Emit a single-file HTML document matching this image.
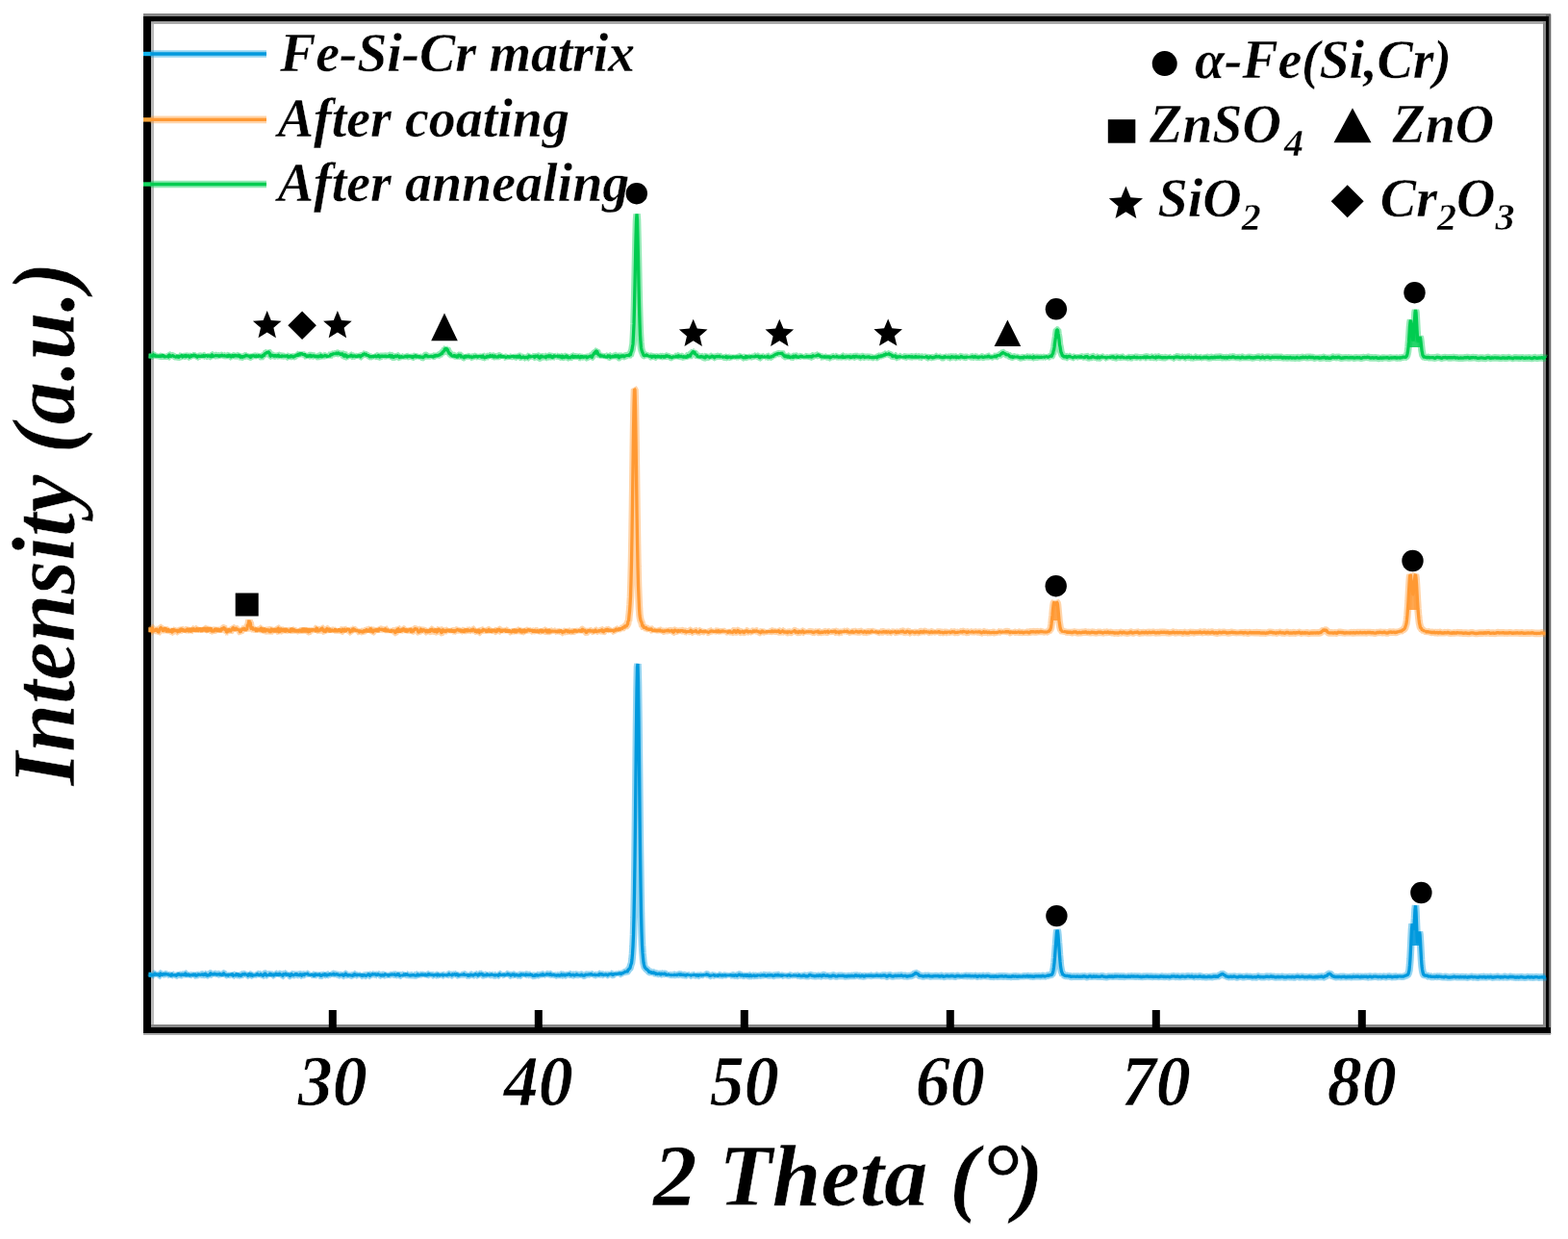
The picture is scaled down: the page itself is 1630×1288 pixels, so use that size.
<!DOCTYPE html>
<html lang="en"><head><meta charset="utf-8"><title>XRD patterns</title>
<style>html,body{margin:0;padding:0;background:#fff}body{width:1630px;height:1288px}svg{display:block}text{font-family:'Liberation Serif', 'DejaVu Serif', serif;font-weight:bold;font-style:italic;fill:#000}</style></head><body>
<svg width="1630" height="1288" viewBox="0 0 1630 1288">
<rect x="0" y="0" width="1630" height="1288" fill="#fff"/>
<g fill="#000">
<rect x="149" y="15" width="8" height="1060"/>
<rect x="157" y="15" width="3" height="1055" fill="#bbb"/>
<rect x="149" y="14" width="1463" height="3" fill="#888"/>
<rect x="149" y="17" width="1463" height="5.5"/>
<rect x="157" y="22.5" width="1450" height="2.5" fill="#aaa"/>
<rect x="1604" y="22" width="3" height="1046" fill="#888"/>
<rect x="1607" y="15" width="5.3" height="1060" fill="#666"/>
<rect x="1607" y="17" width="3" height="1056"/>
<rect x="157" y="1065" width="1450" height="3" fill="#888"/>
<rect x="149" y="1068" width="1463" height="6"/>
<rect x="149" y="1074" width="1463" height="2" fill="#aaa"/>
<rect x="341.8" y="1050" width="8" height="20"/>
<rect x="555.8" y="1050" width="8" height="20"/>
<rect x="769.8" y="1050" width="8" height="20"/>
<rect x="983.8" y="1050" width="8" height="20"/>
<rect x="1197.8" y="1050" width="8" height="20"/>
<rect x="1411.8" y="1050" width="8" height="20"/>
<rect x="149" y="53.8" width="8" height="4.4" fill="#12b4ee"/>
<rect x="149" y="122.2" width="8" height="4.4" fill="#f7a53a"/>
<rect x="149" y="189.3" width="8" height="4.4" fill="#16d862"/>
<rect x="154.5" y="1010.7" width="3" height="5" fill="#12c0f2"/>
<rect x="154.5" y="652.3" width="3" height="5" fill="#ffb84a"/>
<rect x="154.5" y="367.6" width="3" height="5" fill="#2ee070"/>
</g>
<path fill="#00cc50" fill-opacity="0.85" d="M1464.5,361.0 L1464.5,355.3 L1465.0,347.8 L1465.5,340.2 L1466.0,334.7 L1466.5,333.1 L1467.0,336.1 L1467.5,342.0 L1468.0,348.4 L1468.5,353.0 L1469.0,353.8 L1469.5,350.1 L1470.0,342.6 L1470.5,333.1 L1471.0,325.0 L1471.5,321.7 L1472.0,325.0 L1472.5,333.1 L1473.0,342.6 L1473.5,350.3 L1474.0,354.5 L1474.5,355.0 L1475.0,353.1 L1475.5,350.6 L1476.0,349.7 L1476.5,351.5 L1477.0,355.3 L1477.5,359.9 L1477.5,361.0 Z"/>
<path fill="#ff9933" fill-opacity="0.85" d="M1463.5,634.0 L1463.5,632.8 L1464.0,624.9 L1464.5,616.0 L1465.0,607.2 L1465.5,600.1 L1466.0,596.9 L1466.5,598.4 L1467.0,603.4 L1467.5,609.5 L1468.0,614.7 L1468.5,617.6 L1469.0,617.6 L1469.5,614.7 L1470.0,609.5 L1470.5,603.4 L1471.0,598.4 L1471.5,596.9 L1472.0,600.1 L1472.5,607.2 L1473.0,616.0 L1473.5,624.9 L1474.0,632.8 L1474.0,634.0 Z"/>
<path fill="#ff9933" fill-opacity="0.85" d="M1093.5,645.0 L1093.5,644.9 L1094.0,639.6 L1094.5,633.9 L1095.0,629.0 L1095.5,626.3 L1096.0,626.2 L1096.5,627.7 L1097.0,629.0 L1097.5,629.0 L1098.0,627.7 L1098.5,626.2 L1099.0,626.3 L1099.5,629.0 L1100.0,634.0 L1100.5,639.7 L1101.0,644.9 L1101.0,645.0 Z"/>
<path fill="#0099dd" fill-opacity="0.85" d="M1467.0,983.0 L1467.0,975.6 L1467.5,965.9 L1468.0,960.8 L1468.5,961.6 L1469.0,965.1 L1469.5,966.5 L1470.0,962.9 L1470.5,954.5 L1471.0,945.3 L1471.5,941.7 L1472.0,947.6 L1472.5,959.6 L1473.0,971.6 L1473.5,979.1 L1474.0,980.3 L1474.5,976.6 L1475.0,971.1 L1475.5,968.3 L1476.0,971.0 L1476.5,978.7 L1476.5,983.0 Z"/>
<g fill="none" stroke-linejoin="bevel" stroke-linecap="butt">
<g stroke="#0099dd">
<path stroke-width="7.6" stroke-opacity="0.42" d="M157.0,1012.2 L157.5,1014.2 L158.0,1013.9 L158.5,1012.5 L159.0,1013.2 L159.5,1013.1 L160.0,1013.6 L160.5,1014.0 L161.0,1012.1 L161.5,1011.9 L162.0,1014.1 L162.5,1013.0 L163.0,1013.9 L163.5,1011.8 L164.0,1013.0 L164.5,1013.8 L165.0,1012.4 L165.5,1014.4 L166.0,1014.3 L166.5,1011.9 L167.0,1011.9 L167.5,1013.3 L168.0,1014.4 L168.5,1012.9 L169.0,1012.4 L169.5,1013.0 L170.0,1011.9 L170.5,1012.4 L171.0,1013.0 L171.5,1013.2 L172.0,1012.5 L172.5,1012.5 L173.0,1012.4 L173.5,1013.1 L174.0,1012.6 L174.5,1011.9 L175.0,1014.1 L175.5,1013.4 L176.0,1013.6 L176.5,1012.3 L177.0,1014.6 L177.5,1014.2 L178.0,1012.2 L178.5,1012.7 L179.0,1013.8 L179.5,1013.8 L180.0,1014.4 L180.5,1013.0 L181.0,1014.1 L181.5,1013.7 L182.0,1012.7 L182.5,1013.5 L183.0,1014.3 L183.5,1014.2 L184.0,1013.2 L184.5,1013.5 L185.0,1011.9 L185.5,1012.5 L186.0,1014.0 L186.5,1013.0 L187.0,1012.3 L187.5,1013.4 L188.0,1013.8 L188.5,1013.7 L189.0,1012.9 L189.5,1013.0 L190.0,1013.2 L190.5,1014.0 L191.0,1013.3 L191.5,1012.9 L192.0,1013.2 L192.5,1011.9 L193.0,1012.0 L193.5,1013.8 L194.0,1014.6 L194.5,1013.5 L195.0,1012.9 L195.5,1012.3 L196.0,1013.2 L196.5,1014.5 L197.0,1014.0 L197.5,1013.3 L198.0,1014.2 L198.5,1012.5 L199.0,1013.3 L199.5,1014.5 L200.0,1013.4 L200.5,1013.1 L201.0,1012.6 L201.5,1013.4 L202.0,1014.5 L202.5,1011.9 L203.0,1014.0 L203.5,1014.1 L204.0,1014.3 L204.5,1013.9 L205.0,1014.1 L205.5,1013.3 L206.0,1013.4 L206.5,1013.0 L207.0,1012.0 L207.5,1014.2 L208.0,1013.4 L208.5,1012.4 L209.0,1013.2 L209.5,1013.2 L210.0,1012.8 L210.5,1012.8 L211.0,1013.3 L211.5,1013.6 L212.0,1013.5 L212.5,1013.1 L213.0,1011.9 L213.5,1012.5 L214.0,1012.4 L214.5,1013.5 L215.0,1014.2 L215.5,1014.0 L216.0,1014.0 L216.5,1014.1 L217.0,1012.6 L217.5,1014.2 L218.0,1013.7 L218.5,1012.1 L219.0,1011.9 L219.5,1011.9 L220.0,1013.9 L220.5,1012.6 L221.0,1012.2 L221.5,1013.6 L222.0,1012.8 L222.5,1012.1 L223.0,1012.3 L223.5,1013.3 L224.0,1012.3 L224.5,1012.6 L225.0,1013.8 L225.5,1013.1 L226.0,1012.8 L226.5,1013.2 L227.0,1011.9 L227.5,1012.9 L228.0,1013.0 L228.5,1012.4 L229.0,1012.2 L229.5,1014.3 L230.0,1013.3 L230.5,1012.5 L231.0,1013.5 L231.5,1014.1 L232.0,1011.9 L232.5,1011.9 L233.0,1012.3 L233.5,1013.8 L234.0,1012.3 L234.5,1013.8 L235.0,1013.7 L235.5,1013.4 L236.0,1012.5 L236.5,1014.5 L237.0,1014.0 L237.5,1013.3 L238.0,1012.5 L238.5,1013.6 L239.0,1013.0 L239.5,1013.5 L240.0,1012.8 L240.5,1013.6 L241.0,1012.1 L241.5,1012.7 L242.0,1014.5 L242.5,1014.3 L243.0,1012.7 L243.5,1014.2 L244.0,1012.7 L244.5,1014.4 L245.0,1013.9 L245.5,1013.0 L246.0,1012.6 L246.5,1011.9 L247.0,1014.3 L247.5,1012.0 L248.0,1014.1 L248.5,1014.5 L249.0,1013.4 L249.5,1012.4 L250.0,1014.2 L250.5,1014.5 L251.0,1013.8 L251.5,1013.3 L252.0,1012.9 L252.5,1012.8 L253.0,1012.5 L253.5,1013.7 L254.0,1013.1 L254.5,1012.4 L255.0,1012.2 L255.5,1013.7 L256.0,1012.7 L256.5,1013.3 L257.0,1012.8 L257.5,1014.3 L258.0,1014.3 L258.5,1012.0 L259.0,1012.5 L259.5,1012.8 L260.0,1014.6 L260.5,1014.0 L261.0,1012.8 L261.5,1012.5 L262.0,1013.7 L262.5,1014.2 L263.0,1014.4 L263.5,1012.8 L264.0,1014.3 L264.5,1013.8 L265.0,1013.2 L265.5,1014.6 L266.0,1012.6 L266.5,1013.9 L267.0,1012.2 L267.5,1012.4 L268.0,1014.4 L268.5,1012.5 L269.0,1014.0 L269.5,1013.5 L270.0,1014.2 L270.5,1012.9 L271.0,1012.8 L271.5,1012.7 L272.0,1014.2 L272.5,1013.5 L273.0,1014.5 L273.5,1014.3 L274.0,1012.3 L274.5,1013.4 L275.0,1012.2 L275.5,1012.0 L276.0,1012.1 L276.5,1014.2 L277.0,1014.0 L277.5,1014.1 L278.0,1012.8 L278.5,1013.6 L279.0,1014.0 L279.5,1012.9 L280.0,1013.5 L280.5,1012.5 L281.0,1012.2 L281.5,1012.7 L282.0,1014.3 L282.5,1013.4 L283.0,1014.4 L283.5,1013.2 L284.0,1012.7 L284.5,1014.0 L285.0,1014.1 L285.5,1012.0 L286.0,1013.7 L286.5,1012.2 L287.0,1012.3 L287.5,1014.3 L288.0,1012.1 L288.5,1012.6 L289.0,1014.6 L289.5,1013.1 L290.0,1012.3 L290.5,1012.4 L291.0,1012.6 L291.5,1013.9 L292.0,1012.2 L292.5,1014.4 L293.0,1013.0 L293.5,1014.5 L294.0,1014.4 L294.5,1012.7 L295.0,1012.6 L295.5,1013.2 L296.0,1012.2 L296.5,1013.7 L297.0,1012.1 L297.5,1012.0 L298.0,1014.5 L298.5,1012.7 L299.0,1013.5 L299.5,1013.1 L300.0,1012.8 L300.5,1012.1 L301.0,1014.4 L301.5,1014.5 L302.0,1014.5 L302.5,1012.3 L303.0,1012.5 L303.5,1013.6 L304.0,1014.5 L304.5,1013.4 L305.0,1013.8 L305.5,1013.7 L306.0,1012.7 L306.5,1013.4 L307.0,1012.8 L307.5,1012.6 L308.0,1012.2 L308.5,1012.7 L309.0,1014.5 L309.5,1013.2 L310.0,1013.7 L310.5,1013.7 L311.0,1014.4 L311.5,1013.0 L312.0,1012.8 L312.5,1012.8 L313.0,1012.8 L313.5,1014.2 L314.0,1014.3 L314.5,1012.8 L315.0,1012.9 L315.5,1013.4 L316.0,1013.5 L316.5,1013.5 L317.0,1012.6 L317.5,1012.0 L318.0,1012.6 L318.5,1012.2 L319.0,1013.4 L319.5,1012.2 L320.0,1012.2 L320.5,1013.6 L321.0,1012.7 L321.5,1014.1 L322.0,1013.3 L322.5,1014.2 L323.0,1012.4 L323.5,1013.3 L324.0,1014.1 L324.5,1012.2 L325.0,1014.5 L325.5,1012.4 L326.0,1014.0 L326.5,1014.6 L327.0,1014.1 L327.5,1012.8 L328.0,1012.3 L328.5,1013.3 L329.0,1014.4 L329.5,1012.8 L330.0,1014.3 L330.5,1012.4 L331.0,1014.4 L331.5,1012.1 L332.0,1012.8 L332.5,1014.3 L333.0,1014.1 L333.5,1014.4 L334.0,1014.2 L334.5,1013.9 L335.0,1013.8 L335.5,1012.5 L336.0,1013.1 L336.5,1012.4 L337.0,1013.9 L337.5,1013.7 L338.0,1012.7 L338.5,1012.2 L339.0,1014.5 L339.5,1014.1 L340.0,1013.4 L340.5,1013.4 L341.0,1014.2 L341.5,1013.2 L342.0,1013.0 L342.5,1012.9 L343.0,1012.7 L343.5,1012.1 L344.0,1013.7 L344.5,1013.1 L345.0,1013.5 L345.5,1012.2 L346.0,1012.9 L346.5,1012.4 L347.0,1012.3 L347.5,1012.7 L348.0,1014.2 L348.5,1013.0 L349.0,1013.1 L349.5,1013.6 L350.0,1012.6 L350.5,1012.0 L351.0,1013.4 L351.5,1013.3 L352.0,1013.7 L352.5,1013.2 L353.0,1013.8 L353.5,1013.9 L354.0,1012.6 L354.5,1013.3 L355.0,1013.3 L355.5,1012.6 L356.0,1013.1 L356.5,1013.5 L357.0,1014.4 L357.5,1014.4 L358.0,1012.7 L358.5,1013.7 L359.0,1012.2 L359.5,1012.2 L360.0,1013.3 L360.5,1014.3 L361.0,1012.4 L361.5,1014.0 L362.0,1014.3 L362.5,1012.8 L363.0,1013.8 L363.5,1014.2 L364.0,1013.0 L364.5,1013.8 L365.0,1013.9 L365.5,1013.6 L366.0,1014.2 L366.5,1014.3 L367.0,1014.5 L367.5,1013.5 L368.0,1012.5 L368.5,1012.7 L369.0,1012.6 L369.5,1013.5 L370.0,1014.0 L370.5,1012.2 L371.0,1013.8 L371.5,1013.9 L372.0,1012.9 L372.5,1013.4 L373.0,1012.5 L373.5,1013.9 L374.0,1012.2 L374.5,1014.5 L375.0,1014.1 L375.5,1013.6 L376.0,1012.7 L376.5,1014.4 L377.0,1014.5 L377.5,1012.4 L378.0,1014.0 L378.5,1014.2 L379.0,1013.7 L379.5,1013.8 L380.0,1013.2 L380.5,1014.4 L381.0,1014.5 L381.5,1013.0 L382.0,1014.1 L382.5,1013.2 L383.0,1012.5 L383.5,1012.9 L384.0,1012.4 L384.5,1014.4 L385.0,1014.5 L385.5,1012.4 L386.0,1013.6 L386.5,1013.1 L387.0,1012.4 L387.5,1012.8 L388.0,1012.7 L388.5,1014.0 L389.0,1012.1 L389.5,1012.6 L390.0,1013.2 L390.5,1012.1 L391.0,1013.7 L391.5,1013.6 L392.0,1014.2 L392.5,1012.6 L393.0,1012.8 L393.5,1013.4 L394.0,1012.8 L394.5,1013.5 L395.0,1012.7 L395.5,1013.8 L396.0,1014.1 L396.5,1014.1 L397.0,1014.5 L397.5,1013.4 L398.0,1013.3 L398.5,1014.2 L399.0,1014.0 L399.5,1013.5 L400.0,1013.0 L400.5,1012.8 L401.0,1012.4 L401.5,1014.1 L402.0,1012.4 L402.5,1014.0 L403.0,1013.5 L403.5,1014.5 L404.0,1014.0 L404.5,1014.5 L405.0,1012.4 L405.5,1013.3 L406.0,1013.5 L406.5,1012.9 L407.0,1013.3 L407.5,1013.0 L408.0,1013.4 L408.5,1012.1 L409.0,1013.2 L409.5,1013.2 L410.0,1012.9 L410.5,1013.1 L411.0,1014.0 L411.5,1013.8 L412.0,1013.3 L412.5,1013.7 L413.0,1013.0 L413.5,1012.6 L414.0,1012.1 L414.5,1012.8 L415.0,1013.6 L415.5,1014.3 L416.0,1014.2 L416.5,1013.4 L417.0,1014.5 L417.5,1013.3 L418.0,1014.2 L418.5,1013.1 L419.0,1013.9 L419.5,1014.5 L420.0,1012.9 L420.5,1012.5 L421.0,1013.6 L421.5,1013.4 L422.0,1013.0 L422.5,1012.1 L423.0,1013.1 L423.5,1013.2 L424.0,1013.1 L424.5,1014.2 L425.0,1013.6 L425.5,1013.9 L426.0,1014.3 L426.5,1014.0 L427.0,1013.3 L427.5,1013.9 L428.0,1013.7 L428.5,1013.7 L429.0,1013.7 L429.5,1013.1 L430.0,1013.7 L430.5,1013.7 L431.0,1014.4 L431.5,1014.0 L432.0,1014.2 L432.5,1014.0 L433.0,1014.1 L433.5,1013.6 L434.0,1013.0 L434.5,1012.8 L435.0,1013.9 L435.5,1014.3 L436.0,1013.5 L436.5,1012.5 L437.0,1014.2 L437.5,1013.3 L438.0,1013.3 L438.5,1012.3 L439.0,1013.4 L439.5,1013.9 L440.0,1013.2 L440.5,1013.0 L441.0,1013.7 L441.5,1012.2 L442.0,1013.4 L442.5,1014.4 L443.0,1013.8 L443.5,1013.1 L444.0,1013.8 L444.5,1013.6 L445.0,1012.7 L445.5,1012.7 L446.0,1014.3 L446.5,1012.8 L447.0,1012.4 L447.5,1014.1 L448.0,1013.4 L448.5,1013.0 L449.0,1013.4 L449.5,1013.9 L450.0,1012.6 L450.5,1013.7 L451.0,1013.9 L451.5,1014.1 L452.0,1012.8 L452.5,1013.6 L453.0,1012.7 L453.5,1013.5 L454.0,1012.6 L454.5,1014.0 L455.0,1014.2 L455.5,1013.0 L456.0,1012.7 L456.5,1014.5 L457.0,1013.9 L457.5,1014.2 L458.0,1012.3 L458.5,1014.3 L459.0,1013.7 L459.5,1012.9 L460.0,1013.2 L460.5,1014.0 L461.0,1014.0 L461.5,1012.6 L462.0,1013.7 L462.5,1012.6 L463.0,1014.5 L463.5,1013.2 L464.0,1014.3 L464.5,1013.9 L465.0,1013.6 L465.5,1012.8 L466.0,1013.4 L466.5,1012.5 L467.0,1012.5 L467.5,1013.9 L468.0,1013.0 L468.5,1014.0 L469.0,1012.8 L469.5,1013.9 L470.0,1013.9 L470.5,1012.9 L471.0,1012.5 L471.5,1013.1 L472.0,1013.4 L472.5,1012.5 L473.0,1012.7 L473.5,1012.3 L474.0,1013.6 L474.5,1014.3 L475.0,1012.7 L475.5,1012.3 L476.0,1013.8 L476.5,1014.1 L477.0,1014.4 L477.5,1013.6 L478.0,1013.0 L478.5,1014.2 L479.0,1012.5 L479.5,1013.8 L480.0,1012.5 L480.5,1013.1 L481.0,1013.4 L481.5,1013.1 L482.0,1012.6 L482.5,1012.8 L483.0,1014.1 L483.5,1013.3 L484.0,1013.6 L484.5,1012.7 L485.0,1013.9 L485.5,1013.0 L486.0,1013.6 L486.5,1014.3 L487.0,1014.5 L487.5,1012.4 L488.0,1014.1 L488.5,1014.2 L489.0,1013.0 L489.5,1013.1 L490.0,1013.6 L490.5,1014.3 L491.0,1013.2 L491.5,1014.2 L492.0,1014.0 L492.5,1012.6 L493.0,1014.3 L493.5,1012.3 L494.0,1012.6 L494.5,1013.8 L495.0,1012.4 L495.5,1013.1 L496.0,1012.6 L496.5,1013.3 L497.0,1014.1 L497.5,1014.3 L498.0,1012.3 L498.5,1012.4 L499.0,1014.1 L499.5,1012.4 L500.0,1012.9 L500.5,1012.5 L501.0,1012.5 L501.5,1012.3 L502.0,1013.7 L502.5,1013.9 L503.0,1013.8 L503.5,1014.2 L504.0,1013.7 L504.5,1013.1 L505.0,1013.7 L505.5,1014.4 L506.0,1013.7 L506.5,1012.8 L507.0,1012.4 L507.5,1014.4 L508.0,1013.6 L508.5,1013.1 L509.0,1013.6 L509.5,1013.5 L510.0,1013.4 L510.5,1012.4 L511.0,1013.1 L511.5,1013.2 L512.0,1012.7 L512.5,1014.2 L513.0,1013.2 L513.5,1013.7 L514.0,1013.9 L514.5,1013.9 L515.0,1013.9 L515.5,1013.9 L516.0,1012.8 L516.5,1014.4 L517.0,1012.6 L517.5,1014.3 L518.0,1014.2 L518.5,1014.2 L519.0,1012.4 L519.5,1012.5 L520.0,1014.1 L520.5,1013.3 L521.0,1013.1 L521.5,1014.4 L522.0,1012.4 L522.5,1013.5 L523.0,1013.3 L523.5,1012.6 L524.0,1013.2 L524.5,1013.8 L525.0,1014.2 L525.5,1012.4 L526.0,1013.4 L526.5,1012.5 L527.0,1014.0 L527.5,1012.5 L528.0,1012.4 L528.5,1013.1 L529.0,1013.9 L529.5,1013.0 L530.0,1012.6 L530.5,1014.0 L531.0,1014.1 L531.5,1014.2 L532.0,1013.0 L532.5,1013.2 L533.0,1012.8 L533.5,1013.5 L534.0,1013.0 L534.5,1013.0 L535.0,1014.0 L535.5,1014.4 L536.0,1013.6 L536.5,1012.5 L537.0,1013.7 L537.5,1013.3 L538.0,1014.4 L538.5,1013.9 L539.0,1014.1 L539.5,1013.8 L540.0,1013.5 L540.5,1014.2 L541.0,1014.1 L541.5,1013.0 L542.0,1012.7 L542.5,1013.1 L543.0,1013.4 L543.5,1012.5 L544.0,1013.1 L544.5,1013.6 L545.0,1012.4 L545.5,1014.1 L546.0,1013.7 L546.5,1013.0 L547.0,1013.0 L547.5,1013.1 L548.0,1013.0 L548.5,1013.9 L549.0,1013.4 L549.5,1013.4 L550.0,1012.7 L550.5,1014.3 L551.0,1013.0 L551.5,1013.0 L552.0,1012.5 L552.5,1014.4 L553.0,1013.4 L553.5,1014.3 L554.0,1014.3 L554.5,1014.4 L555.0,1014.1 L555.5,1014.3 L556.0,1014.3 L556.5,1014.0 L557.0,1012.6 L557.5,1013.4 L558.0,1013.5 L558.5,1014.4 L559.0,1014.0 L559.5,1013.8 L560.0,1013.9 L560.5,1013.1 L561.0,1014.3 L561.5,1013.7 L562.0,1013.2 L562.5,1013.3 L563.0,1014.4 L563.5,1013.5 L564.0,1012.7 L564.5,1012.7 L565.0,1013.8 L565.5,1013.5 L566.0,1014.2 L566.5,1012.7 L567.0,1013.2 L567.5,1013.9 L568.0,1012.5 L568.5,1012.6 L569.0,1013.5 L569.5,1012.9 L570.0,1012.6 L570.5,1012.9 L571.0,1013.7 L571.5,1013.4 L572.0,1012.5 L572.5,1012.5 L573.0,1014.1 L573.5,1013.7 L574.0,1012.7 L574.5,1014.1 L575.0,1012.4 L575.5,1013.1 L576.0,1014.1 L576.5,1013.8 L577.0,1012.9 L577.5,1014.2 L578.0,1013.6 L578.5,1014.1 L579.0,1014.2 L579.5,1013.2 L580.0,1013.7 L580.5,1013.5 L581.0,1014.3 L581.5,1014.0 L582.0,1013.8 L582.5,1014.0 L583.0,1014.4 L583.5,1012.9 L584.0,1012.8 L584.5,1013.9 L585.0,1013.9 L585.5,1013.4 L586.0,1013.3 L586.5,1013.2 L587.0,1014.1 L587.5,1014.0 L588.0,1013.5 L588.5,1012.4 L589.0,1014.1 L589.5,1013.3 L590.0,1012.7 L590.5,1013.0 L591.0,1013.7 L591.5,1012.4 L592.0,1012.6 L592.5,1013.0 L593.0,1014.1 L593.5,1013.8 L594.0,1014.3 L594.5,1013.4 L595.0,1013.5 L595.5,1013.4 L596.0,1013.4 L596.5,1013.4 L597.0,1014.0 L597.5,1014.2 L598.0,1013.2 L598.5,1013.6 L599.0,1013.0 L599.5,1012.9 L600.0,1013.3 L600.5,1013.5 L601.0,1013.4 L601.5,1014.3 L602.0,1012.7 L602.5,1013.6 L603.0,1014.3 L603.5,1013.8 L604.0,1013.4 L604.5,1013.1 L605.0,1013.1 L605.5,1014.2 L606.0,1014.1 L606.5,1013.6 L607.0,1014.1 L607.5,1014.1 L608.0,1014.0 L608.5,1013.1 L609.0,1013.2 L609.5,1013.9 L610.0,1013.0 L610.5,1013.8 L611.0,1013.2 L611.5,1013.0 L612.0,1013.2 L612.5,1012.5 L613.0,1013.0 L613.5,1013.1 L614.0,1012.3 L614.5,1012.6 L615.0,1012.8 L615.5,1013.9 L616.0,1013.4 L616.5,1012.8 L617.0,1014.2 L617.5,1012.8 L618.0,1013.2 L618.5,1013.7 L619.0,1013.6 L619.5,1013.1 L620.0,1013.7 L620.5,1013.2 L621.0,1013.6 L621.5,1013.2 L622.0,1014.1 L622.5,1013.6 L623.0,1012.4 L623.5,1012.4 L624.0,1014.0 L624.5,1012.6 L625.0,1012.2 L625.5,1012.6 L626.0,1013.1 L626.5,1013.9 L627.0,1012.9 L627.5,1013.5 L628.0,1013.7 L628.5,1012.3 L629.0,1013.2 L629.5,1014.0 L630.0,1013.1 L630.5,1013.1 L631.0,1012.7 L631.5,1013.8 L632.0,1013.8 L632.5,1012.2 L633.0,1013.0 L633.5,1012.7 L634.0,1013.2 L634.5,1012.1 L635.0,1012.4 L635.5,1012.4 L636.0,1012.7 L636.5,1013.3 L637.0,1013.4 L637.5,1013.2 L638.0,1013.0 L638.5,1011.9 L639.0,1012.4 L639.5,1012.9 L640.0,1012.1 L640.5,1012.5 L641.0,1013.2 L641.5,1011.7 L642.0,1013.0 L642.5,1011.5 L643.0,1012.0 L643.5,1012.9 L644.0,1011.5 L644.5,1012.0 L645.0,1011.7 L645.5,1012.5 L646.0,1012.6 L646.5,1011.2 L647.0,1011.5 L647.5,1012.1 L648.0,1011.3 L648.5,1010.5 L649.0,1011.3 L649.5,1010.4 L650.0,1010.4 L650.5,1009.3 L651.0,1010.8 L651.5,1009.9 L652.0,1010.0 L652.5,1009.7 L653.0,1008.0 L653.5,1007.9 L654.0,1007.1 L654.5,1007.0 L655.0,1006.2 L655.5,1004.0 L656.0,1002.5 L656.5,1001.2 L657.0,997.3 L657.5,991.6 L658.0,983.6 L658.5,971.7 L659.0,953.2 L659.5,927.8 L660.0,892.8 L660.5,851.2 L661.0,803.6 L661.5,757.1 L662.0,716.9 L662.5,693.2 L663.0,690.0 L663.5,710.4 L664.0,748.3 L664.5,794.6 L665.0,841.7 L665.5,885.2 L666.0,920.3 L666.5,949.2 L667.0,968.8 L667.5,982.2 L668.0,990.2 L668.5,996.3 L669.0,1000.6 L669.5,1002.9 L670.0,1004.8 L670.5,1006.2 L671.0,1006.1 L671.5,1007.2 L672.0,1007.5 L672.5,1007.7 L673.0,1008.2 L673.5,1008.8 L674.0,1008.9 L674.5,1010.0 L675.0,1010.6 L675.5,1010.6 L676.0,1011.0 L676.5,1010.4 L677.0,1010.5 L677.5,1011.4 L678.0,1012.1 L678.5,1011.4 L679.0,1010.8 L679.5,1010.9 L680.0,1011.5 L680.5,1012.2 L681.0,1011.3 L681.5,1011.6 L682.0,1012.5 L682.5,1013.1 L683.0,1012.1 L683.5,1012.6 L684.0,1012.5 L684.5,1011.7 L685.0,1012.3 L685.5,1012.0 L686.0,1012.2 L686.5,1013.2 L687.0,1013.0 L687.5,1012.0 L688.0,1012.1 L688.5,1013.2 L689.0,1012.2 L689.5,1012.6 L690.0,1012.5 L690.5,1012.2 L691.0,1012.2 L691.5,1012.4 L692.0,1012.8 L692.5,1013.8 L693.0,1013.3 L693.5,1012.6 L694.0,1013.4 L694.5,1012.7 L695.0,1013.2 L695.5,1012.9 L696.0,1013.9 L696.5,1012.9 L697.0,1013.7 L697.5,1013.5 L698.0,1013.8 L698.5,1013.4 L699.0,1013.9 L699.5,1013.1 L700.0,1013.6 L700.5,1013.5 L701.0,1013.4 L701.5,1013.4 L702.0,1013.4 L702.5,1013.2 L703.0,1014.0 L703.5,1013.6 L704.0,1013.4 L704.5,1012.6 L705.0,1013.4 L705.5,1012.8 L706.0,1012.9 L706.5,1013.3 L707.0,1013.5 L707.5,1013.0 L708.0,1013.0 L708.5,1013.5 L709.0,1013.4 L709.5,1013.3 L710.0,1012.8 L710.5,1013.3 L711.0,1013.7 L711.5,1013.6 L712.0,1013.6 L712.5,1014.1 L713.0,1013.9 L713.5,1013.8 L714.0,1012.7 L714.5,1013.2 L715.0,1013.8 L715.5,1013.0 L716.0,1014.2 L716.5,1012.9 L717.0,1014.2 L717.5,1013.1 L718.0,1014.1 L718.5,1014.1 L719.0,1013.3 L719.5,1014.2 L720.0,1013.0 L720.5,1014.2 L721.0,1013.4 L721.5,1013.5 L722.0,1013.0 L722.5,1013.8 L723.0,1013.2 L723.5,1013.9 L724.0,1014.1 L724.5,1013.8 L725.0,1012.8 L725.5,1014.4 L726.0,1014.3 L726.5,1013.9 L727.0,1013.4 L727.5,1013.7 L728.0,1014.3 L728.5,1013.6 L729.0,1014.1 L729.5,1013.8 L730.0,1013.5 L730.5,1014.4 L731.0,1013.5 L731.5,1013.8 L732.0,1012.9 L732.5,1013.6 L733.0,1012.9 L733.5,1014.0 L734.0,1012.9 L734.5,1012.9 L735.0,1013.0 L735.5,1013.1 L736.0,1013.7 L736.5,1013.5 L737.0,1013.3 L737.5,1014.5 L738.0,1014.4 L738.5,1014.0 L739.0,1014.2 L739.5,1014.2 L740.0,1013.3 L740.5,1014.2 L741.0,1013.3 L741.5,1013.8 L742.0,1013.5 L742.5,1013.2 L743.0,1014.2 L743.5,1014.4 L744.0,1013.4 L744.5,1014.4 L745.0,1013.5 L745.5,1014.0 L746.0,1014.6 L746.5,1014.2 L747.0,1013.0 L747.5,1013.7 L748.0,1013.6 L748.5,1013.4 L749.0,1014.3 L749.5,1013.7 L750.0,1014.1 L750.5,1014.0 L751.0,1013.8 L751.5,1013.1 L752.0,1014.1 L752.5,1014.4 L753.0,1013.3 L753.5,1014.0 L754.0,1013.8 L754.5,1013.5 L755.0,1014.1 L755.5,1014.6 L756.0,1013.0 L756.5,1014.5 L757.0,1013.6 L757.5,1014.4 L758.0,1013.3 L758.5,1014.2 L759.0,1013.2 L759.5,1013.6 L760.0,1014.6 L760.5,1014.1 L761.0,1014.3 L761.5,1013.8 L762.0,1013.8 L762.5,1013.8 L763.0,1014.3 L763.5,1014.2 L764.0,1013.4 L764.5,1013.8 L765.0,1013.9 L765.5,1014.0 L766.0,1014.5 L766.5,1014.4 L767.0,1013.3 L767.5,1013.7 L768.0,1013.2 L768.5,1013.1 L769.0,1013.2 L769.5,1013.4 L770.0,1014.3 L770.5,1014.1 L771.0,1014.4 L771.5,1013.5 L772.0,1013.3 L772.5,1014.6 L773.0,1014.4 L773.5,1014.6 L774.0,1013.1 L774.5,1013.7 L775.0,1014.1 L775.5,1014.3 L776.0,1014.6 L776.5,1014.0 L777.0,1013.7 L777.5,1013.1 L778.0,1014.4 L778.5,1014.7 L779.0,1014.6 L779.5,1014.2 L780.0,1013.7 L780.5,1013.5 L781.0,1014.4 L781.5,1014.6 L782.0,1014.7 L782.5,1013.4 L783.0,1014.1 L783.5,1014.0 L784.0,1013.8 L784.5,1014.4 L785.0,1014.6 L785.5,1014.3 L786.0,1014.3 L786.5,1014.3 L787.0,1014.2 L787.5,1014.0 L788.0,1013.6 L788.5,1014.4 L789.0,1013.4 L789.5,1014.2 L790.0,1013.8 L790.5,1014.1 L791.0,1014.2 L791.5,1013.9 L792.0,1014.7 L792.5,1013.6 L793.0,1013.2 L793.5,1014.7 L794.0,1013.7 L794.5,1013.6 L795.0,1013.9 L795.5,1014.1 L796.0,1014.8 L796.5,1014.3 L797.0,1013.7 L797.5,1014.1 L798.0,1013.9 L798.5,1014.0 L799.0,1013.9 L799.5,1013.5 L800.0,1013.9 L800.5,1013.8 L801.0,1013.6 L801.5,1014.5 L802.0,1013.8 L802.5,1013.5 L803.0,1014.1 L803.5,1014.6 L804.0,1014.5 L804.5,1014.2 L805.0,1014.4 L805.5,1013.8 L806.0,1013.5 L806.5,1013.7 L807.0,1013.8 L807.5,1013.7 L808.0,1014.0 L808.5,1013.5 L809.0,1013.5 L809.5,1013.7 L810.0,1013.6 L810.5,1014.5 L811.0,1014.1 L811.5,1013.6 L812.0,1014.0 L812.5,1014.6 L813.0,1014.2 L813.5,1014.2 L814.0,1013.9 L814.5,1013.6 L815.0,1014.3 L815.5,1013.4 L816.0,1014.5 L816.5,1013.4 L817.0,1014.5 L817.5,1013.9 L818.0,1014.4 L818.5,1014.2 L819.0,1013.5 L819.5,1014.2 L820.0,1013.4 L820.5,1013.7 L821.0,1013.9 L821.5,1013.8 L822.0,1014.3 L822.5,1014.8 L823.0,1013.9 L823.5,1014.6 L824.0,1013.7 L824.5,1014.4 L825.0,1013.9 L825.5,1014.2 L826.0,1013.5 L826.5,1014.6 L827.0,1013.7 L827.5,1014.1 L828.0,1013.8 L828.5,1014.6 L829.0,1014.3 L829.5,1014.3 L830.0,1014.5 L830.5,1013.8 L831.0,1013.5 L831.5,1014.6 L832.0,1013.9 L832.5,1014.6 L833.0,1014.8 L833.5,1014.3 L834.5,1014.7 L835.5,1013.8 L836.5,1014.2 L837.5,1014.8 L838.5,1014.6 L839.5,1014.8 L840.5,1014.5 L841.5,1013.4 L842.5,1013.7 L843.5,1014.0 L844.5,1014.4 L845.5,1014.4 L846.5,1014.8 L847.5,1014.7 L848.5,1014.6 L849.5,1013.9 L850.5,1014.7 L851.5,1014.3 L852.5,1013.6 L853.5,1014.7 L854.5,1014.9 L855.5,1013.6 L856.5,1013.6 L857.5,1014.2 L858.5,1014.4 L859.5,1014.3 L860.5,1013.8 L861.5,1014.8 L862.5,1014.7 L863.5,1014.9 L864.5,1014.8 L865.5,1013.8 L866.5,1014.0 L867.5,1014.3 L868.5,1014.8 L869.5,1015.0 L870.5,1014.8 L871.5,1014.2 L872.5,1014.3 L873.5,1014.4 L874.5,1014.3 L875.5,1014.4 L876.5,1013.8 L877.5,1014.8 L878.5,1014.9 L879.5,1014.7 L880.5,1015.1 L881.5,1014.5 L882.5,1014.5 L883.5,1014.9 L884.5,1014.2 L885.5,1014.6 L886.5,1014.3 L887.5,1014.9 L888.5,1014.4 L889.5,1013.7 L890.5,1014.1 L891.5,1014.9 L892.5,1013.8 L893.5,1014.4 L894.5,1015.1 L895.5,1014.6 L896.5,1013.8 L897.5,1014.9 L898.5,1015.1 L899.5,1014.5 L900.5,1013.8 L901.5,1015.0 L902.5,1013.8 L903.5,1014.7 L904.5,1014.0 L905.5,1014.4 L906.5,1014.2 L907.5,1015.1 L908.5,1013.9 L909.5,1015.0 L910.5,1013.9 L911.5,1014.3 L912.5,1013.8 L913.5,1014.8 L914.5,1013.8 L915.5,1014.7 L916.5,1014.4 L917.5,1014.1 L918.5,1014.0 L919.5,1014.0 L920.5,1014.1 L921.5,1015.1 L922.5,1015.1 L923.5,1014.1 L924.5,1013.8 L925.5,1013.9 L926.5,1014.6 L927.5,1014.9 L928.5,1015.0 L929.5,1014.6 L930.5,1014.2 L931.5,1014.4 L932.5,1014.7 L933.5,1014.1 L934.5,1014.3 L935.5,1014.4 L936.5,1013.9 L937.5,1014.0 L938.5,1014.8 L939.5,1014.5 L940.5,1014.3 L941.5,1014.4 L942.5,1015.0 L943.5,1015.0 L944.5,1014.6 L945.5,1014.5 L946.5,1014.5 L947.5,1014.2 L948.5,1014.2 L949.5,1013.1 L950.5,1012.7 L951.5,1011.4 L952.5,1011.8 L953.5,1012.3 L954.5,1012.8 L955.5,1014.1 L956.5,1014.5 L957.5,1014.3 L958.5,1014.7 L959.5,1015.0 L960.5,1014.9 L961.5,1014.4 L962.5,1014.4 L963.5,1015.0 L964.5,1014.3 L965.5,1014.2 L966.5,1014.9 L967.5,1014.9 L968.5,1014.8 L969.5,1015.3 L970.5,1014.3 L971.5,1014.7 L972.5,1014.5 L973.5,1014.6 L974.5,1014.6 L975.5,1014.2 L976.5,1015.3 L977.5,1014.9 L978.5,1014.4 L979.5,1014.3 L980.5,1015.4 L981.5,1015.2 L982.5,1015.0 L983.5,1014.7 L984.5,1014.1 L985.5,1014.8 L986.5,1014.8 L987.5,1014.9 L988.5,1014.5 L989.5,1014.5 L990.5,1014.5 L991.5,1014.8 L992.5,1015.2 L993.5,1015.1 L994.5,1014.5 L995.5,1014.4 L996.5,1014.8 L997.5,1014.3 L998.5,1015.4 L999.5,1014.2 L1000.5,1015.1 L1001.5,1014.3 L1002.5,1014.9 L1003.5,1014.2 L1004.5,1014.5 L1005.5,1014.6 L1006.5,1014.5 L1007.5,1014.5 L1008.5,1014.5 L1009.5,1014.8 L1010.5,1014.7 L1011.5,1014.5 L1012.5,1015.2 L1013.5,1014.5 L1014.5,1014.4 L1015.5,1015.3 L1016.5,1015.3 L1017.5,1014.3 L1018.5,1014.7 L1019.5,1014.8 L1020.5,1015.1 L1021.5,1014.5 L1022.5,1014.4 L1023.5,1015.3 L1024.5,1014.6 L1025.5,1014.8 L1026.5,1014.3 L1027.5,1014.5 L1028.5,1014.8 L1029.5,1015.1 L1030.5,1015.4 L1031.5,1014.8 L1032.5,1015.3 L1033.5,1015.4 L1034.5,1014.5 L1035.5,1015.3 L1036.5,1015.0 L1037.5,1015.4 L1038.5,1014.8 L1039.5,1014.8 L1040.5,1014.9 L1041.5,1014.5 L1042.5,1015.0 L1043.5,1015.2 L1044.5,1014.9 L1045.5,1014.5 L1046.5,1015.1 L1047.5,1015.1 L1048.5,1015.4 L1049.5,1014.9 L1050.5,1015.4 L1051.5,1015.4 L1052.5,1014.5 L1053.5,1015.0 L1054.5,1015.2 L1055.5,1014.8 L1056.5,1015.0 L1057.5,1015.4 L1058.5,1015.1 L1059.5,1014.8 L1060.5,1015.5 L1061.5,1014.7 L1062.5,1015.5 L1063.5,1014.7 L1064.5,1014.8 L1065.5,1014.8 L1066.5,1015.5 L1067.5,1014.4 L1068.5,1014.6 L1069.5,1015.4 L1070.5,1014.7 L1071.5,1015.0 L1072.5,1015.0 L1073.5,1015.0 L1074.5,1015.4 L1075.5,1014.9 L1076.5,1014.8 L1077.5,1014.5 L1078.5,1015.2 L1079.5,1014.6 L1080.5,1014.8 L1081.5,1014.7 L1082.5,1015.1 L1083.5,1014.4 L1084.5,1014.5 L1085.5,1014.8 L1086.0,1015.1 L1086.5,1014.9 L1087.0,1015.2 L1087.5,1014.1 L1088.0,1014.4 L1088.5,1014.5 L1089.0,1014.0 L1089.5,1013.9 L1090.0,1014.2 L1090.5,1014.3 L1091.0,1013.7 L1091.5,1013.5 L1092.0,1013.6 L1092.5,1013.8 L1093.0,1013.3 L1093.5,1013.3 L1094.0,1012.0 L1094.5,1011.0 L1095.0,1008.6 L1095.5,1005.4 L1096.0,1001.1 L1096.5,995.2 L1097.0,988.6 L1097.5,982.1 L1098.0,975.5 L1098.5,969.2 L1099.0,966.9 L1099.5,968.2 L1100.0,972.5 L1100.5,979.5 L1101.0,986.0 L1101.5,993.0 L1102.0,999.2 L1102.5,1004.4 L1103.0,1007.2 L1103.5,1010.0 L1104.0,1010.9 L1104.5,1012.4 L1105.0,1013.6 L1105.5,1013.2 L1106.0,1013.6 L1106.5,1014.1 L1107.0,1014.2 L1107.5,1014.3 L1108.0,1014.5 L1108.5,1014.6 L1109.0,1014.3 L1109.5,1014.4 L1110.0,1014.5 L1110.5,1014.7 L1111.0,1014.8 L1111.5,1015.2 L1112.0,1014.7 L1112.5,1014.8 L1113.0,1015.2 L1113.5,1015.4 L1114.5,1015.2 L1115.5,1015.2 L1116.5,1015.0 L1117.5,1015.2 L1118.5,1015.3 L1119.5,1015.0 L1120.5,1015.1 L1121.5,1015.3 L1122.5,1015.2 L1123.5,1015.3 L1124.5,1015.0 L1125.5,1015.3 L1126.5,1014.7 L1127.5,1015.0 L1128.5,1015.1 L1129.5,1015.6 L1130.5,1015.7 L1131.5,1015.2 L1132.5,1014.9 L1133.5,1014.7 L1134.5,1015.2 L1135.5,1015.7 L1136.5,1014.9 L1137.5,1015.0 L1138.5,1015.6 L1139.5,1015.0 L1140.5,1015.1 L1141.5,1015.3 L1142.5,1015.3 L1143.5,1015.3 L1144.5,1015.0 L1145.5,1014.7 L1146.5,1014.8 L1147.5,1015.4 L1148.5,1015.4 L1149.5,1015.6 L1150.5,1015.6 L1151.5,1015.5 L1152.5,1015.1 L1153.5,1014.9 L1154.5,1015.6 L1155.5,1014.9 L1156.5,1015.2 L1157.5,1015.7 L1158.5,1014.9 L1159.5,1014.9 L1160.5,1015.3 L1161.5,1014.8 L1162.5,1015.0 L1163.5,1015.2 L1164.5,1014.8 L1165.5,1015.2 L1166.5,1015.2 L1167.5,1014.9 L1168.5,1015.2 L1169.5,1015.5 L1170.5,1014.9 L1171.5,1015.8 L1172.5,1015.0 L1173.5,1015.0 L1174.5,1015.7 L1175.5,1014.8 L1176.5,1014.9 L1177.5,1015.1 L1178.5,1014.8 L1179.5,1015.2 L1180.5,1015.1 L1181.5,1015.1 L1182.5,1014.9 L1183.5,1015.2 L1184.5,1015.3 L1185.5,1015.1 L1186.5,1015.8 L1187.5,1015.4 L1188.5,1015.1 L1189.5,1015.3 L1190.5,1015.2 L1191.5,1015.0 L1192.5,1015.0 L1193.5,1015.0 L1194.5,1015.7 L1195.5,1015.1 L1196.5,1015.1 L1197.5,1015.4 L1198.5,1015.2 L1199.5,1015.7 L1200.5,1015.0 L1201.5,1015.5 L1202.5,1015.0 L1203.5,1015.7 L1204.5,1015.4 L1205.5,1015.7 L1206.5,1014.9 L1207.5,1015.2 L1208.5,1015.1 L1209.5,1015.6 L1210.5,1015.2 L1211.5,1015.4 L1212.5,1015.8 L1213.5,1014.9 L1214.5,1015.4 L1215.5,1015.5 L1216.5,1015.8 L1217.5,1015.0 L1218.5,1015.0 L1219.5,1014.9 L1220.5,1014.9 L1221.5,1015.2 L1222.5,1015.5 L1223.5,1015.0 L1224.5,1015.0 L1225.5,1015.3 L1226.5,1015.8 L1227.5,1015.4 L1228.5,1015.0 L1229.5,1015.0 L1230.5,1015.2 L1231.5,1015.3 L1232.5,1015.8 L1233.5,1015.0 L1234.5,1014.8 L1235.5,1014.9 L1236.5,1015.0 L1237.5,1015.7 L1238.5,1014.9 L1239.5,1014.9 L1240.5,1015.9 L1241.5,1015.5 L1242.5,1015.0 L1243.5,1015.2 L1244.5,1015.3 L1245.5,1015.4 L1246.5,1014.9 L1247.5,1014.9 L1248.5,1015.3 L1249.5,1015.4 L1250.5,1015.7 L1251.5,1014.9 L1252.5,1015.7 L1253.5,1015.7 L1254.5,1015.5 L1255.5,1015.7 L1256.5,1014.9 L1257.5,1015.6 L1258.5,1015.4 L1259.5,1015.7 L1260.5,1015.5 L1261.5,1015.0 L1262.5,1015.0 L1263.5,1015.3 L1264.5,1014.8 L1265.5,1015.6 L1266.5,1014.8 L1267.5,1013.9 L1268.5,1013.7 L1269.5,1012.9 L1270.5,1012.3 L1271.5,1012.7 L1272.5,1013.7 L1273.5,1013.8 L1274.5,1015.2 L1275.5,1014.7 L1276.5,1015.7 L1277.5,1015.5 L1278.5,1015.4 L1279.5,1015.1 L1280.5,1015.5 L1281.5,1015.4 L1282.5,1014.9 L1283.5,1015.2 L1284.5,1015.3 L1285.5,1015.9 L1286.5,1015.9 L1287.5,1015.4 L1288.5,1015.1 L1289.5,1015.4 L1290.5,1015.1 L1291.5,1015.6 L1292.5,1015.6 L1293.5,1015.6 L1294.5,1015.4 L1295.5,1015.2 L1296.5,1015.1 L1297.5,1015.8 L1298.5,1015.2 L1299.5,1015.7 L1300.5,1015.2 L1301.5,1015.9 L1302.5,1015.8 L1303.5,1015.7 L1304.5,1015.5 L1305.5,1015.9 L1306.5,1015.7 L1307.5,1015.0 L1308.5,1014.9 L1309.5,1015.9 L1310.5,1015.5 L1311.5,1015.6 L1312.5,1015.6 L1313.5,1015.9 L1314.5,1015.6 L1315.5,1015.5 L1316.5,1015.1 L1317.5,1015.1 L1318.5,1015.5 L1319.5,1015.7 L1320.5,1015.1 L1321.5,1015.0 L1322.5,1015.6 L1323.5,1015.2 L1324.5,1015.5 L1325.5,1015.8 L1326.5,1015.9 L1327.5,1015.6 L1328.5,1015.4 L1329.5,1015.8 L1330.5,1015.7 L1331.5,1015.6 L1332.5,1015.4 L1333.5,1015.3 L1334.5,1015.9 L1335.5,1015.8 L1336.5,1015.9 L1337.5,1015.8 L1338.5,1015.2 L1339.5,1015.7 L1340.5,1015.5 L1341.5,1015.7 L1342.5,1015.8 L1343.5,1015.3 L1344.5,1015.7 L1345.5,1015.9 L1346.5,1015.7 L1347.5,1015.0 L1348.5,1015.4 L1349.5,1015.1 L1350.5,1015.6 L1351.5,1015.7 L1352.5,1015.5 L1353.5,1015.2 L1354.5,1015.2 L1355.5,1015.6 L1356.5,1015.9 L1357.5,1015.5 L1358.5,1015.7 L1359.5,1015.9 L1360.5,1015.1 L1361.5,1015.6 L1362.5,1015.2 L1363.5,1015.6 L1364.5,1015.8 L1365.5,1015.8 L1366.5,1015.7 L1367.5,1015.9 L1368.5,1015.0 L1369.5,1015.9 L1370.5,1015.4 L1371.5,1015.3 L1372.5,1015.4 L1373.5,1015.0 L1374.5,1015.1 L1375.5,1015.9 L1376.5,1015.7 L1377.5,1014.7 L1378.5,1014.6 L1379.5,1014.2 L1380.5,1012.8 L1381.5,1012.5 L1382.5,1012.2 L1383.5,1013.0 L1384.5,1014.1 L1385.5,1015.1 L1386.5,1014.8 L1387.5,1015.7 L1388.5,1015.5 L1389.5,1015.6 L1390.5,1015.3 L1391.5,1015.8 L1392.5,1015.3 L1393.5,1015.5 L1394.5,1015.8 L1395.5,1015.3 L1396.5,1015.3 L1397.5,1015.2 L1398.5,1015.9 L1399.5,1015.6 L1400.5,1015.9 L1401.5,1015.1 L1402.5,1015.8 L1403.5,1015.3 L1404.5,1015.7 L1405.5,1015.8 L1406.5,1015.1 L1407.5,1015.3 L1408.5,1015.7 L1409.5,1015.1 L1410.5,1015.5 L1411.5,1015.2 L1412.5,1015.3 L1413.5,1015.9 L1414.5,1015.4 L1415.5,1015.1 L1416.5,1015.8 L1417.5,1015.1 L1418.5,1015.5 L1419.5,1015.3 L1420.5,1015.2 L1421.5,1015.9 L1422.5,1015.7 L1423.5,1015.1 L1424.5,1015.1 L1425.5,1015.5 L1426.5,1016.0 L1427.5,1015.2 L1428.5,1015.2 L1429.5,1015.1 L1430.5,1015.2 L1431.5,1015.3 L1432.5,1015.6 L1433.5,1015.5 L1434.5,1015.3 L1435.5,1015.5 L1436.5,1015.9 L1437.5,1015.0 L1438.5,1015.3 L1439.5,1015.4 L1440.5,1015.7 L1441.5,1015.8 L1442.5,1015.0 L1443.5,1015.1 L1444.5,1015.3 L1445.5,1015.0 L1446.5,1015.6 L1447.5,1015.8 L1448.5,1015.4 L1449.5,1015.4 L1450.5,1015.0 L1451.5,1015.3 L1452.5,1015.6 L1453.5,1014.8 L1454.5,1015.5 L1455.0,1014.7 L1455.5,1015.2 L1456.0,1015.1 L1456.5,1014.7 L1457.0,1015.3 L1457.5,1015.0 L1458.0,1015.2 L1458.5,1015.2 L1459.0,1015.2 L1459.5,1014.8 L1460.0,1014.9 L1460.5,1014.0 L1461.0,1014.2 L1461.5,1014.1 L1462.0,1014.0 L1462.5,1013.6 L1463.0,1013.7 L1463.5,1013.0 L1464.0,1012.4 L1464.5,1010.5 L1465.0,1008.3 L1465.5,1003.2 L1466.0,996.6 L1466.5,986.6 L1467.0,975.5 L1467.5,966.0 L1468.0,960.4 L1468.5,961.7 L1469.0,965.2 L1469.5,966.8 L1470.0,962.5 L1470.5,954.4 L1471.0,945.4 L1471.5,941.3 L1472.0,947.8 L1472.5,960.0 L1473.0,971.8 L1473.5,979.3 L1474.0,980.7 L1474.5,976.5 L1475.0,971.1 L1475.5,968.6 L1476.0,971.2 L1476.5,978.5 L1477.0,988.3 L1477.5,997.2 L1478.0,1004.0 L1478.5,1007.8 L1479.0,1010.5 L1479.5,1012.4 L1480.0,1013.3 L1480.5,1013.8 L1481.0,1013.8 L1481.5,1014.0 L1482.0,1014.7 L1482.5,1014.2 L1483.0,1014.3 L1483.5,1014.2 L1484.0,1014.4 L1484.5,1015.0 L1485.0,1015.1 L1485.5,1014.7 L1486.0,1015.2 L1486.5,1014.8 L1487.0,1015.0 L1487.5,1015.3 L1488.0,1015.4 L1488.5,1015.2 L1489.0,1015.5 L1489.5,1015.2 L1490.0,1015.4 L1491.0,1015.4 L1492.0,1015.8 L1493.0,1014.9 L1494.0,1015.2 L1495.0,1015.6 L1496.0,1015.0 L1497.0,1015.2 L1498.0,1015.3 L1499.0,1015.7 L1500.0,1015.5 L1501.0,1016.0 L1502.0,1015.4 L1503.0,1015.1 L1504.0,1015.7 L1505.0,1015.9 L1506.0,1016.0 L1507.0,1016.0 L1508.0,1015.9 L1509.0,1015.8 L1510.0,1015.6 L1511.0,1015.5 L1512.0,1015.2 L1513.0,1015.9 L1514.0,1015.6 L1515.0,1015.6 L1516.0,1015.6 L1517.0,1016.1 L1518.0,1015.4 L1519.0,1015.8 L1520.0,1015.7 L1521.0,1015.5 L1522.0,1016.0 L1523.0,1015.4 L1524.0,1015.8 L1525.0,1016.0 L1526.0,1016.1 L1527.0,1015.4 L1528.0,1016.0 L1529.0,1015.3 L1530.0,1015.4 L1531.0,1015.7 L1532.0,1015.9 L1533.0,1015.3 L1534.0,1015.9 L1535.0,1015.8 L1536.0,1016.1 L1537.0,1016.1 L1538.0,1015.3 L1539.0,1015.6 L1540.0,1015.6 L1541.0,1015.9 L1542.0,1015.5 L1543.0,1015.3 L1544.0,1016.1 L1545.0,1015.8 L1546.0,1015.8 L1547.0,1015.4 L1548.0,1016.0 L1549.0,1015.4 L1550.0,1015.5 L1551.0,1016.1 L1552.0,1016.0 L1553.0,1016.0 L1554.0,1015.6 L1555.0,1015.9 L1556.0,1015.3 L1557.0,1015.4 L1558.0,1015.7 L1559.0,1015.7 L1560.0,1016.1 L1561.0,1015.3 L1562.0,1016.0 L1563.0,1015.8 L1564.0,1015.4 L1565.0,1015.3 L1566.0,1015.9 L1567.0,1015.8 L1568.0,1016.2 L1569.0,1015.5 L1570.0,1015.4 L1571.0,1015.5 L1572.0,1015.6 L1573.0,1015.3 L1574.0,1015.9 L1575.0,1016.0 L1576.0,1016.1 L1577.0,1015.7 L1578.0,1016.0 L1579.0,1016.1 L1580.0,1015.9 L1581.0,1015.3 L1582.0,1015.7 L1583.0,1015.9 L1584.0,1016.0 L1585.0,1016.2 L1586.0,1016.1 L1587.0,1015.9 L1588.0,1015.6 L1589.0,1015.4 L1590.0,1016.0 L1591.0,1015.9 L1592.0,1015.5 L1593.0,1016.0 L1594.0,1016.2 L1595.0,1015.9 L1596.0,1015.7 L1597.0,1015.7 L1598.0,1015.5 L1599.0,1016.2 L1600.0,1016.1 L1601.0,1015.8 L1602.0,1015.9 L1603.0,1015.7 L1604.0,1016.0 L1605.0,1016.0 L1606.0,1015.9 L1607.0,1015.6"/>
<path stroke-width="3.3" d="M157.0,1012.2 L157.5,1014.2 L158.0,1013.9 L158.5,1012.5 L159.0,1013.2 L159.5,1013.1 L160.0,1013.6 L160.5,1014.0 L161.0,1012.1 L161.5,1011.9 L162.0,1014.1 L162.5,1013.0 L163.0,1013.9 L163.5,1011.8 L164.0,1013.0 L164.5,1013.8 L165.0,1012.4 L165.5,1014.4 L166.0,1014.3 L166.5,1011.9 L167.0,1011.9 L167.5,1013.3 L168.0,1014.4 L168.5,1012.9 L169.0,1012.4 L169.5,1013.0 L170.0,1011.9 L170.5,1012.4 L171.0,1013.0 L171.5,1013.2 L172.0,1012.5 L172.5,1012.5 L173.0,1012.4 L173.5,1013.1 L174.0,1012.6 L174.5,1011.9 L175.0,1014.1 L175.5,1013.4 L176.0,1013.6 L176.5,1012.3 L177.0,1014.6 L177.5,1014.2 L178.0,1012.2 L178.5,1012.7 L179.0,1013.8 L179.5,1013.8 L180.0,1014.4 L180.5,1013.0 L181.0,1014.1 L181.5,1013.7 L182.0,1012.7 L182.5,1013.5 L183.0,1014.3 L183.5,1014.2 L184.0,1013.2 L184.5,1013.5 L185.0,1011.9 L185.5,1012.5 L186.0,1014.0 L186.5,1013.0 L187.0,1012.3 L187.5,1013.4 L188.0,1013.8 L188.5,1013.7 L189.0,1012.9 L189.5,1013.0 L190.0,1013.2 L190.5,1014.0 L191.0,1013.3 L191.5,1012.9 L192.0,1013.2 L192.5,1011.9 L193.0,1012.0 L193.5,1013.8 L194.0,1014.6 L194.5,1013.5 L195.0,1012.9 L195.5,1012.3 L196.0,1013.2 L196.5,1014.5 L197.0,1014.0 L197.5,1013.3 L198.0,1014.2 L198.5,1012.5 L199.0,1013.3 L199.5,1014.5 L200.0,1013.4 L200.5,1013.1 L201.0,1012.6 L201.5,1013.4 L202.0,1014.5 L202.5,1011.9 L203.0,1014.0 L203.5,1014.1 L204.0,1014.3 L204.5,1013.9 L205.0,1014.1 L205.5,1013.3 L206.0,1013.4 L206.5,1013.0 L207.0,1012.0 L207.5,1014.2 L208.0,1013.4 L208.5,1012.4 L209.0,1013.2 L209.5,1013.2 L210.0,1012.8 L210.5,1012.8 L211.0,1013.3 L211.5,1013.6 L212.0,1013.5 L212.5,1013.1 L213.0,1011.9 L213.5,1012.5 L214.0,1012.4 L214.5,1013.5 L215.0,1014.2 L215.5,1014.0 L216.0,1014.0 L216.5,1014.1 L217.0,1012.6 L217.5,1014.2 L218.0,1013.7 L218.5,1012.1 L219.0,1011.9 L219.5,1011.9 L220.0,1013.9 L220.5,1012.6 L221.0,1012.2 L221.5,1013.6 L222.0,1012.8 L222.5,1012.1 L223.0,1012.3 L223.5,1013.3 L224.0,1012.3 L224.5,1012.6 L225.0,1013.8 L225.5,1013.1 L226.0,1012.8 L226.5,1013.2 L227.0,1011.9 L227.5,1012.9 L228.0,1013.0 L228.5,1012.4 L229.0,1012.2 L229.5,1014.3 L230.0,1013.3 L230.5,1012.5 L231.0,1013.5 L231.5,1014.1 L232.0,1011.9 L232.5,1011.9 L233.0,1012.3 L233.5,1013.8 L234.0,1012.3 L234.5,1013.8 L235.0,1013.7 L235.5,1013.4 L236.0,1012.5 L236.5,1014.5 L237.0,1014.0 L237.5,1013.3 L238.0,1012.5 L238.5,1013.6 L239.0,1013.0 L239.5,1013.5 L240.0,1012.8 L240.5,1013.6 L241.0,1012.1 L241.5,1012.7 L242.0,1014.5 L242.5,1014.3 L243.0,1012.7 L243.5,1014.2 L244.0,1012.7 L244.5,1014.4 L245.0,1013.9 L245.5,1013.0 L246.0,1012.6 L246.5,1011.9 L247.0,1014.3 L247.5,1012.0 L248.0,1014.1 L248.5,1014.5 L249.0,1013.4 L249.5,1012.4 L250.0,1014.2 L250.5,1014.5 L251.0,1013.8 L251.5,1013.3 L252.0,1012.9 L252.5,1012.8 L253.0,1012.5 L253.5,1013.7 L254.0,1013.1 L254.5,1012.4 L255.0,1012.2 L255.5,1013.7 L256.0,1012.7 L256.5,1013.3 L257.0,1012.8 L257.5,1014.3 L258.0,1014.3 L258.5,1012.0 L259.0,1012.5 L259.5,1012.8 L260.0,1014.6 L260.5,1014.0 L261.0,1012.8 L261.5,1012.5 L262.0,1013.7 L262.5,1014.2 L263.0,1014.4 L263.5,1012.8 L264.0,1014.3 L264.5,1013.8 L265.0,1013.2 L265.5,1014.6 L266.0,1012.6 L266.5,1013.9 L267.0,1012.2 L267.5,1012.4 L268.0,1014.4 L268.5,1012.5 L269.0,1014.0 L269.5,1013.5 L270.0,1014.2 L270.5,1012.9 L271.0,1012.8 L271.5,1012.7 L272.0,1014.2 L272.5,1013.5 L273.0,1014.5 L273.5,1014.3 L274.0,1012.3 L274.5,1013.4 L275.0,1012.2 L275.5,1012.0 L276.0,1012.1 L276.5,1014.2 L277.0,1014.0 L277.5,1014.1 L278.0,1012.8 L278.5,1013.6 L279.0,1014.0 L279.5,1012.9 L280.0,1013.5 L280.5,1012.5 L281.0,1012.2 L281.5,1012.7 L282.0,1014.3 L282.5,1013.4 L283.0,1014.4 L283.5,1013.2 L284.0,1012.7 L284.5,1014.0 L285.0,1014.1 L285.5,1012.0 L286.0,1013.7 L286.5,1012.2 L287.0,1012.3 L287.5,1014.3 L288.0,1012.1 L288.5,1012.6 L289.0,1014.6 L289.5,1013.1 L290.0,1012.3 L290.5,1012.4 L291.0,1012.6 L291.5,1013.9 L292.0,1012.2 L292.5,1014.4 L293.0,1013.0 L293.5,1014.5 L294.0,1014.4 L294.5,1012.7 L295.0,1012.6 L295.5,1013.2 L296.0,1012.2 L296.5,1013.7 L297.0,1012.1 L297.5,1012.0 L298.0,1014.5 L298.5,1012.7 L299.0,1013.5 L299.5,1013.1 L300.0,1012.8 L300.5,1012.1 L301.0,1014.4 L301.5,1014.5 L302.0,1014.5 L302.5,1012.3 L303.0,1012.5 L303.5,1013.6 L304.0,1014.5 L304.5,1013.4 L305.0,1013.8 L305.5,1013.7 L306.0,1012.7 L306.5,1013.4 L307.0,1012.8 L307.5,1012.6 L308.0,1012.2 L308.5,1012.7 L309.0,1014.5 L309.5,1013.2 L310.0,1013.7 L310.5,1013.7 L311.0,1014.4 L311.5,1013.0 L312.0,1012.8 L312.5,1012.8 L313.0,1012.8 L313.5,1014.2 L314.0,1014.3 L314.5,1012.8 L315.0,1012.9 L315.5,1013.4 L316.0,1013.5 L316.5,1013.5 L317.0,1012.6 L317.5,1012.0 L318.0,1012.6 L318.5,1012.2 L319.0,1013.4 L319.5,1012.2 L320.0,1012.2 L320.5,1013.6 L321.0,1012.7 L321.5,1014.1 L322.0,1013.3 L322.5,1014.2 L323.0,1012.4 L323.5,1013.3 L324.0,1014.1 L324.5,1012.2 L325.0,1014.5 L325.5,1012.4 L326.0,1014.0 L326.5,1014.6 L327.0,1014.1 L327.5,1012.8 L328.0,1012.3 L328.5,1013.3 L329.0,1014.4 L329.5,1012.8 L330.0,1014.3 L330.5,1012.4 L331.0,1014.4 L331.5,1012.1 L332.0,1012.8 L332.5,1014.3 L333.0,1014.1 L333.5,1014.4 L334.0,1014.2 L334.5,1013.9 L335.0,1013.8 L335.5,1012.5 L336.0,1013.1 L336.5,1012.4 L337.0,1013.9 L337.5,1013.7 L338.0,1012.7 L338.5,1012.2 L339.0,1014.5 L339.5,1014.1 L340.0,1013.4 L340.5,1013.4 L341.0,1014.2 L341.5,1013.2 L342.0,1013.0 L342.5,1012.9 L343.0,1012.7 L343.5,1012.1 L344.0,1013.7 L344.5,1013.1 L345.0,1013.5 L345.5,1012.2 L346.0,1012.9 L346.5,1012.4 L347.0,1012.3 L347.5,1012.7 L348.0,1014.2 L348.5,1013.0 L349.0,1013.1 L349.5,1013.6 L350.0,1012.6 L350.5,1012.0 L351.0,1013.4 L351.5,1013.3 L352.0,1013.7 L352.5,1013.2 L353.0,1013.8 L353.5,1013.9 L354.0,1012.6 L354.5,1013.3 L355.0,1013.3 L355.5,1012.6 L356.0,1013.1 L356.5,1013.5 L357.0,1014.4 L357.5,1014.4 L358.0,1012.7 L358.5,1013.7 L359.0,1012.2 L359.5,1012.2 L360.0,1013.3 L360.5,1014.3 L361.0,1012.4 L361.5,1014.0 L362.0,1014.3 L362.5,1012.8 L363.0,1013.8 L363.5,1014.2 L364.0,1013.0 L364.5,1013.8 L365.0,1013.9 L365.5,1013.6 L366.0,1014.2 L366.5,1014.3 L367.0,1014.5 L367.5,1013.5 L368.0,1012.5 L368.5,1012.7 L369.0,1012.6 L369.5,1013.5 L370.0,1014.0 L370.5,1012.2 L371.0,1013.8 L371.5,1013.9 L372.0,1012.9 L372.5,1013.4 L373.0,1012.5 L373.5,1013.9 L374.0,1012.2 L374.5,1014.5 L375.0,1014.1 L375.5,1013.6 L376.0,1012.7 L376.5,1014.4 L377.0,1014.5 L377.5,1012.4 L378.0,1014.0 L378.5,1014.2 L379.0,1013.7 L379.5,1013.8 L380.0,1013.2 L380.5,1014.4 L381.0,1014.5 L381.5,1013.0 L382.0,1014.1 L382.5,1013.2 L383.0,1012.5 L383.5,1012.9 L384.0,1012.4 L384.5,1014.4 L385.0,1014.5 L385.5,1012.4 L386.0,1013.6 L386.5,1013.1 L387.0,1012.4 L387.5,1012.8 L388.0,1012.7 L388.5,1014.0 L389.0,1012.1 L389.5,1012.6 L390.0,1013.2 L390.5,1012.1 L391.0,1013.7 L391.5,1013.6 L392.0,1014.2 L392.5,1012.6 L393.0,1012.8 L393.5,1013.4 L394.0,1012.8 L394.5,1013.5 L395.0,1012.7 L395.5,1013.8 L396.0,1014.1 L396.5,1014.1 L397.0,1014.5 L397.5,1013.4 L398.0,1013.3 L398.5,1014.2 L399.0,1014.0 L399.5,1013.5 L400.0,1013.0 L400.5,1012.8 L401.0,1012.4 L401.5,1014.1 L402.0,1012.4 L402.5,1014.0 L403.0,1013.5 L403.5,1014.5 L404.0,1014.0 L404.5,1014.5 L405.0,1012.4 L405.5,1013.3 L406.0,1013.5 L406.5,1012.9 L407.0,1013.3 L407.5,1013.0 L408.0,1013.4 L408.5,1012.1 L409.0,1013.2 L409.5,1013.2 L410.0,1012.9 L410.5,1013.1 L411.0,1014.0 L411.5,1013.8 L412.0,1013.3 L412.5,1013.7 L413.0,1013.0 L413.5,1012.6 L414.0,1012.1 L414.5,1012.8 L415.0,1013.6 L415.5,1014.3 L416.0,1014.2 L416.5,1013.4 L417.0,1014.5 L417.5,1013.3 L418.0,1014.2 L418.5,1013.1 L419.0,1013.9 L419.5,1014.5 L420.0,1012.9 L420.5,1012.5 L421.0,1013.6 L421.5,1013.4 L422.0,1013.0 L422.5,1012.1 L423.0,1013.1 L423.5,1013.2 L424.0,1013.1 L424.5,1014.2 L425.0,1013.6 L425.5,1013.9 L426.0,1014.3 L426.5,1014.0 L427.0,1013.3 L427.5,1013.9 L428.0,1013.7 L428.5,1013.7 L429.0,1013.7 L429.5,1013.1 L430.0,1013.7 L430.5,1013.7 L431.0,1014.4 L431.5,1014.0 L432.0,1014.2 L432.5,1014.0 L433.0,1014.1 L433.5,1013.6 L434.0,1013.0 L434.5,1012.8 L435.0,1013.9 L435.5,1014.3 L436.0,1013.5 L436.5,1012.5 L437.0,1014.2 L437.5,1013.3 L438.0,1013.3 L438.5,1012.3 L439.0,1013.4 L439.5,1013.9 L440.0,1013.2 L440.5,1013.0 L441.0,1013.7 L441.5,1012.2 L442.0,1013.4 L442.5,1014.4 L443.0,1013.8 L443.5,1013.1 L444.0,1013.8 L444.5,1013.6 L445.0,1012.7 L445.5,1012.7 L446.0,1014.3 L446.5,1012.8 L447.0,1012.4 L447.5,1014.1 L448.0,1013.4 L448.5,1013.0 L449.0,1013.4 L449.5,1013.9 L450.0,1012.6 L450.5,1013.7 L451.0,1013.9 L451.5,1014.1 L452.0,1012.8 L452.5,1013.6 L453.0,1012.7 L453.5,1013.5 L454.0,1012.6 L454.5,1014.0 L455.0,1014.2 L455.5,1013.0 L456.0,1012.7 L456.5,1014.5 L457.0,1013.9 L457.5,1014.2 L458.0,1012.3 L458.5,1014.3 L459.0,1013.7 L459.5,1012.9 L460.0,1013.2 L460.5,1014.0 L461.0,1014.0 L461.5,1012.6 L462.0,1013.7 L462.5,1012.6 L463.0,1014.5 L463.5,1013.2 L464.0,1014.3 L464.5,1013.9 L465.0,1013.6 L465.5,1012.8 L466.0,1013.4 L466.5,1012.5 L467.0,1012.5 L467.5,1013.9 L468.0,1013.0 L468.5,1014.0 L469.0,1012.8 L469.5,1013.9 L470.0,1013.9 L470.5,1012.9 L471.0,1012.5 L471.5,1013.1 L472.0,1013.4 L472.5,1012.5 L473.0,1012.7 L473.5,1012.3 L474.0,1013.6 L474.5,1014.3 L475.0,1012.7 L475.5,1012.3 L476.0,1013.8 L476.5,1014.1 L477.0,1014.4 L477.5,1013.6 L478.0,1013.0 L478.5,1014.2 L479.0,1012.5 L479.5,1013.8 L480.0,1012.5 L480.5,1013.1 L481.0,1013.4 L481.5,1013.1 L482.0,1012.6 L482.5,1012.8 L483.0,1014.1 L483.5,1013.3 L484.0,1013.6 L484.5,1012.7 L485.0,1013.9 L485.5,1013.0 L486.0,1013.6 L486.5,1014.3 L487.0,1014.5 L487.5,1012.4 L488.0,1014.1 L488.5,1014.2 L489.0,1013.0 L489.5,1013.1 L490.0,1013.6 L490.5,1014.3 L491.0,1013.2 L491.5,1014.2 L492.0,1014.0 L492.5,1012.6 L493.0,1014.3 L493.5,1012.3 L494.0,1012.6 L494.5,1013.8 L495.0,1012.4 L495.5,1013.1 L496.0,1012.6 L496.5,1013.3 L497.0,1014.1 L497.5,1014.3 L498.0,1012.3 L498.5,1012.4 L499.0,1014.1 L499.5,1012.4 L500.0,1012.9 L500.5,1012.5 L501.0,1012.5 L501.5,1012.3 L502.0,1013.7 L502.5,1013.9 L503.0,1013.8 L503.5,1014.2 L504.0,1013.7 L504.5,1013.1 L505.0,1013.7 L505.5,1014.4 L506.0,1013.7 L506.5,1012.8 L507.0,1012.4 L507.5,1014.4 L508.0,1013.6 L508.5,1013.1 L509.0,1013.6 L509.5,1013.5 L510.0,1013.4 L510.5,1012.4 L511.0,1013.1 L511.5,1013.2 L512.0,1012.7 L512.5,1014.2 L513.0,1013.2 L513.5,1013.7 L514.0,1013.9 L514.5,1013.9 L515.0,1013.9 L515.5,1013.9 L516.0,1012.8 L516.5,1014.4 L517.0,1012.6 L517.5,1014.3 L518.0,1014.2 L518.5,1014.2 L519.0,1012.4 L519.5,1012.5 L520.0,1014.1 L520.5,1013.3 L521.0,1013.1 L521.5,1014.4 L522.0,1012.4 L522.5,1013.5 L523.0,1013.3 L523.5,1012.6 L524.0,1013.2 L524.5,1013.8 L525.0,1014.2 L525.5,1012.4 L526.0,1013.4 L526.5,1012.5 L527.0,1014.0 L527.5,1012.5 L528.0,1012.4 L528.5,1013.1 L529.0,1013.9 L529.5,1013.0 L530.0,1012.6 L530.5,1014.0 L531.0,1014.1 L531.5,1014.2 L532.0,1013.0 L532.5,1013.2 L533.0,1012.8 L533.5,1013.5 L534.0,1013.0 L534.5,1013.0 L535.0,1014.0 L535.5,1014.4 L536.0,1013.6 L536.5,1012.5 L537.0,1013.7 L537.5,1013.3 L538.0,1014.4 L538.5,1013.9 L539.0,1014.1 L539.5,1013.8 L540.0,1013.5 L540.5,1014.2 L541.0,1014.1 L541.5,1013.0 L542.0,1012.7 L542.5,1013.1 L543.0,1013.4 L543.5,1012.5 L544.0,1013.1 L544.5,1013.6 L545.0,1012.4 L545.5,1014.1 L546.0,1013.7 L546.5,1013.0 L547.0,1013.0 L547.5,1013.1 L548.0,1013.0 L548.5,1013.9 L549.0,1013.4 L549.5,1013.4 L550.0,1012.7 L550.5,1014.3 L551.0,1013.0 L551.5,1013.0 L552.0,1012.5 L552.5,1014.4 L553.0,1013.4 L553.5,1014.3 L554.0,1014.3 L554.5,1014.4 L555.0,1014.1 L555.5,1014.3 L556.0,1014.3 L556.5,1014.0 L557.0,1012.6 L557.5,1013.4 L558.0,1013.5 L558.5,1014.4 L559.0,1014.0 L559.5,1013.8 L560.0,1013.9 L560.5,1013.1 L561.0,1014.3 L561.5,1013.7 L562.0,1013.2 L562.5,1013.3 L563.0,1014.4 L563.5,1013.5 L564.0,1012.7 L564.5,1012.7 L565.0,1013.8 L565.5,1013.5 L566.0,1014.2 L566.5,1012.7 L567.0,1013.2 L567.5,1013.9 L568.0,1012.5 L568.5,1012.6 L569.0,1013.5 L569.5,1012.9 L570.0,1012.6 L570.5,1012.9 L571.0,1013.7 L571.5,1013.4 L572.0,1012.5 L572.5,1012.5 L573.0,1014.1 L573.5,1013.7 L574.0,1012.7 L574.5,1014.1 L575.0,1012.4 L575.5,1013.1 L576.0,1014.1 L576.5,1013.8 L577.0,1012.9 L577.5,1014.2 L578.0,1013.6 L578.5,1014.1 L579.0,1014.2 L579.5,1013.2 L580.0,1013.7 L580.5,1013.5 L581.0,1014.3 L581.5,1014.0 L582.0,1013.8 L582.5,1014.0 L583.0,1014.4 L583.5,1012.9 L584.0,1012.8 L584.5,1013.9 L585.0,1013.9 L585.5,1013.4 L586.0,1013.3 L586.5,1013.2 L587.0,1014.1 L587.5,1014.0 L588.0,1013.5 L588.5,1012.4 L589.0,1014.1 L589.5,1013.3 L590.0,1012.7 L590.5,1013.0 L591.0,1013.7 L591.5,1012.4 L592.0,1012.6 L592.5,1013.0 L593.0,1014.1 L593.5,1013.8 L594.0,1014.3 L594.5,1013.4 L595.0,1013.5 L595.5,1013.4 L596.0,1013.4 L596.5,1013.4 L597.0,1014.0 L597.5,1014.2 L598.0,1013.2 L598.5,1013.6 L599.0,1013.0 L599.5,1012.9 L600.0,1013.3 L600.5,1013.5 L601.0,1013.4 L601.5,1014.3 L602.0,1012.7 L602.5,1013.6 L603.0,1014.3 L603.5,1013.8 L604.0,1013.4 L604.5,1013.1 L605.0,1013.1 L605.5,1014.2 L606.0,1014.1 L606.5,1013.6 L607.0,1014.1 L607.5,1014.1 L608.0,1014.0 L608.5,1013.1 L609.0,1013.2 L609.5,1013.9 L610.0,1013.0 L610.5,1013.8 L611.0,1013.2 L611.5,1013.0 L612.0,1013.2 L612.5,1012.5 L613.0,1013.0 L613.5,1013.1 L614.0,1012.3 L614.5,1012.6 L615.0,1012.8 L615.5,1013.9 L616.0,1013.4 L616.5,1012.8 L617.0,1014.2 L617.5,1012.8 L618.0,1013.2 L618.5,1013.7 L619.0,1013.6 L619.5,1013.1 L620.0,1013.7 L620.5,1013.2 L621.0,1013.6 L621.5,1013.2 L622.0,1014.1 L622.5,1013.6 L623.0,1012.4 L623.5,1012.4 L624.0,1014.0 L624.5,1012.6 L625.0,1012.2 L625.5,1012.6 L626.0,1013.1 L626.5,1013.9 L627.0,1012.9 L627.5,1013.5 L628.0,1013.7 L628.5,1012.3 L629.0,1013.2 L629.5,1014.0 L630.0,1013.1 L630.5,1013.1 L631.0,1012.7 L631.5,1013.8 L632.0,1013.8 L632.5,1012.2 L633.0,1013.0 L633.5,1012.7 L634.0,1013.2 L634.5,1012.1 L635.0,1012.4 L635.5,1012.4 L636.0,1012.7 L636.5,1013.3 L637.0,1013.4 L637.5,1013.2 L638.0,1013.0 L638.5,1011.9 L639.0,1012.4 L639.5,1012.9 L640.0,1012.1 L640.5,1012.5 L641.0,1013.2 L641.5,1011.7 L642.0,1013.0 L642.5,1011.5 L643.0,1012.0 L643.5,1012.9 L644.0,1011.5 L644.5,1012.0 L645.0,1011.7 L645.5,1012.5 L646.0,1012.6 L646.5,1011.2 L647.0,1011.5 L647.5,1012.1 L648.0,1011.3 L648.5,1010.5 L649.0,1011.3 L649.5,1010.4 L650.0,1010.4 L650.5,1009.3 L651.0,1010.8 L651.5,1009.9 L652.0,1010.0 L652.5,1009.7 L653.0,1008.0 L653.5,1007.9 L654.0,1007.1 L654.5,1007.0 L655.0,1006.2 L655.5,1004.0 L656.0,1002.5 L656.5,1001.2 L657.0,997.3 L657.5,991.6 L658.0,983.6 L658.5,971.7 L659.0,953.2 L659.5,927.8 L660.0,892.8 L660.5,851.2 L661.0,803.6 L661.5,757.1 L662.0,716.9 L662.5,693.2 L663.0,690.0 L663.5,710.4 L664.0,748.3 L664.5,794.6 L665.0,841.7 L665.5,885.2 L666.0,920.3 L666.5,949.2 L667.0,968.8 L667.5,982.2 L668.0,990.2 L668.5,996.3 L669.0,1000.6 L669.5,1002.9 L670.0,1004.8 L670.5,1006.2 L671.0,1006.1 L671.5,1007.2 L672.0,1007.5 L672.5,1007.7 L673.0,1008.2 L673.5,1008.8 L674.0,1008.9 L674.5,1010.0 L675.0,1010.6 L675.5,1010.6 L676.0,1011.0 L676.5,1010.4 L677.0,1010.5 L677.5,1011.4 L678.0,1012.1 L678.5,1011.4 L679.0,1010.8 L679.5,1010.9 L680.0,1011.5 L680.5,1012.2 L681.0,1011.3 L681.5,1011.6 L682.0,1012.5 L682.5,1013.1 L683.0,1012.1 L683.5,1012.6 L684.0,1012.5 L684.5,1011.7 L685.0,1012.3 L685.5,1012.0 L686.0,1012.2 L686.5,1013.2 L687.0,1013.0 L687.5,1012.0 L688.0,1012.1 L688.5,1013.2 L689.0,1012.2 L689.5,1012.6 L690.0,1012.5 L690.5,1012.2 L691.0,1012.2 L691.5,1012.4 L692.0,1012.8 L692.5,1013.8 L693.0,1013.3 L693.5,1012.6 L694.0,1013.4 L694.5,1012.7 L695.0,1013.2 L695.5,1012.9 L696.0,1013.9 L696.5,1012.9 L697.0,1013.7 L697.5,1013.5 L698.0,1013.8 L698.5,1013.4 L699.0,1013.9 L699.5,1013.1 L700.0,1013.6 L700.5,1013.5 L701.0,1013.4 L701.5,1013.4 L702.0,1013.4 L702.5,1013.2 L703.0,1014.0 L703.5,1013.6 L704.0,1013.4 L704.5,1012.6 L705.0,1013.4 L705.5,1012.8 L706.0,1012.9 L706.5,1013.3 L707.0,1013.5 L707.5,1013.0 L708.0,1013.0 L708.5,1013.5 L709.0,1013.4 L709.5,1013.3 L710.0,1012.8 L710.5,1013.3 L711.0,1013.7 L711.5,1013.6 L712.0,1013.6 L712.5,1014.1 L713.0,1013.9 L713.5,1013.8 L714.0,1012.7 L714.5,1013.2 L715.0,1013.8 L715.5,1013.0 L716.0,1014.2 L716.5,1012.9 L717.0,1014.2 L717.5,1013.1 L718.0,1014.1 L718.5,1014.1 L719.0,1013.3 L719.5,1014.2 L720.0,1013.0 L720.5,1014.2 L721.0,1013.4 L721.5,1013.5 L722.0,1013.0 L722.5,1013.8 L723.0,1013.2 L723.5,1013.9 L724.0,1014.1 L724.5,1013.8 L725.0,1012.8 L725.5,1014.4 L726.0,1014.3 L726.5,1013.9 L727.0,1013.4 L727.5,1013.7 L728.0,1014.3 L728.5,1013.6 L729.0,1014.1 L729.5,1013.8 L730.0,1013.5 L730.5,1014.4 L731.0,1013.5 L731.5,1013.8 L732.0,1012.9 L732.5,1013.6 L733.0,1012.9 L733.5,1014.0 L734.0,1012.9 L734.5,1012.9 L735.0,1013.0 L735.5,1013.1 L736.0,1013.7 L736.5,1013.5 L737.0,1013.3 L737.5,1014.5 L738.0,1014.4 L738.5,1014.0 L739.0,1014.2 L739.5,1014.2 L740.0,1013.3 L740.5,1014.2 L741.0,1013.3 L741.5,1013.8 L742.0,1013.5 L742.5,1013.2 L743.0,1014.2 L743.5,1014.4 L744.0,1013.4 L744.5,1014.4 L745.0,1013.5 L745.5,1014.0 L746.0,1014.6 L746.5,1014.2 L747.0,1013.0 L747.5,1013.7 L748.0,1013.6 L748.5,1013.4 L749.0,1014.3 L749.5,1013.7 L750.0,1014.1 L750.5,1014.0 L751.0,1013.8 L751.5,1013.1 L752.0,1014.1 L752.5,1014.4 L753.0,1013.3 L753.5,1014.0 L754.0,1013.8 L754.5,1013.5 L755.0,1014.1 L755.5,1014.6 L756.0,1013.0 L756.5,1014.5 L757.0,1013.6 L757.5,1014.4 L758.0,1013.3 L758.5,1014.2 L759.0,1013.2 L759.5,1013.6 L760.0,1014.6 L760.5,1014.1 L761.0,1014.3 L761.5,1013.8 L762.0,1013.8 L762.5,1013.8 L763.0,1014.3 L763.5,1014.2 L764.0,1013.4 L764.5,1013.8 L765.0,1013.9 L765.5,1014.0 L766.0,1014.5 L766.5,1014.4 L767.0,1013.3 L767.5,1013.7 L768.0,1013.2 L768.5,1013.1 L769.0,1013.2 L769.5,1013.4 L770.0,1014.3 L770.5,1014.1 L771.0,1014.4 L771.5,1013.5 L772.0,1013.3 L772.5,1014.6 L773.0,1014.4 L773.5,1014.6 L774.0,1013.1 L774.5,1013.7 L775.0,1014.1 L775.5,1014.3 L776.0,1014.6 L776.5,1014.0 L777.0,1013.7 L777.5,1013.1 L778.0,1014.4 L778.5,1014.7 L779.0,1014.6 L779.5,1014.2 L780.0,1013.7 L780.5,1013.5 L781.0,1014.4 L781.5,1014.6 L782.0,1014.7 L782.5,1013.4 L783.0,1014.1 L783.5,1014.0 L784.0,1013.8 L784.5,1014.4 L785.0,1014.6 L785.5,1014.3 L786.0,1014.3 L786.5,1014.3 L787.0,1014.2 L787.5,1014.0 L788.0,1013.6 L788.5,1014.4 L789.0,1013.4 L789.5,1014.2 L790.0,1013.8 L790.5,1014.1 L791.0,1014.2 L791.5,1013.9 L792.0,1014.7 L792.5,1013.6 L793.0,1013.2 L793.5,1014.7 L794.0,1013.7 L794.5,1013.6 L795.0,1013.9 L795.5,1014.1 L796.0,1014.8 L796.5,1014.3 L797.0,1013.7 L797.5,1014.1 L798.0,1013.9 L798.5,1014.0 L799.0,1013.9 L799.5,1013.5 L800.0,1013.9 L800.5,1013.8 L801.0,1013.6 L801.5,1014.5 L802.0,1013.8 L802.5,1013.5 L803.0,1014.1 L803.5,1014.6 L804.0,1014.5 L804.5,1014.2 L805.0,1014.4 L805.5,1013.8 L806.0,1013.5 L806.5,1013.7 L807.0,1013.8 L807.5,1013.7 L808.0,1014.0 L808.5,1013.5 L809.0,1013.5 L809.5,1013.7 L810.0,1013.6 L810.5,1014.5 L811.0,1014.1 L811.5,1013.6 L812.0,1014.0 L812.5,1014.6 L813.0,1014.2 L813.5,1014.2 L814.0,1013.9 L814.5,1013.6 L815.0,1014.3 L815.5,1013.4 L816.0,1014.5 L816.5,1013.4 L817.0,1014.5 L817.5,1013.9 L818.0,1014.4 L818.5,1014.2 L819.0,1013.5 L819.5,1014.2 L820.0,1013.4 L820.5,1013.7 L821.0,1013.9 L821.5,1013.8 L822.0,1014.3 L822.5,1014.8 L823.0,1013.9 L823.5,1014.6 L824.0,1013.7 L824.5,1014.4 L825.0,1013.9 L825.5,1014.2 L826.0,1013.5 L826.5,1014.6 L827.0,1013.7 L827.5,1014.1 L828.0,1013.8 L828.5,1014.6 L829.0,1014.3 L829.5,1014.3 L830.0,1014.5 L830.5,1013.8 L831.0,1013.5 L831.5,1014.6 L832.0,1013.9 L832.5,1014.6 L833.0,1014.8 L833.5,1014.3 L834.5,1014.7 L835.5,1013.8 L836.5,1014.2 L837.5,1014.8 L838.5,1014.6 L839.5,1014.8 L840.5,1014.5 L841.5,1013.4 L842.5,1013.7 L843.5,1014.0 L844.5,1014.4 L845.5,1014.4 L846.5,1014.8 L847.5,1014.7 L848.5,1014.6 L849.5,1013.9 L850.5,1014.7 L851.5,1014.3 L852.5,1013.6 L853.5,1014.7 L854.5,1014.9 L855.5,1013.6 L856.5,1013.6 L857.5,1014.2 L858.5,1014.4 L859.5,1014.3 L860.5,1013.8 L861.5,1014.8 L862.5,1014.7 L863.5,1014.9 L864.5,1014.8 L865.5,1013.8 L866.5,1014.0 L867.5,1014.3 L868.5,1014.8 L869.5,1015.0 L870.5,1014.8 L871.5,1014.2 L872.5,1014.3 L873.5,1014.4 L874.5,1014.3 L875.5,1014.4 L876.5,1013.8 L877.5,1014.8 L878.5,1014.9 L879.5,1014.7 L880.5,1015.1 L881.5,1014.5 L882.5,1014.5 L883.5,1014.9 L884.5,1014.2 L885.5,1014.6 L886.5,1014.3 L887.5,1014.9 L888.5,1014.4 L889.5,1013.7 L890.5,1014.1 L891.5,1014.9 L892.5,1013.8 L893.5,1014.4 L894.5,1015.1 L895.5,1014.6 L896.5,1013.8 L897.5,1014.9 L898.5,1015.1 L899.5,1014.5 L900.5,1013.8 L901.5,1015.0 L902.5,1013.8 L903.5,1014.7 L904.5,1014.0 L905.5,1014.4 L906.5,1014.2 L907.5,1015.1 L908.5,1013.9 L909.5,1015.0 L910.5,1013.9 L911.5,1014.3 L912.5,1013.8 L913.5,1014.8 L914.5,1013.8 L915.5,1014.7 L916.5,1014.4 L917.5,1014.1 L918.5,1014.0 L919.5,1014.0 L920.5,1014.1 L921.5,1015.1 L922.5,1015.1 L923.5,1014.1 L924.5,1013.8 L925.5,1013.9 L926.5,1014.6 L927.5,1014.9 L928.5,1015.0 L929.5,1014.6 L930.5,1014.2 L931.5,1014.4 L932.5,1014.7 L933.5,1014.1 L934.5,1014.3 L935.5,1014.4 L936.5,1013.9 L937.5,1014.0 L938.5,1014.8 L939.5,1014.5 L940.5,1014.3 L941.5,1014.4 L942.5,1015.0 L943.5,1015.0 L944.5,1014.6 L945.5,1014.5 L946.5,1014.5 L947.5,1014.2 L948.5,1014.2 L949.5,1013.1 L950.5,1012.7 L951.5,1011.4 L952.5,1011.8 L953.5,1012.3 L954.5,1012.8 L955.5,1014.1 L956.5,1014.5 L957.5,1014.3 L958.5,1014.7 L959.5,1015.0 L960.5,1014.9 L961.5,1014.4 L962.5,1014.4 L963.5,1015.0 L964.5,1014.3 L965.5,1014.2 L966.5,1014.9 L967.5,1014.9 L968.5,1014.8 L969.5,1015.3 L970.5,1014.3 L971.5,1014.7 L972.5,1014.5 L973.5,1014.6 L974.5,1014.6 L975.5,1014.2 L976.5,1015.3 L977.5,1014.9 L978.5,1014.4 L979.5,1014.3 L980.5,1015.4 L981.5,1015.2 L982.5,1015.0 L983.5,1014.7 L984.5,1014.1 L985.5,1014.8 L986.5,1014.8 L987.5,1014.9 L988.5,1014.5 L989.5,1014.5 L990.5,1014.5 L991.5,1014.8 L992.5,1015.2 L993.5,1015.1 L994.5,1014.5 L995.5,1014.4 L996.5,1014.8 L997.5,1014.3 L998.5,1015.4 L999.5,1014.2 L1000.5,1015.1 L1001.5,1014.3 L1002.5,1014.9 L1003.5,1014.2 L1004.5,1014.5 L1005.5,1014.6 L1006.5,1014.5 L1007.5,1014.5 L1008.5,1014.5 L1009.5,1014.8 L1010.5,1014.7 L1011.5,1014.5 L1012.5,1015.2 L1013.5,1014.5 L1014.5,1014.4 L1015.5,1015.3 L1016.5,1015.3 L1017.5,1014.3 L1018.5,1014.7 L1019.5,1014.8 L1020.5,1015.1 L1021.5,1014.5 L1022.5,1014.4 L1023.5,1015.3 L1024.5,1014.6 L1025.5,1014.8 L1026.5,1014.3 L1027.5,1014.5 L1028.5,1014.8 L1029.5,1015.1 L1030.5,1015.4 L1031.5,1014.8 L1032.5,1015.3 L1033.5,1015.4 L1034.5,1014.5 L1035.5,1015.3 L1036.5,1015.0 L1037.5,1015.4 L1038.5,1014.8 L1039.5,1014.8 L1040.5,1014.9 L1041.5,1014.5 L1042.5,1015.0 L1043.5,1015.2 L1044.5,1014.9 L1045.5,1014.5 L1046.5,1015.1 L1047.5,1015.1 L1048.5,1015.4 L1049.5,1014.9 L1050.5,1015.4 L1051.5,1015.4 L1052.5,1014.5 L1053.5,1015.0 L1054.5,1015.2 L1055.5,1014.8 L1056.5,1015.0 L1057.5,1015.4 L1058.5,1015.1 L1059.5,1014.8 L1060.5,1015.5 L1061.5,1014.7 L1062.5,1015.5 L1063.5,1014.7 L1064.5,1014.8 L1065.5,1014.8 L1066.5,1015.5 L1067.5,1014.4 L1068.5,1014.6 L1069.5,1015.4 L1070.5,1014.7 L1071.5,1015.0 L1072.5,1015.0 L1073.5,1015.0 L1074.5,1015.4 L1075.5,1014.9 L1076.5,1014.8 L1077.5,1014.5 L1078.5,1015.2 L1079.5,1014.6 L1080.5,1014.8 L1081.5,1014.7 L1082.5,1015.1 L1083.5,1014.4 L1084.5,1014.5 L1085.5,1014.8 L1086.0,1015.1 L1086.5,1014.9 L1087.0,1015.2 L1087.5,1014.1 L1088.0,1014.4 L1088.5,1014.5 L1089.0,1014.0 L1089.5,1013.9 L1090.0,1014.2 L1090.5,1014.3 L1091.0,1013.7 L1091.5,1013.5 L1092.0,1013.6 L1092.5,1013.8 L1093.0,1013.3 L1093.5,1013.3 L1094.0,1012.0 L1094.5,1011.0 L1095.0,1008.6 L1095.5,1005.4 L1096.0,1001.1 L1096.5,995.2 L1097.0,988.6 L1097.5,982.1 L1098.0,975.5 L1098.5,969.2 L1099.0,966.9 L1099.5,968.2 L1100.0,972.5 L1100.5,979.5 L1101.0,986.0 L1101.5,993.0 L1102.0,999.2 L1102.5,1004.4 L1103.0,1007.2 L1103.5,1010.0 L1104.0,1010.9 L1104.5,1012.4 L1105.0,1013.6 L1105.5,1013.2 L1106.0,1013.6 L1106.5,1014.1 L1107.0,1014.2 L1107.5,1014.3 L1108.0,1014.5 L1108.5,1014.6 L1109.0,1014.3 L1109.5,1014.4 L1110.0,1014.5 L1110.5,1014.7 L1111.0,1014.8 L1111.5,1015.2 L1112.0,1014.7 L1112.5,1014.8 L1113.0,1015.2 L1113.5,1015.4 L1114.5,1015.2 L1115.5,1015.2 L1116.5,1015.0 L1117.5,1015.2 L1118.5,1015.3 L1119.5,1015.0 L1120.5,1015.1 L1121.5,1015.3 L1122.5,1015.2 L1123.5,1015.3 L1124.5,1015.0 L1125.5,1015.3 L1126.5,1014.7 L1127.5,1015.0 L1128.5,1015.1 L1129.5,1015.6 L1130.5,1015.7 L1131.5,1015.2 L1132.5,1014.9 L1133.5,1014.7 L1134.5,1015.2 L1135.5,1015.7 L1136.5,1014.9 L1137.5,1015.0 L1138.5,1015.6 L1139.5,1015.0 L1140.5,1015.1 L1141.5,1015.3 L1142.5,1015.3 L1143.5,1015.3 L1144.5,1015.0 L1145.5,1014.7 L1146.5,1014.8 L1147.5,1015.4 L1148.5,1015.4 L1149.5,1015.6 L1150.5,1015.6 L1151.5,1015.5 L1152.5,1015.1 L1153.5,1014.9 L1154.5,1015.6 L1155.5,1014.9 L1156.5,1015.2 L1157.5,1015.7 L1158.5,1014.9 L1159.5,1014.9 L1160.5,1015.3 L1161.5,1014.8 L1162.5,1015.0 L1163.5,1015.2 L1164.5,1014.8 L1165.5,1015.2 L1166.5,1015.2 L1167.5,1014.9 L1168.5,1015.2 L1169.5,1015.5 L1170.5,1014.9 L1171.5,1015.8 L1172.5,1015.0 L1173.5,1015.0 L1174.5,1015.7 L1175.5,1014.8 L1176.5,1014.9 L1177.5,1015.1 L1178.5,1014.8 L1179.5,1015.2 L1180.5,1015.1 L1181.5,1015.1 L1182.5,1014.9 L1183.5,1015.2 L1184.5,1015.3 L1185.5,1015.1 L1186.5,1015.8 L1187.5,1015.4 L1188.5,1015.1 L1189.5,1015.3 L1190.5,1015.2 L1191.5,1015.0 L1192.5,1015.0 L1193.5,1015.0 L1194.5,1015.7 L1195.5,1015.1 L1196.5,1015.1 L1197.5,1015.4 L1198.5,1015.2 L1199.5,1015.7 L1200.5,1015.0 L1201.5,1015.5 L1202.5,1015.0 L1203.5,1015.7 L1204.5,1015.4 L1205.5,1015.7 L1206.5,1014.9 L1207.5,1015.2 L1208.5,1015.1 L1209.5,1015.6 L1210.5,1015.2 L1211.5,1015.4 L1212.5,1015.8 L1213.5,1014.9 L1214.5,1015.4 L1215.5,1015.5 L1216.5,1015.8 L1217.5,1015.0 L1218.5,1015.0 L1219.5,1014.9 L1220.5,1014.9 L1221.5,1015.2 L1222.5,1015.5 L1223.5,1015.0 L1224.5,1015.0 L1225.5,1015.3 L1226.5,1015.8 L1227.5,1015.4 L1228.5,1015.0 L1229.5,1015.0 L1230.5,1015.2 L1231.5,1015.3 L1232.5,1015.8 L1233.5,1015.0 L1234.5,1014.8 L1235.5,1014.9 L1236.5,1015.0 L1237.5,1015.7 L1238.5,1014.9 L1239.5,1014.9 L1240.5,1015.9 L1241.5,1015.5 L1242.5,1015.0 L1243.5,1015.2 L1244.5,1015.3 L1245.5,1015.4 L1246.5,1014.9 L1247.5,1014.9 L1248.5,1015.3 L1249.5,1015.4 L1250.5,1015.7 L1251.5,1014.9 L1252.5,1015.7 L1253.5,1015.7 L1254.5,1015.5 L1255.5,1015.7 L1256.5,1014.9 L1257.5,1015.6 L1258.5,1015.4 L1259.5,1015.7 L1260.5,1015.5 L1261.5,1015.0 L1262.5,1015.0 L1263.5,1015.3 L1264.5,1014.8 L1265.5,1015.6 L1266.5,1014.8 L1267.5,1013.9 L1268.5,1013.7 L1269.5,1012.9 L1270.5,1012.3 L1271.5,1012.7 L1272.5,1013.7 L1273.5,1013.8 L1274.5,1015.2 L1275.5,1014.7 L1276.5,1015.7 L1277.5,1015.5 L1278.5,1015.4 L1279.5,1015.1 L1280.5,1015.5 L1281.5,1015.4 L1282.5,1014.9 L1283.5,1015.2 L1284.5,1015.3 L1285.5,1015.9 L1286.5,1015.9 L1287.5,1015.4 L1288.5,1015.1 L1289.5,1015.4 L1290.5,1015.1 L1291.5,1015.6 L1292.5,1015.6 L1293.5,1015.6 L1294.5,1015.4 L1295.5,1015.2 L1296.5,1015.1 L1297.5,1015.8 L1298.5,1015.2 L1299.5,1015.7 L1300.5,1015.2 L1301.5,1015.9 L1302.5,1015.8 L1303.5,1015.7 L1304.5,1015.5 L1305.5,1015.9 L1306.5,1015.7 L1307.5,1015.0 L1308.5,1014.9 L1309.5,1015.9 L1310.5,1015.5 L1311.5,1015.6 L1312.5,1015.6 L1313.5,1015.9 L1314.5,1015.6 L1315.5,1015.5 L1316.5,1015.1 L1317.5,1015.1 L1318.5,1015.5 L1319.5,1015.7 L1320.5,1015.1 L1321.5,1015.0 L1322.5,1015.6 L1323.5,1015.2 L1324.5,1015.5 L1325.5,1015.8 L1326.5,1015.9 L1327.5,1015.6 L1328.5,1015.4 L1329.5,1015.8 L1330.5,1015.7 L1331.5,1015.6 L1332.5,1015.4 L1333.5,1015.3 L1334.5,1015.9 L1335.5,1015.8 L1336.5,1015.9 L1337.5,1015.8 L1338.5,1015.2 L1339.5,1015.7 L1340.5,1015.5 L1341.5,1015.7 L1342.5,1015.8 L1343.5,1015.3 L1344.5,1015.7 L1345.5,1015.9 L1346.5,1015.7 L1347.5,1015.0 L1348.5,1015.4 L1349.5,1015.1 L1350.5,1015.6 L1351.5,1015.7 L1352.5,1015.5 L1353.5,1015.2 L1354.5,1015.2 L1355.5,1015.6 L1356.5,1015.9 L1357.5,1015.5 L1358.5,1015.7 L1359.5,1015.9 L1360.5,1015.1 L1361.5,1015.6 L1362.5,1015.2 L1363.5,1015.6 L1364.5,1015.8 L1365.5,1015.8 L1366.5,1015.7 L1367.5,1015.9 L1368.5,1015.0 L1369.5,1015.9 L1370.5,1015.4 L1371.5,1015.3 L1372.5,1015.4 L1373.5,1015.0 L1374.5,1015.1 L1375.5,1015.9 L1376.5,1015.7 L1377.5,1014.7 L1378.5,1014.6 L1379.5,1014.2 L1380.5,1012.8 L1381.5,1012.5 L1382.5,1012.2 L1383.5,1013.0 L1384.5,1014.1 L1385.5,1015.1 L1386.5,1014.8 L1387.5,1015.7 L1388.5,1015.5 L1389.5,1015.6 L1390.5,1015.3 L1391.5,1015.8 L1392.5,1015.3 L1393.5,1015.5 L1394.5,1015.8 L1395.5,1015.3 L1396.5,1015.3 L1397.5,1015.2 L1398.5,1015.9 L1399.5,1015.6 L1400.5,1015.9 L1401.5,1015.1 L1402.5,1015.8 L1403.5,1015.3 L1404.5,1015.7 L1405.5,1015.8 L1406.5,1015.1 L1407.5,1015.3 L1408.5,1015.7 L1409.5,1015.1 L1410.5,1015.5 L1411.5,1015.2 L1412.5,1015.3 L1413.5,1015.9 L1414.5,1015.4 L1415.5,1015.1 L1416.5,1015.8 L1417.5,1015.1 L1418.5,1015.5 L1419.5,1015.3 L1420.5,1015.2 L1421.5,1015.9 L1422.5,1015.7 L1423.5,1015.1 L1424.5,1015.1 L1425.5,1015.5 L1426.5,1016.0 L1427.5,1015.2 L1428.5,1015.2 L1429.5,1015.1 L1430.5,1015.2 L1431.5,1015.3 L1432.5,1015.6 L1433.5,1015.5 L1434.5,1015.3 L1435.5,1015.5 L1436.5,1015.9 L1437.5,1015.0 L1438.5,1015.3 L1439.5,1015.4 L1440.5,1015.7 L1441.5,1015.8 L1442.5,1015.0 L1443.5,1015.1 L1444.5,1015.3 L1445.5,1015.0 L1446.5,1015.6 L1447.5,1015.8 L1448.5,1015.4 L1449.5,1015.4 L1450.5,1015.0 L1451.5,1015.3 L1452.5,1015.6 L1453.5,1014.8 L1454.5,1015.5 L1455.0,1014.7 L1455.5,1015.2 L1456.0,1015.1 L1456.5,1014.7 L1457.0,1015.3 L1457.5,1015.0 L1458.0,1015.2 L1458.5,1015.2 L1459.0,1015.2 L1459.5,1014.8 L1460.0,1014.9 L1460.5,1014.0 L1461.0,1014.2 L1461.5,1014.1 L1462.0,1014.0 L1462.5,1013.6 L1463.0,1013.7 L1463.5,1013.0 L1464.0,1012.4 L1464.5,1010.5 L1465.0,1008.3 L1465.5,1003.2 L1466.0,996.6 L1466.5,986.6 L1467.0,975.5 L1467.5,966.0 L1468.0,960.4 L1468.5,961.7 L1469.0,965.2 L1469.5,966.8 L1470.0,962.5 L1470.5,954.4 L1471.0,945.4 L1471.5,941.3 L1472.0,947.8 L1472.5,960.0 L1473.0,971.8 L1473.5,979.3 L1474.0,980.7 L1474.5,976.5 L1475.0,971.1 L1475.5,968.6 L1476.0,971.2 L1476.5,978.5 L1477.0,988.3 L1477.5,997.2 L1478.0,1004.0 L1478.5,1007.8 L1479.0,1010.5 L1479.5,1012.4 L1480.0,1013.3 L1480.5,1013.8 L1481.0,1013.8 L1481.5,1014.0 L1482.0,1014.7 L1482.5,1014.2 L1483.0,1014.3 L1483.5,1014.2 L1484.0,1014.4 L1484.5,1015.0 L1485.0,1015.1 L1485.5,1014.7 L1486.0,1015.2 L1486.5,1014.8 L1487.0,1015.0 L1487.5,1015.3 L1488.0,1015.4 L1488.5,1015.2 L1489.0,1015.5 L1489.5,1015.2 L1490.0,1015.4 L1491.0,1015.4 L1492.0,1015.8 L1493.0,1014.9 L1494.0,1015.2 L1495.0,1015.6 L1496.0,1015.0 L1497.0,1015.2 L1498.0,1015.3 L1499.0,1015.7 L1500.0,1015.5 L1501.0,1016.0 L1502.0,1015.4 L1503.0,1015.1 L1504.0,1015.7 L1505.0,1015.9 L1506.0,1016.0 L1507.0,1016.0 L1508.0,1015.9 L1509.0,1015.8 L1510.0,1015.6 L1511.0,1015.5 L1512.0,1015.2 L1513.0,1015.9 L1514.0,1015.6 L1515.0,1015.6 L1516.0,1015.6 L1517.0,1016.1 L1518.0,1015.4 L1519.0,1015.8 L1520.0,1015.7 L1521.0,1015.5 L1522.0,1016.0 L1523.0,1015.4 L1524.0,1015.8 L1525.0,1016.0 L1526.0,1016.1 L1527.0,1015.4 L1528.0,1016.0 L1529.0,1015.3 L1530.0,1015.4 L1531.0,1015.7 L1532.0,1015.9 L1533.0,1015.3 L1534.0,1015.9 L1535.0,1015.8 L1536.0,1016.1 L1537.0,1016.1 L1538.0,1015.3 L1539.0,1015.6 L1540.0,1015.6 L1541.0,1015.9 L1542.0,1015.5 L1543.0,1015.3 L1544.0,1016.1 L1545.0,1015.8 L1546.0,1015.8 L1547.0,1015.4 L1548.0,1016.0 L1549.0,1015.4 L1550.0,1015.5 L1551.0,1016.1 L1552.0,1016.0 L1553.0,1016.0 L1554.0,1015.6 L1555.0,1015.9 L1556.0,1015.3 L1557.0,1015.4 L1558.0,1015.7 L1559.0,1015.7 L1560.0,1016.1 L1561.0,1015.3 L1562.0,1016.0 L1563.0,1015.8 L1564.0,1015.4 L1565.0,1015.3 L1566.0,1015.9 L1567.0,1015.8 L1568.0,1016.2 L1569.0,1015.5 L1570.0,1015.4 L1571.0,1015.5 L1572.0,1015.6 L1573.0,1015.3 L1574.0,1015.9 L1575.0,1016.0 L1576.0,1016.1 L1577.0,1015.7 L1578.0,1016.0 L1579.0,1016.1 L1580.0,1015.9 L1581.0,1015.3 L1582.0,1015.7 L1583.0,1015.9 L1584.0,1016.0 L1585.0,1016.2 L1586.0,1016.1 L1587.0,1015.9 L1588.0,1015.6 L1589.0,1015.4 L1590.0,1016.0 L1591.0,1015.9 L1592.0,1015.5 L1593.0,1016.0 L1594.0,1016.2 L1595.0,1015.9 L1596.0,1015.7 L1597.0,1015.7 L1598.0,1015.5 L1599.0,1016.2 L1600.0,1016.1 L1601.0,1015.8 L1602.0,1015.9 L1603.0,1015.7 L1604.0,1016.0 L1605.0,1016.0 L1606.0,1015.9 L1607.0,1015.6"/>
<path stroke-width="7.6" stroke-opacity="0.42" d="M156.5,56 H277"/>
<path stroke-width="3.3" d="M156.5,56 H277"/>
</g>
<g stroke="#ff9933">
<path stroke-width="7.6" stroke-opacity="0.42" d="M157.0,657.2 L157.5,657.1 L158.0,652.5 L158.5,652.6 L159.0,656.5 L159.5,656.0 L160.0,655.7 L160.5,653.8 L161.0,655.4 L161.5,655.4 L162.0,655.2 L162.5,653.0 L163.0,654.4 L163.5,654.3 L164.0,656.0 L164.5,657.4 L165.0,657.1 L165.5,655.0 L166.0,654.5 L166.5,653.6 L167.0,652.4 L167.5,652.4 L168.0,654.6 L168.5,653.9 L169.0,654.2 L169.5,656.8 L170.0,654.9 L170.5,655.1 L171.0,653.5 L171.5,652.4 L172.0,653.9 L172.5,652.9 L173.0,654.9 L173.5,657.4 L174.0,655.7 L174.5,653.2 L175.0,656.9 L175.5,656.4 L176.0,656.0 L176.5,656.9 L177.0,656.2 L177.5,656.3 L178.0,654.1 L178.5,657.3 L179.0,657.2 L179.5,653.1 L180.0,656.1 L180.5,655.9 L181.0,654.6 L181.5,655.0 L182.0,654.8 L182.5,657.0 L183.0,654.8 L183.5,656.5 L184.0,654.1 L184.5,656.8 L185.0,656.9 L185.5,654.6 L186.0,655.2 L186.5,657.0 L187.0,656.0 L187.5,654.8 L188.0,653.4 L188.5,653.9 L189.0,655.9 L189.5,653.1 L190.0,656.9 L190.5,653.7 L191.0,657.0 L191.5,653.9 L192.0,657.2 L192.5,655.9 L193.0,654.9 L193.5,654.9 L194.0,655.6 L194.5,655.3 L195.0,653.9 L195.5,653.4 L196.0,654.9 L196.5,657.1 L197.0,655.5 L197.5,652.7 L198.0,656.5 L198.5,656.0 L199.0,656.9 L199.5,653.3 L200.0,656.1 L200.5,652.6 L201.0,655.6 L201.5,653.7 L202.0,653.5 L202.5,656.8 L203.0,652.9 L203.5,655.0 L204.0,656.7 L204.5,653.6 L205.0,653.4 L205.5,656.8 L206.0,654.5 L206.5,656.0 L207.0,652.5 L207.5,654.2 L208.0,653.2 L208.5,655.7 L209.0,652.8 L209.5,657.2 L210.0,652.5 L210.5,656.0 L211.0,652.4 L211.5,653.6 L212.0,656.5 L212.5,653.1 L213.0,653.3 L213.5,655.8 L214.0,654.3 L214.5,652.6 L215.0,657.4 L215.5,653.1 L216.0,652.5 L216.5,654.1 L217.0,655.5 L217.5,656.1 L218.0,652.9 L218.5,654.1 L219.0,652.5 L219.5,654.6 L220.0,656.2 L220.5,656.1 L221.0,656.9 L221.5,656.2 L222.0,656.7 L222.5,655.9 L223.0,654.7 L223.5,653.5 L224.0,655.7 L224.5,654.0 L225.0,652.9 L225.5,654.6 L226.0,656.8 L226.5,653.0 L227.0,655.3 L227.5,654.4 L228.0,655.0 L228.5,653.1 L229.0,657.2 L229.5,653.7 L230.0,655.4 L230.5,654.5 L231.0,652.5 L231.5,655.2 L232.0,653.1 L232.5,652.7 L233.0,652.6 L233.5,653.2 L234.0,652.9 L234.5,655.6 L235.0,654.9 L235.5,657.3 L236.0,657.1 L236.5,657.4 L237.0,653.6 L237.5,654.6 L238.0,653.7 L238.5,655.4 L239.0,655.5 L239.5,656.4 L240.0,656.0 L240.5,653.7 L241.0,654.5 L241.5,655.0 L242.0,652.4 L242.5,652.6 L243.0,654.4 L243.5,653.0 L244.0,656.0 L244.5,653.6 L245.0,652.9 L245.5,653.3 L246.0,653.6 L246.5,653.5 L247.0,655.0 L247.5,654.7 L248.0,653.9 L248.5,655.6 L249.0,653.5 L249.5,656.9 L250.0,657.2 L250.5,656.0 L251.0,654.5 L251.5,654.9 L252.0,655.3 L252.5,652.6 L253.0,654.4 L253.5,654.9 L254.0,653.2 L254.5,652.7 L255.0,656.1 L255.5,653.6 L256.0,653.8 L256.5,655.0 L257.0,652.2 L257.5,649.1 L258.0,651.0 L258.5,646.8 L259.0,644.6 L259.5,648.3 L260.0,646.6 L260.5,649.2 L261.0,653.4 L261.5,653.8 L262.0,651.4 L262.5,654.0 L263.0,654.1 L263.5,654.6 L264.0,653.3 L264.5,655.3 L265.0,652.7 L265.5,653.8 L266.0,654.2 L266.5,657.0 L267.0,652.8 L267.5,656.2 L268.0,653.4 L268.5,655.3 L269.0,654.4 L269.5,654.7 L270.0,656.2 L270.5,654.4 L271.0,653.1 L271.5,653.1 L272.0,652.9 L272.5,656.7 L273.0,655.6 L273.5,657.2 L274.0,655.9 L274.5,652.6 L275.0,655.7 L275.5,656.3 L276.0,656.1 L276.5,654.9 L277.0,654.3 L277.5,654.7 L278.0,656.4 L278.5,653.8 L279.0,655.1 L279.5,654.8 L280.0,657.2 L280.5,656.5 L281.0,657.1 L281.5,656.6 L282.0,654.0 L282.5,653.6 L283.0,654.9 L283.5,653.8 L284.0,654.6 L284.5,655.8 L285.0,657.0 L285.5,655.4 L286.0,656.5 L286.5,653.0 L287.0,654.3 L287.5,657.4 L288.0,653.2 L288.5,654.6 L289.0,652.9 L289.5,653.0 L290.0,656.9 L290.5,657.4 L291.0,655.7 L291.5,653.2 L292.0,654.0 L292.5,653.7 L293.0,655.8 L293.5,655.9 L294.0,654.7 L294.5,655.1 L295.0,653.1 L295.5,655.2 L296.0,657.2 L296.5,656.2 L297.0,653.0 L297.5,655.1 L298.0,656.0 L298.5,653.8 L299.0,656.9 L299.5,654.8 L300.0,656.0 L300.5,654.5 L301.0,657.4 L301.5,656.4 L302.0,655.4 L302.5,653.3 L303.0,654.7 L303.5,652.7 L304.0,655.5 L304.5,656.9 L305.0,653.5 L305.5,655.1 L306.0,654.9 L306.5,654.6 L307.0,656.0 L307.5,657.1 L308.0,656.0 L308.5,654.9 L309.0,657.3 L309.5,654.2 L310.0,656.2 L310.5,655.8 L311.0,656.3 L311.5,656.7 L312.0,653.7 L312.5,655.6 L313.0,654.6 L313.5,655.9 L314.0,657.4 L314.5,655.7 L315.0,652.7 L315.5,654.9 L316.0,656.1 L316.5,656.9 L317.0,655.8 L317.5,656.6 L318.0,652.7 L318.5,657.2 L319.0,656.2 L319.5,655.6 L320.0,657.0 L320.5,656.9 L321.0,653.1 L321.5,656.6 L322.0,656.4 L322.5,653.6 L323.0,656.3 L323.5,655.5 L324.0,653.6 L324.5,656.5 L325.0,653.3 L325.5,655.6 L326.0,654.8 L326.5,653.9 L327.0,655.4 L327.5,654.9 L328.0,653.7 L328.5,657.3 L329.0,653.0 L329.5,652.7 L330.0,655.0 L330.5,656.7 L331.0,655.9 L331.5,656.3 L332.0,655.0 L332.5,655.9 L333.0,654.3 L333.5,654.0 L334.0,655.1 L334.5,652.9 L335.0,653.1 L335.5,656.3 L336.0,653.6 L336.5,656.3 L337.0,656.5 L337.5,654.7 L338.0,656.0 L338.5,656.5 L339.0,656.9 L339.5,653.4 L340.0,653.5 L340.5,654.6 L341.0,655.0 L341.5,654.2 L342.0,652.8 L342.5,655.4 L343.0,657.4 L343.5,654.5 L344.0,655.3 L344.5,654.6 L345.0,654.9 L345.5,656.9 L346.0,654.2 L346.5,655.9 L347.0,655.1 L347.5,655.3 L348.0,657.1 L348.5,653.2 L349.0,656.7 L349.5,654.2 L350.0,655.9 L350.5,656.6 L351.0,655.9 L351.5,654.7 L352.0,656.8 L352.5,653.3 L353.0,655.8 L353.5,654.7 L354.0,655.3 L354.5,656.9 L355.0,656.6 L355.5,655.8 L356.0,654.3 L356.5,653.9 L357.0,655.0 L357.5,653.9 L358.0,654.2 L358.5,657.4 L359.0,653.4 L359.5,656.7 L360.0,654.6 L360.5,654.6 L361.0,654.4 L361.5,653.2 L362.0,655.0 L362.5,653.6 L363.0,654.9 L363.5,654.2 L364.0,657.1 L364.5,657.2 L365.0,655.0 L365.5,655.9 L366.0,657.3 L366.5,654.4 L367.0,653.3 L367.5,654.0 L368.0,653.8 L368.5,656.1 L369.0,654.6 L369.5,654.6 L370.0,656.6 L370.5,654.0 L371.0,656.7 L371.5,655.9 L372.0,654.8 L372.5,656.8 L373.0,654.5 L373.5,657.0 L374.0,657.3 L374.5,655.3 L375.0,656.2 L375.5,657.4 L376.0,656.4 L376.5,656.4 L377.0,657.0 L377.5,657.3 L378.0,656.5 L378.5,657.5 L379.0,654.3 L379.5,655.9 L380.0,656.1 L380.5,654.7 L381.0,654.8 L381.5,653.8 L382.0,657.4 L382.5,654.6 L383.0,655.2 L383.5,657.1 L384.0,653.8 L384.5,657.4 L385.0,653.6 L385.5,653.1 L386.0,654.6 L386.5,654.6 L387.0,657.3 L387.5,657.1 L388.0,656.5 L388.5,655.0 L389.0,655.5 L389.5,654.1 L390.0,656.9 L390.5,654.8 L391.0,654.3 L391.5,656.0 L392.0,653.7 L392.5,654.5 L393.0,657.3 L393.5,653.4 L394.0,653.7 L394.5,654.0 L395.0,654.2 L395.5,655.0 L396.0,654.2 L396.5,654.6 L397.0,654.2 L397.5,654.1 L398.0,655.9 L398.5,654.6 L399.0,654.8 L399.5,656.6 L400.0,653.3 L400.5,653.7 L401.0,657.0 L401.5,655.0 L402.0,656.7 L402.5,653.7 L403.0,655.5 L403.5,657.0 L404.0,654.6 L404.5,656.6 L405.0,655.9 L405.5,654.9 L406.0,657.7 L406.5,654.9 L407.0,655.3 L407.5,655.9 L408.0,654.5 L408.5,656.9 L409.0,655.8 L409.5,655.8 L410.0,655.6 L410.5,657.6 L411.0,657.6 L411.5,657.0 L412.0,655.2 L412.5,655.0 L413.0,655.5 L413.5,653.3 L414.0,653.6 L414.5,657.7 L415.0,653.7 L415.5,657.4 L416.0,656.2 L416.5,657.3 L417.0,653.5 L417.5,654.5 L418.0,656.8 L418.5,653.2 L419.0,653.6 L419.5,654.7 L420.0,653.9 L420.5,653.8 L421.0,656.2 L421.5,653.6 L422.0,657.6 L422.5,656.1 L423.0,653.4 L423.5,657.3 L424.0,654.3 L424.5,655.4 L425.0,655.7 L425.5,653.8 L426.0,655.5 L426.5,653.4 L427.0,654.1 L427.5,657.4 L428.0,656.9 L428.5,655.6 L429.0,656.3 L429.5,657.2 L430.0,653.8 L430.5,655.4 L431.0,653.8 L431.5,653.7 L432.0,653.7 L432.5,654.2 L433.0,653.4 L433.5,654.2 L434.0,654.9 L434.5,656.0 L435.0,657.1 L435.5,657.3 L436.0,656.5 L436.5,655.5 L437.0,657.4 L437.5,654.0 L438.0,653.7 L438.5,656.9 L439.0,656.1 L439.5,654.2 L440.0,654.9 L440.5,654.6 L441.0,655.2 L441.5,655.2 L442.0,655.0 L442.5,656.9 L443.0,656.9 L443.5,655.8 L444.0,655.4 L444.5,654.5 L445.0,656.7 L445.5,657.7 L446.0,654.3 L446.5,656.4 L447.0,656.4 L447.5,656.2 L448.0,653.4 L448.5,655.8 L449.0,654.2 L449.5,654.1 L450.0,655.9 L450.5,656.2 L451.0,656.1 L451.5,656.6 L452.0,656.5 L452.5,655.4 L453.0,653.5 L453.5,656.8 L454.0,657.0 L454.5,657.1 L455.0,656.0 L455.5,653.5 L456.0,654.2 L456.5,653.8 L457.0,656.2 L457.5,655.8 L458.0,654.1 L458.5,657.6 L459.0,657.7 L459.5,657.4 L460.0,655.4 L460.5,654.6 L461.0,654.3 L461.5,657.0 L462.0,656.5 L462.5,654.6 L463.0,657.4 L463.5,655.9 L464.0,655.2 L464.5,655.2 L465.0,656.6 L465.5,655.4 L466.0,656.3 L466.5,653.9 L467.0,656.5 L467.5,654.6 L468.0,657.4 L468.5,654.3 L469.0,654.9 L469.5,655.8 L470.0,655.1 L470.5,655.7 L471.0,657.5 L471.5,654.3 L472.0,656.8 L472.5,656.5 L473.0,656.9 L473.5,655.4 L474.0,655.4 L474.5,654.9 L475.0,655.5 L475.5,654.5 L476.0,654.2 L476.5,655.5 L477.0,654.3 L477.5,655.5 L478.0,656.0 L478.5,654.8 L479.0,654.2 L479.5,656.1 L480.0,657.2 L480.5,654.4 L481.0,656.2 L481.5,656.3 L482.0,657.4 L482.5,656.5 L483.0,654.8 L483.5,654.3 L484.0,657.1 L484.5,654.8 L485.0,653.5 L485.5,657.3 L486.0,654.3 L486.5,654.8 L487.0,654.9 L487.5,654.6 L488.0,656.7 L488.5,655.0 L489.0,655.4 L489.5,655.3 L490.0,657.1 L490.5,653.5 L491.0,656.0 L491.5,654.0 L492.0,654.1 L492.5,656.1 L493.0,655.1 L493.5,653.8 L494.0,656.1 L494.5,657.5 L495.0,656.3 L495.5,655.7 L496.0,657.0 L496.5,657.5 L497.0,654.2 L497.5,654.8 L498.0,657.7 L498.5,657.6 L499.0,654.4 L499.5,656.6 L500.0,657.4 L500.5,656.1 L501.0,656.6 L501.5,655.8 L502.0,654.5 L502.5,654.5 L503.0,653.8 L503.5,656.4 L504.0,654.1 L504.5,656.2 L505.0,655.2 L505.5,655.4 L506.0,657.8 L506.5,655.3 L507.0,655.6 L507.5,655.2 L508.0,654.5 L508.5,654.5 L509.0,655.9 L509.5,657.1 L510.0,654.0 L510.5,657.7 L511.0,656.5 L511.5,653.8 L512.0,656.6 L512.5,655.3 L513.0,655.8 L513.5,654.0 L514.0,655.8 L514.5,655.8 L515.0,657.0 L515.5,656.1 L516.0,656.6 L516.5,656.8 L517.0,654.6 L517.5,653.7 L518.0,655.7 L518.5,654.2 L519.0,654.3 L519.5,655.0 L520.0,655.9 L520.5,656.3 L521.0,656.4 L521.5,657.6 L522.0,654.1 L522.5,656.0 L523.0,654.0 L523.5,656.5 L524.0,655.5 L524.5,654.3 L525.0,655.0 L525.5,656.5 L526.0,655.7 L526.5,657.6 L527.0,655.2 L527.5,655.1 L528.0,657.5 L528.5,656.2 L529.0,654.2 L529.5,657.0 L530.0,655.2 L530.5,657.6 L531.0,656.4 L531.5,657.1 L532.0,657.4 L532.5,655.8 L533.0,657.7 L533.5,653.9 L534.0,655.2 L534.5,657.2 L535.0,653.8 L535.5,656.5 L536.0,657.9 L536.5,656.7 L537.0,657.3 L537.5,654.1 L538.0,656.0 L538.5,656.3 L539.0,655.6 L539.5,655.5 L540.0,657.0 L540.5,654.5 L541.0,654.0 L541.5,656.2 L542.0,657.7 L542.5,657.2 L543.0,656.5 L543.5,655.0 L544.0,657.5 L544.5,654.0 L545.0,654.8 L545.5,657.0 L546.0,657.4 L546.5,655.5 L547.0,657.5 L547.5,654.3 L548.0,656.2 L548.5,654.1 L549.0,654.8 L549.5,654.6 L550.0,653.9 L550.5,655.5 L551.0,655.9 L551.5,655.0 L552.0,656.5 L552.5,654.1 L553.0,655.9 L553.5,656.0 L554.0,655.5 L554.5,657.5 L555.0,654.4 L555.5,655.6 L556.0,655.7 L556.5,655.4 L557.0,657.7 L557.5,656.2 L558.0,655.9 L558.5,655.7 L559.0,655.6 L559.5,657.6 L560.0,657.0 L560.5,656.5 L561.0,654.6 L561.5,656.3 L562.0,654.5 L562.5,655.3 L563.0,654.1 L563.5,656.7 L564.0,657.7 L564.5,656.4 L565.0,656.2 L565.5,655.0 L566.0,655.7 L566.5,655.8 L567.0,655.6 L567.5,655.0 L568.0,654.8 L568.5,656.9 L569.0,657.6 L569.5,657.1 L570.0,656.4 L570.5,654.1 L571.0,655.2 L571.5,657.2 L572.0,657.7 L572.5,656.1 L573.0,656.2 L573.5,656.6 L574.0,655.0 L574.5,656.7 L575.0,655.4 L575.5,657.2 L576.0,655.8 L576.5,656.5 L577.0,656.1 L577.5,656.1 L578.0,655.8 L578.5,657.6 L579.0,656.9 L579.5,655.6 L580.0,656.0 L580.5,657.4 L581.0,656.8 L581.5,656.5 L582.0,657.6 L582.5,654.5 L583.0,656.3 L583.5,656.4 L584.0,655.8 L584.5,657.6 L585.0,657.6 L585.5,655.5 L586.0,656.4 L586.5,656.9 L587.0,656.7 L587.5,655.5 L588.0,657.0 L588.5,655.4 L589.0,654.7 L589.5,656.5 L590.0,656.5 L590.5,655.6 L591.0,655.9 L591.5,657.7 L592.0,657.1 L592.5,655.6 L593.0,657.4 L593.5,656.2 L594.0,655.6 L594.5,656.5 L595.0,657.0 L595.5,657.4 L596.0,656.6 L596.5,656.5 L597.0,655.6 L597.5,654.3 L598.0,655.8 L598.5,654.6 L599.0,657.5 L599.5,655.5 L600.0,656.3 L600.5,656.8 L601.0,654.8 L601.5,657.1 L602.0,655.3 L602.5,654.5 L603.0,656.3 L603.5,655.6 L604.0,657.4 L604.5,655.8 L605.0,654.5 L605.5,654.3 L606.0,654.3 L606.5,655.9 L607.0,656.7 L607.5,654.4 L608.0,655.4 L608.5,655.9 L609.0,657.3 L609.5,657.5 L610.0,657.2 L610.5,656.4 L611.0,656.2 L611.5,655.0 L612.0,656.3 L612.5,654.8 L613.0,655.2 L613.5,657.0 L614.0,656.1 L614.5,656.7 L615.0,655.8 L615.5,655.2 L616.0,655.9 L616.5,656.1 L617.0,655.0 L617.5,657.0 L618.0,657.5 L618.5,654.8 L619.0,655.0 L619.5,656.9 L620.0,656.6 L620.5,654.9 L621.0,656.1 L621.5,655.0 L622.0,657.0 L622.5,656.1 L623.0,655.9 L623.5,654.7 L624.0,655.5 L624.5,655.7 L625.0,655.3 L625.5,654.7 L626.0,654.8 L626.5,656.4 L627.0,657.1 L627.5,656.8 L628.0,656.1 L628.5,656.6 L629.0,654.5 L629.5,654.7 L630.0,656.3 L630.5,654.0 L631.0,654.3 L631.5,656.5 L632.0,654.6 L632.5,654.6 L633.0,655.2 L633.5,656.6 L634.0,653.9 L634.5,656.7 L635.0,654.8 L635.5,655.6 L636.0,655.3 L636.5,654.1 L637.0,656.8 L637.5,654.2 L638.0,656.2 L638.5,656.4 L639.0,655.0 L639.5,656.5 L640.0,653.7 L640.5,653.9 L641.0,654.9 L641.5,653.5 L642.0,655.7 L642.5,654.8 L643.0,655.5 L643.5,653.8 L644.0,652.9 L644.5,655.5 L645.0,653.2 L645.5,653.7 L646.0,652.7 L646.5,653.9 L647.0,653.3 L647.5,652.3 L648.0,651.5 L648.5,652.2 L649.0,653.2 L649.5,650.9 L650.0,650.7 L650.5,651.4 L651.0,650.9 L651.5,650.7 L652.0,649.4 L652.5,648.9 L653.0,645.4 L653.5,645.7 L654.0,640.1 L654.5,635.8 L655.0,628.8 L655.5,620.2 L656.0,604.1 L656.5,584.1 L657.0,556.8 L657.5,523.7 L658.0,486.1 L658.5,449.3 L659.0,421.5 L659.5,404.5 L660.0,404.8 L660.5,425.3 L661.0,455.2 L661.5,491.8 L662.0,529.7 L662.5,562.0 L663.0,588.7 L663.5,608.3 L664.0,620.8 L664.5,632.3 L665.0,639.5 L665.5,642.7 L666.0,644.9 L666.5,646.2 L667.0,646.9 L667.5,649.5 L668.0,651.3 L668.5,649.5 L669.0,652.1 L669.5,652.8 L670.0,651.7 L670.5,653.5 L671.0,651.8 L671.5,652.5 L672.0,653.5 L672.5,654.6 L673.0,653.9 L673.5,652.8 L674.0,655.3 L674.5,654.4 L675.0,655.2 L675.5,653.7 L676.0,654.1 L676.5,653.6 L677.0,653.9 L677.5,654.7 L678.0,654.7 L678.5,655.5 L679.0,656.0 L679.5,654.7 L680.0,656.4 L680.5,655.7 L681.0,654.9 L681.5,654.5 L682.0,656.7 L682.5,655.9 L683.0,654.2 L683.5,656.0 L684.0,655.2 L684.5,655.4 L685.0,656.4 L685.5,654.9 L686.0,655.1 L686.5,655.8 L687.0,656.8 L687.5,654.6 L688.0,656.7 L688.5,656.4 L689.0,655.0 L689.5,656.3 L690.0,656.2 L690.5,656.4 L691.0,656.0 L691.5,655.4 L692.0,655.9 L692.5,655.2 L693.0,655.8 L693.5,655.7 L694.0,654.9 L694.5,655.3 L695.0,655.6 L695.5,655.7 L696.0,656.2 L696.5,656.7 L697.0,655.4 L697.5,656.2 L698.0,655.7 L698.5,655.4 L699.0,655.2 L699.5,657.3 L700.0,657.2 L700.5,657.0 L701.0,655.3 L701.5,655.2 L702.0,655.1 L702.5,655.6 L703.0,656.0 L703.5,654.9 L704.0,656.0 L704.5,656.7 L705.0,657.0 L705.5,655.4 L706.0,654.9 L706.5,657.0 L707.0,655.9 L707.5,655.7 L708.0,655.3 L708.5,655.6 L709.0,655.6 L709.5,655.6 L710.0,655.6 L710.5,656.3 L711.0,657.1 L711.5,655.8 L712.0,656.0 L712.5,656.2 L713.0,657.1 L713.5,657.0 L714.0,657.5 L714.5,655.4 L715.0,657.1 L715.5,655.8 L716.0,656.5 L716.5,656.4 L717.0,656.5 L717.5,655.8 L718.0,655.2 L718.5,655.1 L719.0,657.4 L719.5,657.3 L720.0,656.2 L720.5,655.3 L721.0,657.2 L721.5,656.3 L722.0,656.3 L722.5,656.7 L723.0,655.5 L723.5,655.6 L724.0,657.1 L724.5,656.9 L725.0,657.6 L725.5,656.2 L726.0,657.5 L726.5,657.3 L727.0,656.4 L727.5,657.4 L728.0,655.5 L728.5,655.3 L729.0,657.2 L729.5,655.5 L730.0,656.4 L730.5,657.0 L731.0,656.8 L731.5,655.7 L732.0,657.1 L732.5,655.2 L733.0,656.5 L733.5,657.4 L734.0,656.5 L734.5,655.9 L735.0,657.6 L735.5,657.0 L736.0,657.1 L736.5,657.4 L737.0,657.5 L737.5,656.6 L738.0,657.2 L738.5,656.4 L739.0,655.8 L739.5,655.9 L740.0,655.8 L740.5,655.3 L741.0,656.7 L741.5,656.2 L742.0,657.4 L742.5,655.3 L743.0,657.1 L743.5,655.7 L744.0,656.0 L744.5,655.9 L745.0,657.6 L745.5,656.8 L746.0,656.4 L746.5,655.7 L747.0,655.3 L747.5,656.1 L748.0,657.6 L748.5,656.3 L749.0,656.9 L749.5,657.4 L750.0,655.4 L750.5,656.0 L751.0,656.3 L751.5,655.8 L752.0,656.2 L752.5,656.9 L753.0,655.6 L753.5,657.0 L754.0,656.0 L754.5,656.9 L755.0,655.7 L755.5,657.2 L756.0,656.3 L756.5,657.3 L757.0,657.6 L757.5,656.7 L758.0,655.3 L758.5,656.2 L759.0,657.7 L759.5,656.9 L760.0,657.1 L760.5,656.4 L761.0,657.6 L761.5,657.5 L762.0,656.8 L762.5,656.7 L763.0,655.6 L763.5,655.3 L764.0,655.8 L764.5,657.0 L765.0,657.4 L765.5,657.2 L766.0,657.5 L766.5,655.4 L767.0,655.4 L767.5,655.9 L768.0,655.4 L768.5,656.7 L769.0,657.6 L769.5,657.5 L770.0,655.6 L770.5,656.9 L771.0,656.9 L771.5,656.9 L772.0,656.3 L772.5,655.9 L773.0,657.5 L773.5,657.5 L774.0,657.1 L774.5,656.7 L775.0,655.4 L775.5,656.0 L776.0,655.9 L776.5,655.9 L777.0,655.9 L777.5,657.0 L778.0,657.0 L778.5,655.8 L779.0,657.5 L779.5,655.4 L780.0,657.6 L780.5,656.8 L781.0,656.9 L781.5,656.1 L782.0,657.0 L782.5,657.5 L783.0,655.9 L783.5,655.7 L784.0,657.3 L784.5,656.0 L785.0,655.7 L785.5,656.6 L786.0,655.9 L786.5,655.9 L787.0,656.1 L787.5,655.6 L788.0,657.3 L788.5,656.7 L789.0,657.0 L789.5,656.1 L790.0,657.2 L790.5,657.7 L791.0,657.8 L791.5,655.5 L792.0,656.2 L792.5,655.7 L793.0,656.5 L793.5,657.0 L794.0,656.9 L794.5,656.3 L795.0,657.7 L795.5,656.9 L796.0,657.8 L796.5,656.4 L797.0,657.0 L797.5,655.7 L798.0,656.7 L798.5,657.0 L799.0,656.0 L799.5,656.9 L800.0,655.8 L800.5,656.5 L801.0,656.9 L801.5,656.6 L802.0,655.8 L802.5,655.9 L803.0,656.3 L803.5,657.0 L804.0,656.5 L804.5,656.0 L805.0,656.3 L805.5,656.2 L806.0,655.8 L806.5,656.8 L807.0,656.6 L807.5,656.2 L808.0,655.5 L808.5,657.6 L809.0,655.6 L809.5,655.8 L810.0,656.2 L810.5,657.3 L811.0,657.6 L811.5,657.2 L812.0,656.0 L812.5,657.4 L813.0,655.6 L813.5,655.8 L814.0,655.8 L814.5,656.8 L815.0,656.9 L815.5,657.0 L816.0,657.7 L816.5,657.2 L817.0,657.2 L817.5,655.9 L818.0,657.6 L818.5,657.6 L819.0,657.4 L819.5,655.7 L820.0,657.2 L820.5,656.7 L821.0,656.8 L821.5,656.2 L822.0,657.3 L822.5,657.4 L823.0,657.3 L823.5,656.2 L824.0,657.2 L824.5,655.8 L825.0,657.1 L825.5,655.7 L826.0,655.6 L826.5,655.8 L827.0,657.0 L827.5,657.8 L828.0,656.6 L828.5,657.0 L829.0,656.9 L829.5,657.5 L830.0,657.7 L830.5,657.4 L831.0,656.3 L831.5,655.8 L832.0,657.6 L832.5,656.2 L833.0,657.3 L833.5,657.5 L834.0,656.0 L834.5,656.0 L835.0,656.6 L835.5,657.5 L836.0,657.5 L836.5,657.8 L837.0,656.2 L837.5,657.0 L838.0,657.5 L838.5,656.5 L839.0,656.9 L839.5,656.1 L840.0,657.5 L840.5,656.6 L841.0,656.7 L841.5,657.1 L842.0,656.3 L842.5,657.4 L843.0,656.7 L843.5,656.6 L844.0,657.2 L844.5,657.1 L845.0,657.2 L845.5,657.6 L846.0,657.4 L846.5,656.6 L847.0,657.1 L847.5,657.5 L848.0,655.8 L848.5,657.1 L849.0,656.8 L849.5,656.6 L850.0,655.9 L850.5,656.3 L851.0,657.3 L851.5,657.6 L852.0,657.8 L852.5,657.3 L853.0,657.6 L853.5,657.5 L854.0,656.1 L854.5,657.2 L855.0,657.6 L855.5,657.3 L856.0,656.3 L856.5,657.2 L857.0,656.5 L857.5,656.6 L858.0,657.3 L858.5,657.2 L859.0,656.0 L859.5,657.1 L860.0,655.9 L860.5,656.2 L861.0,657.5 L861.5,657.7 L862.0,656.3 L862.5,657.4 L863.0,656.1 L863.5,656.8 L864.0,656.5 L864.5,655.9 L865.0,656.7 L865.5,656.9 L866.0,657.5 L866.5,656.0 L867.0,656.4 L867.5,655.8 L868.0,656.2 L868.5,656.3 L869.0,657.5 L869.5,657.7 L870.0,656.2 L870.5,656.8 L871.0,656.9 L871.5,656.8 L872.0,657.8 L872.5,657.8 L873.0,655.9 L873.5,656.6 L874.0,656.9 L874.5,657.1 L875.0,656.9 L875.5,657.5 L876.0,656.0 L876.5,656.7 L877.0,657.5 L877.5,656.2 L878.0,656.2 L878.5,657.1 L879.0,656.1 L879.5,656.9 L880.0,656.1 L880.5,656.2 L881.0,656.5 L881.5,657.4 L882.0,657.1 L882.5,657.1 L883.0,657.1 L883.5,656.6 L884.0,657.8 L884.5,657.0 L885.0,657.1 L885.5,656.0 L886.0,656.3 L886.5,657.0 L887.0,657.8 L887.5,657.3 L888.0,656.0 L888.5,657.5 L889.0,656.3 L889.5,657.1 L890.0,656.2 L890.5,656.0 L891.0,657.4 L891.5,656.8 L892.0,657.1 L892.5,657.3 L893.0,657.1 L893.5,656.7 L894.0,656.5 L894.5,656.9 L895.0,656.4 L895.5,656.4 L896.0,657.5 L896.5,656.6 L897.0,657.3 L897.5,657.2 L898.0,656.8 L898.5,657.5 L899.0,656.5 L899.5,655.9 L900.0,657.6 L900.5,657.4 L901.0,657.4 L901.5,657.7 L902.0,656.7 L902.5,656.7 L903.0,657.1 L903.5,657.6 L904.0,656.5 L904.5,657.4 L905.0,657.8 L905.5,656.4 L906.0,655.9 L906.5,656.2 L907.0,657.2 L907.5,656.3 L908.0,657.8 L908.5,656.1 L909.0,657.7 L909.5,656.6 L910.0,657.7 L910.5,656.6 L911.0,656.2 L911.5,657.3 L912.0,656.5 L912.5,657.8 L913.0,657.6 L913.5,656.4 L914.0,656.9 L914.5,657.0 L915.0,657.5 L915.5,656.5 L916.0,657.1 L916.5,657.0 L917.0,657.1 L917.5,657.0 L918.0,656.8 L918.5,656.7 L919.0,656.7 L919.5,657.9 L920.0,657.0 L920.5,656.2 L921.0,656.7 L921.5,657.5 L922.0,657.3 L922.5,656.1 L923.0,656.8 L923.5,656.9 L924.0,657.6 L924.5,656.5 L925.0,657.8 L925.5,657.6 L926.0,656.0 L926.5,657.0 L927.0,657.0 L927.5,657.2 L928.0,657.7 L928.5,656.4 L929.0,657.6 L929.5,656.0 L930.0,657.6 L930.5,656.5 L931.0,656.1 L931.5,657.6 L932.0,657.9 L932.5,657.3 L933.0,657.5 L933.5,656.8 L934.0,656.5 L934.5,657.3 L935.0,657.6 L935.5,656.5 L936.0,656.7 L936.5,656.5 L937.0,656.5 L937.5,657.7 L938.0,656.1 L938.5,656.1 L939.0,656.4 L939.5,657.5 L940.0,657.1 L940.5,657.5 L941.0,657.4 L941.5,657.7 L942.0,657.2 L942.5,656.1 L943.0,656.3 L943.5,656.8 L944.0,656.3 L944.5,656.6 L945.0,656.6 L945.5,657.9 L946.0,657.9 L946.5,657.3 L947.0,656.9 L947.5,656.8 L948.0,656.2 L948.5,656.9 L949.0,656.4 L949.5,657.1 L950.0,657.6 L950.5,656.8 L951.0,657.4 L951.5,657.6 L952.0,657.8 L952.5,656.9 L953.0,656.5 L953.5,657.7 L954.0,657.0 L954.5,656.6 L955.0,657.4 L955.5,657.7 L956.0,657.9 L956.5,656.8 L957.0,656.6 L957.5,656.6 L958.0,656.7 L958.5,656.5 L959.0,657.8 L959.5,657.3 L960.0,656.2 L960.5,656.3 L961.0,656.5 L961.5,657.9 L962.0,656.8 L962.5,657.6 L963.0,656.6 L963.5,656.5 L964.0,657.9 L964.5,656.3 L965.0,657.1 L965.5,657.1 L966.0,656.8 L966.5,657.5 L967.0,657.7 L967.5,656.6 L968.0,656.7 L968.5,657.0 L969.0,657.0 L969.5,657.3 L970.0,657.6 L970.5,656.8 L971.0,657.9 L971.5,657.0 L972.0,656.2 L972.5,656.9 L973.0,657.1 L973.5,656.5 L974.0,657.8 L974.5,657.2 L975.0,657.1 L975.5,656.7 L976.0,656.4 L976.5,656.7 L977.0,657.3 L977.5,657.4 L978.0,657.4 L978.5,656.3 L979.0,657.6 L979.5,657.4 L980.0,657.4 L980.5,657.1 L981.0,657.7 L981.5,657.9 L982.0,657.2 L982.5,657.0 L983.0,657.2 L983.5,657.6 L984.0,657.4 L984.5,657.6 L985.0,656.8 L985.5,657.3 L986.0,656.6 L986.5,657.2 L987.0,656.3 L987.5,657.2 L988.0,657.5 L988.5,657.8 L989.0,657.1 L989.5,657.8 L990.0,656.6 L990.5,656.3 L991.0,657.2 L991.5,656.8 L992.0,656.9 L992.5,657.3 L993.0,657.6 L993.5,657.7 L994.0,656.8 L994.5,657.3 L995.0,657.3 L995.5,657.4 L996.0,657.3 L996.5,657.1 L997.0,657.7 L997.5,656.3 L998.0,657.6 L998.5,656.6 L999.0,656.6 L999.5,657.4 L1000.0,657.1 L1000.5,656.9 L1001.0,656.4 L1001.5,656.4 L1002.0,656.8 L1002.5,656.5 L1003.0,657.5 L1003.5,656.6 L1004.0,656.9 L1004.5,657.0 L1005.0,657.5 L1005.5,657.7 L1006.0,657.4 L1006.5,656.7 L1007.0,656.5 L1007.5,657.3 L1008.0,656.9 L1008.5,657.5 L1009.0,656.7 L1009.5,657.5 L1010.0,656.9 L1010.5,656.8 L1011.0,656.6 L1011.5,657.6 L1012.0,657.2 L1012.5,657.2 L1013.0,657.7 L1013.5,656.4 L1014.0,657.2 L1014.5,656.9 L1015.0,656.8 L1015.5,657.7 L1016.0,656.8 L1016.5,657.0 L1017.0,657.1 L1017.5,656.6 L1018.0,656.9 L1018.5,656.4 L1019.0,657.2 L1019.5,657.4 L1020.0,658.0 L1020.5,657.9 L1021.0,656.9 L1021.5,657.9 L1022.0,656.5 L1022.5,656.6 L1023.0,657.2 L1023.5,657.5 L1024.0,657.3 L1024.5,656.4 L1025.0,657.0 L1025.5,657.2 L1026.0,657.0 L1026.5,657.6 L1027.0,657.6 L1027.5,656.5 L1028.0,657.1 L1028.5,657.5 L1029.0,657.7 L1029.5,657.5 L1030.0,658.0 L1030.5,657.6 L1031.0,657.0 L1031.5,657.7 L1032.0,657.4 L1032.5,657.4 L1033.0,657.4 L1033.5,657.6 L1034.0,657.6 L1034.5,657.2 L1035.0,657.7 L1035.5,657.1 L1036.0,657.6 L1036.5,657.9 L1037.0,657.3 L1037.5,656.7 L1038.0,657.9 L1038.5,656.8 L1039.0,656.8 L1039.5,656.5 L1040.0,657.1 L1040.5,657.1 L1041.0,657.7 L1041.5,656.7 L1042.0,657.0 L1042.5,657.7 L1043.0,656.5 L1043.5,657.1 L1044.0,656.7 L1044.5,657.7 L1045.0,656.9 L1045.5,656.7 L1046.0,656.6 L1046.5,656.8 L1047.0,657.6 L1047.5,656.6 L1048.0,656.5 L1048.5,656.8 L1049.0,656.5 L1049.5,657.6 L1050.0,657.6 L1050.5,657.3 L1051.0,657.0 L1051.5,656.5 L1052.0,657.6 L1052.5,656.9 L1053.0,657.3 L1053.5,658.0 L1054.0,656.9 L1054.5,657.5 L1055.0,657.2 L1055.5,657.3 L1056.0,657.1 L1056.5,657.6 L1057.0,657.3 L1057.5,656.5 L1058.0,657.7 L1058.5,656.9 L1059.0,657.0 L1059.5,657.2 L1060.0,657.4 L1060.5,657.6 L1061.0,656.7 L1061.5,657.1 L1062.0,657.4 L1062.5,657.2 L1063.0,656.9 L1063.5,657.7 L1064.0,658.0 L1064.5,657.5 L1065.0,657.3 L1065.5,656.7 L1066.0,657.2 L1066.5,657.7 L1067.0,657.0 L1068.0,657.2 L1069.0,657.4 L1070.0,657.9 L1071.0,657.0 L1072.0,656.5 L1073.0,657.1 L1074.0,656.6 L1075.0,656.8 L1076.0,657.0 L1077.0,657.0 L1078.0,656.7 L1079.0,656.6 L1080.0,657.3 L1081.0,656.4 L1082.0,656.8 L1082.5,656.6 L1083.0,656.4 L1083.5,656.9 L1084.0,656.5 L1084.5,657.0 L1085.0,656.9 L1085.5,656.5 L1086.0,657.5 L1086.5,657.0 L1087.0,657.2 L1087.5,656.4 L1088.0,657.0 L1088.5,656.9 L1089.0,656.9 L1089.5,656.0 L1090.0,656.9 L1090.5,656.0 L1091.0,655.1 L1091.5,655.7 L1092.0,653.7 L1092.5,652.6 L1093.0,648.7 L1093.5,644.3 L1094.0,639.7 L1094.5,634.0 L1095.0,629.3 L1095.5,626.5 L1096.0,626.0 L1096.5,628.1 L1097.0,629.0 L1097.5,628.5 L1098.0,627.8 L1098.5,626.0 L1099.0,626.3 L1099.5,628.6 L1100.0,633.6 L1100.5,639.3 L1101.0,645.2 L1101.5,648.5 L1102.0,652.0 L1102.5,653.8 L1103.0,655.6 L1103.5,655.2 L1104.0,656.1 L1104.5,656.7 L1105.0,656.3 L1105.5,657.2 L1106.0,656.3 L1106.5,656.8 L1107.0,656.6 L1107.5,656.6 L1108.0,656.3 L1108.5,657.4 L1109.0,657.2 L1109.5,657.5 L1110.0,657.0 L1110.5,656.7 L1111.0,657.4 L1111.5,657.8 L1112.0,657.2 L1112.5,656.9 L1113.0,657.2 L1114.0,657.7 L1115.0,657.6 L1116.0,656.8 L1117.0,657.2 L1118.0,656.6 L1119.0,657.4 L1120.0,658.0 L1121.0,657.7 L1122.0,657.4 L1123.0,657.7 L1124.0,657.8 L1125.0,657.4 L1126.0,657.0 L1127.0,657.4 L1128.0,656.9 L1129.0,657.0 L1130.0,657.9 L1131.0,657.4 L1132.0,657.4 L1133.0,657.9 L1134.0,657.6 L1135.0,657.1 L1136.0,657.3 L1137.0,657.4 L1138.0,657.8 L1139.0,657.7 L1140.0,658.0 L1141.0,657.4 L1142.0,657.2 L1143.0,657.2 L1144.0,657.5 L1145.0,657.2 L1146.0,658.1 L1147.0,657.7 L1148.0,657.5 L1149.0,657.0 L1150.0,657.7 L1151.0,657.3 L1152.0,656.9 L1153.0,658.1 L1154.0,657.4 L1155.0,657.5 L1156.0,657.7 L1157.0,657.2 L1158.0,658.1 L1159.0,658.0 L1160.0,658.0 L1161.0,657.8 L1162.0,658.1 L1163.0,658.1 L1164.0,657.1 L1165.0,657.4 L1166.0,657.7 L1167.0,658.1 L1168.0,656.8 L1169.0,657.7 L1170.0,657.8 L1171.0,658.0 L1172.0,658.1 L1173.0,657.8 L1174.0,658.0 L1175.0,657.0 L1176.0,657.1 L1177.0,658.0 L1178.0,657.9 L1179.0,657.7 L1180.0,657.0 L1181.0,657.8 L1182.0,656.9 L1183.0,657.3 L1184.0,658.1 L1185.0,658.0 L1186.0,657.8 L1187.0,657.2 L1188.0,657.6 L1189.0,657.5 L1190.0,658.0 L1191.0,657.1 L1192.0,657.6 L1193.0,657.9 L1194.0,657.5 L1195.0,657.2 L1196.0,657.6 L1197.0,657.7 L1198.0,657.1 L1199.0,657.5 L1200.0,657.1 L1201.0,657.8 L1202.0,658.0 L1203.0,657.6 L1204.0,657.4 L1205.0,657.9 L1206.0,657.5 L1207.0,657.0 L1208.0,657.4 L1209.0,657.4 L1210.0,657.2 L1211.0,657.4 L1212.0,657.5 L1213.0,657.6 L1214.0,657.1 L1215.0,657.9 L1216.0,658.2 L1217.0,657.4 L1218.0,658.2 L1219.0,657.1 L1220.0,657.1 L1221.0,657.9 L1222.0,657.7 L1223.0,657.6 L1224.0,657.3 L1225.0,658.2 L1226.0,657.2 L1227.0,657.9 L1228.0,657.3 L1229.0,658.0 L1230.0,658.2 L1231.0,657.4 L1232.0,657.5 L1233.0,658.2 L1234.0,657.8 L1235.0,658.1 L1236.0,657.8 L1237.0,657.2 L1238.0,657.4 L1239.0,657.6 L1240.0,657.4 L1241.0,657.7 L1242.0,658.0 L1243.0,657.0 L1244.0,657.8 L1245.0,657.1 L1246.0,657.9 L1247.0,657.0 L1248.0,657.1 L1249.0,657.9 L1250.0,657.5 L1251.0,657.3 L1252.0,657.1 L1253.0,657.3 L1254.0,658.3 L1255.0,657.2 L1256.0,657.5 L1257.0,657.4 L1258.0,658.3 L1259.0,657.3 L1260.0,657.1 L1261.0,657.2 L1262.0,658.3 L1263.0,657.8 L1264.0,657.5 L1265.0,658.1 L1266.0,658.2 L1267.0,657.3 L1268.0,657.2 L1269.0,657.6 L1270.0,658.1 L1271.0,657.2 L1272.0,657.2 L1273.0,657.5 L1274.0,657.1 L1275.0,658.1 L1276.0,657.8 L1277.0,658.0 L1278.0,657.7 L1279.0,657.7 L1280.0,657.3 L1281.0,657.2 L1282.0,657.8 L1283.0,657.2 L1284.0,658.0 L1285.0,657.5 L1286.0,658.3 L1287.0,657.5 L1288.0,658.2 L1289.0,657.2 L1290.0,657.9 L1291.0,657.1 L1292.0,658.2 L1293.0,657.9 L1294.0,657.4 L1295.0,657.7 L1296.0,657.8 L1297.0,658.2 L1298.0,658.0 L1299.0,657.6 L1300.0,657.4 L1301.0,658.2 L1302.0,657.4 L1303.0,658.0 L1304.0,657.6 L1305.0,658.0 L1306.0,657.6 L1307.0,657.6 L1308.0,657.9 L1309.0,657.5 L1310.0,657.9 L1311.0,658.1 L1312.0,657.8 L1313.0,658.1 L1314.0,657.8 L1315.0,658.1 L1316.0,658.3 L1317.0,657.7 L1318.0,658.3 L1319.0,657.5 L1320.0,657.2 L1321.0,657.5 L1322.0,657.2 L1323.0,657.6 L1324.0,658.1 L1325.0,657.3 L1326.0,658.3 L1327.0,658.0 L1328.0,657.5 L1329.0,658.2 L1330.0,657.4 L1331.0,657.2 L1332.0,657.8 L1333.0,657.9 L1334.0,657.7 L1335.0,658.1 L1336.0,658.3 L1337.0,657.4 L1338.0,657.5 L1339.0,657.4 L1340.0,658.2 L1341.0,658.0 L1342.0,657.9 L1343.0,658.1 L1344.0,657.8 L1345.0,657.6 L1346.0,658.0 L1347.0,658.1 L1348.0,657.4 L1349.0,658.2 L1350.0,657.2 L1351.0,657.4 L1352.0,658.3 L1353.0,658.1 L1354.0,657.5 L1355.0,658.4 L1356.0,657.4 L1357.0,658.1 L1358.0,657.8 L1359.0,657.9 L1360.0,658.2 L1361.0,658.4 L1362.0,657.9 L1363.0,658.2 L1364.0,657.9 L1365.0,658.0 L1366.0,657.9 L1367.0,657.9 L1368.0,658.2 L1369.0,657.6 L1370.0,658.0 L1371.0,658.0 L1372.0,657.7 L1373.0,657.6 L1374.0,656.4 L1375.0,655.8 L1376.0,654.6 L1377.0,655.3 L1378.0,655.0 L1379.0,655.3 L1380.0,657.1 L1381.0,657.7 L1382.0,657.9 L1383.0,657.9 L1384.0,657.8 L1385.0,657.8 L1386.0,658.3 L1387.0,657.9 L1388.0,657.7 L1389.0,658.2 L1390.0,658.3 L1391.0,657.2 L1392.0,657.3 L1393.0,657.4 L1394.0,657.4 L1395.0,657.6 L1396.0,657.5 L1397.0,658.1 L1398.0,657.9 L1399.0,658.1 L1400.0,657.5 L1401.0,658.2 L1402.0,657.5 L1403.0,658.3 L1404.0,657.6 L1405.0,657.8 L1406.0,657.9 L1407.0,657.6 L1408.0,657.8 L1409.0,658.3 L1410.0,657.5 L1411.0,657.6 L1412.0,657.8 L1413.0,657.8 L1414.0,657.4 L1415.0,657.7 L1416.0,657.8 L1417.0,657.6 L1418.0,657.6 L1419.0,657.5 L1420.0,658.0 L1421.0,657.7 L1422.0,657.3 L1423.0,657.6 L1424.0,657.3 L1425.0,657.6 L1426.0,658.0 L1427.0,657.5 L1428.0,657.9 L1429.0,658.1 L1430.0,658.2 L1431.0,657.7 L1432.0,657.3 L1433.0,657.8 L1434.0,657.2 L1435.0,657.3 L1436.0,657.5 L1437.0,657.6 L1438.0,657.6 L1439.0,657.1 L1440.0,657.6 L1441.0,657.9 L1442.0,658.0 L1443.0,657.9 L1444.0,657.1 L1445.0,657.1 L1446.0,656.9 L1447.0,657.7 L1448.0,657.1 L1449.0,657.1 L1450.0,657.6 L1451.0,657.4 L1452.0,657.4 L1453.0,656.3 L1453.5,656.9 L1454.0,656.5 L1454.5,656.7 L1455.0,656.0 L1455.5,656.1 L1456.0,656.7 L1456.5,656.1 L1457.0,655.8 L1457.5,655.8 L1458.0,654.9 L1458.5,654.6 L1459.0,654.6 L1459.5,654.1 L1460.0,653.6 L1460.5,652.9 L1461.0,651.2 L1461.5,649.8 L1462.0,648.0 L1462.5,644.4 L1463.0,639.3 L1463.5,632.3 L1464.0,625.1 L1464.5,615.5 L1465.0,606.8 L1465.5,599.8 L1466.0,597.4 L1466.5,598.2 L1467.0,603.1 L1467.5,609.0 L1468.0,614.6 L1468.5,618.0 L1469.0,617.5 L1469.5,614.6 L1470.0,609.1 L1470.5,603.0 L1471.0,597.9 L1471.5,597.3 L1472.0,600.5 L1472.5,607.1 L1473.0,616.1 L1473.5,624.8 L1474.0,633.0 L1474.5,638.9 L1475.0,643.9 L1475.5,647.9 L1476.0,649.9 L1476.5,652.3 L1477.0,652.8 L1477.5,653.1 L1478.0,654.2 L1478.5,655.1 L1479.0,654.7 L1479.5,655.3 L1480.0,655.7 L1480.5,656.3 L1481.0,655.5 L1481.5,656.4 L1482.0,655.9 L1482.5,656.7 L1483.0,657.1 L1483.5,656.8 L1484.0,656.3 L1484.5,656.6 L1485.0,656.9 L1485.5,657.4 L1486.5,656.8 L1487.5,657.5 L1488.5,657.4 L1489.5,657.8 L1490.5,656.9 L1491.5,657.6 L1492.5,657.9 L1493.5,657.3 L1494.5,657.7 L1495.5,658.1 L1496.5,657.4 L1497.5,657.4 L1498.5,658.2 L1499.5,657.7 L1500.5,658.3 L1501.5,657.7 L1502.5,657.5 L1503.5,658.3 L1504.5,657.5 L1505.5,657.5 L1506.5,657.9 L1507.5,658.1 L1508.5,658.0 L1509.5,658.4 L1510.5,657.6 L1511.5,658.1 L1512.5,657.7 L1513.5,658.4 L1514.5,657.5 L1515.5,657.7 L1516.5,657.8 L1517.5,657.9 L1518.5,657.8 L1519.5,657.9 L1520.5,658.1 L1521.5,658.4 L1522.5,658.1 L1523.5,657.9 L1524.5,658.1 L1525.5,658.4 L1526.5,658.4 L1527.5,658.5 L1528.5,658.0 L1529.5,657.8 L1530.5,657.9 L1531.5,657.8 L1532.5,658.5 L1533.5,658.3 L1534.5,658.6 L1535.5,658.3 L1536.5,658.4 L1537.5,658.0 L1538.5,658.1 L1539.5,657.8 L1540.5,658.1 L1541.5,658.0 L1542.5,658.4 L1543.5,657.6 L1544.5,658.1 L1545.5,658.0 L1546.5,657.7 L1547.5,657.6 L1548.5,658.1 L1549.5,658.4 L1550.5,658.1 L1551.5,658.1 L1552.5,658.0 L1553.5,658.5 L1554.5,658.2 L1555.5,658.1 L1556.5,657.6 L1557.5,657.6 L1558.5,658.0 L1559.5,657.9 L1560.5,657.9 L1561.5,657.9 L1562.5,657.6 L1563.5,658.0 L1564.5,658.1 L1565.5,657.9 L1566.5,658.1 L1567.5,658.0 L1568.5,658.0 L1569.5,657.7 L1570.5,658.0 L1571.5,657.8 L1572.5,658.6 L1573.5,657.9 L1574.5,658.1 L1575.5,657.9 L1576.5,658.0 L1577.5,657.7 L1578.5,658.2 L1579.5,658.0 L1580.5,658.1 L1581.5,657.7 L1582.5,657.8 L1583.5,658.3 L1584.5,658.2 L1585.5,658.3 L1586.5,658.1 L1587.5,658.2 L1588.5,657.8 L1589.5,658.1 L1590.5,658.1 L1591.5,658.0 L1592.5,658.0 L1593.5,657.7 L1594.5,658.5 L1595.5,658.3 L1596.5,658.4 L1597.5,658.5 L1598.5,658.3 L1599.5,658.3 L1600.5,658.4 L1601.5,658.2 L1602.5,657.9 L1603.5,657.8 L1604.5,658.5 L1605.5,658.5 L1606.5,658.5"/>
<path stroke-width="3.3" d="M157.0,657.2 L157.5,657.1 L158.0,652.5 L158.5,652.6 L159.0,656.5 L159.5,656.0 L160.0,655.7 L160.5,653.8 L161.0,655.4 L161.5,655.4 L162.0,655.2 L162.5,653.0 L163.0,654.4 L163.5,654.3 L164.0,656.0 L164.5,657.4 L165.0,657.1 L165.5,655.0 L166.0,654.5 L166.5,653.6 L167.0,652.4 L167.5,652.4 L168.0,654.6 L168.5,653.9 L169.0,654.2 L169.5,656.8 L170.0,654.9 L170.5,655.1 L171.0,653.5 L171.5,652.4 L172.0,653.9 L172.5,652.9 L173.0,654.9 L173.5,657.4 L174.0,655.7 L174.5,653.2 L175.0,656.9 L175.5,656.4 L176.0,656.0 L176.5,656.9 L177.0,656.2 L177.5,656.3 L178.0,654.1 L178.5,657.3 L179.0,657.2 L179.5,653.1 L180.0,656.1 L180.5,655.9 L181.0,654.6 L181.5,655.0 L182.0,654.8 L182.5,657.0 L183.0,654.8 L183.5,656.5 L184.0,654.1 L184.5,656.8 L185.0,656.9 L185.5,654.6 L186.0,655.2 L186.5,657.0 L187.0,656.0 L187.5,654.8 L188.0,653.4 L188.5,653.9 L189.0,655.9 L189.5,653.1 L190.0,656.9 L190.5,653.7 L191.0,657.0 L191.5,653.9 L192.0,657.2 L192.5,655.9 L193.0,654.9 L193.5,654.9 L194.0,655.6 L194.5,655.3 L195.0,653.9 L195.5,653.4 L196.0,654.9 L196.5,657.1 L197.0,655.5 L197.5,652.7 L198.0,656.5 L198.5,656.0 L199.0,656.9 L199.5,653.3 L200.0,656.1 L200.5,652.6 L201.0,655.6 L201.5,653.7 L202.0,653.5 L202.5,656.8 L203.0,652.9 L203.5,655.0 L204.0,656.7 L204.5,653.6 L205.0,653.4 L205.5,656.8 L206.0,654.5 L206.5,656.0 L207.0,652.5 L207.5,654.2 L208.0,653.2 L208.5,655.7 L209.0,652.8 L209.5,657.2 L210.0,652.5 L210.5,656.0 L211.0,652.4 L211.5,653.6 L212.0,656.5 L212.5,653.1 L213.0,653.3 L213.5,655.8 L214.0,654.3 L214.5,652.6 L215.0,657.4 L215.5,653.1 L216.0,652.5 L216.5,654.1 L217.0,655.5 L217.5,656.1 L218.0,652.9 L218.5,654.1 L219.0,652.5 L219.5,654.6 L220.0,656.2 L220.5,656.1 L221.0,656.9 L221.5,656.2 L222.0,656.7 L222.5,655.9 L223.0,654.7 L223.5,653.5 L224.0,655.7 L224.5,654.0 L225.0,652.9 L225.5,654.6 L226.0,656.8 L226.5,653.0 L227.0,655.3 L227.5,654.4 L228.0,655.0 L228.5,653.1 L229.0,657.2 L229.5,653.7 L230.0,655.4 L230.5,654.5 L231.0,652.5 L231.5,655.2 L232.0,653.1 L232.5,652.7 L233.0,652.6 L233.5,653.2 L234.0,652.9 L234.5,655.6 L235.0,654.9 L235.5,657.3 L236.0,657.1 L236.5,657.4 L237.0,653.6 L237.5,654.6 L238.0,653.7 L238.5,655.4 L239.0,655.5 L239.5,656.4 L240.0,656.0 L240.5,653.7 L241.0,654.5 L241.5,655.0 L242.0,652.4 L242.5,652.6 L243.0,654.4 L243.5,653.0 L244.0,656.0 L244.5,653.6 L245.0,652.9 L245.5,653.3 L246.0,653.6 L246.5,653.5 L247.0,655.0 L247.5,654.7 L248.0,653.9 L248.5,655.6 L249.0,653.5 L249.5,656.9 L250.0,657.2 L250.5,656.0 L251.0,654.5 L251.5,654.9 L252.0,655.3 L252.5,652.6 L253.0,654.4 L253.5,654.9 L254.0,653.2 L254.5,652.7 L255.0,656.1 L255.5,653.6 L256.0,653.8 L256.5,655.0 L257.0,652.2 L257.5,649.1 L258.0,651.0 L258.5,646.8 L259.0,644.6 L259.5,648.3 L260.0,646.6 L260.5,649.2 L261.0,653.4 L261.5,653.8 L262.0,651.4 L262.5,654.0 L263.0,654.1 L263.5,654.6 L264.0,653.3 L264.5,655.3 L265.0,652.7 L265.5,653.8 L266.0,654.2 L266.5,657.0 L267.0,652.8 L267.5,656.2 L268.0,653.4 L268.5,655.3 L269.0,654.4 L269.5,654.7 L270.0,656.2 L270.5,654.4 L271.0,653.1 L271.5,653.1 L272.0,652.9 L272.5,656.7 L273.0,655.6 L273.5,657.2 L274.0,655.9 L274.5,652.6 L275.0,655.7 L275.5,656.3 L276.0,656.1 L276.5,654.9 L277.0,654.3 L277.5,654.7 L278.0,656.4 L278.5,653.8 L279.0,655.1 L279.5,654.8 L280.0,657.2 L280.5,656.5 L281.0,657.1 L281.5,656.6 L282.0,654.0 L282.5,653.6 L283.0,654.9 L283.5,653.8 L284.0,654.6 L284.5,655.8 L285.0,657.0 L285.5,655.4 L286.0,656.5 L286.5,653.0 L287.0,654.3 L287.5,657.4 L288.0,653.2 L288.5,654.6 L289.0,652.9 L289.5,653.0 L290.0,656.9 L290.5,657.4 L291.0,655.7 L291.5,653.2 L292.0,654.0 L292.5,653.7 L293.0,655.8 L293.5,655.9 L294.0,654.7 L294.5,655.1 L295.0,653.1 L295.5,655.2 L296.0,657.2 L296.5,656.2 L297.0,653.0 L297.5,655.1 L298.0,656.0 L298.5,653.8 L299.0,656.9 L299.5,654.8 L300.0,656.0 L300.5,654.5 L301.0,657.4 L301.5,656.4 L302.0,655.4 L302.5,653.3 L303.0,654.7 L303.5,652.7 L304.0,655.5 L304.5,656.9 L305.0,653.5 L305.5,655.1 L306.0,654.9 L306.5,654.6 L307.0,656.0 L307.5,657.1 L308.0,656.0 L308.5,654.9 L309.0,657.3 L309.5,654.2 L310.0,656.2 L310.5,655.8 L311.0,656.3 L311.5,656.7 L312.0,653.7 L312.5,655.6 L313.0,654.6 L313.5,655.9 L314.0,657.4 L314.5,655.7 L315.0,652.7 L315.5,654.9 L316.0,656.1 L316.5,656.9 L317.0,655.8 L317.5,656.6 L318.0,652.7 L318.5,657.2 L319.0,656.2 L319.5,655.6 L320.0,657.0 L320.5,656.9 L321.0,653.1 L321.5,656.6 L322.0,656.4 L322.5,653.6 L323.0,656.3 L323.5,655.5 L324.0,653.6 L324.5,656.5 L325.0,653.3 L325.5,655.6 L326.0,654.8 L326.5,653.9 L327.0,655.4 L327.5,654.9 L328.0,653.7 L328.5,657.3 L329.0,653.0 L329.5,652.7 L330.0,655.0 L330.5,656.7 L331.0,655.9 L331.5,656.3 L332.0,655.0 L332.5,655.9 L333.0,654.3 L333.5,654.0 L334.0,655.1 L334.5,652.9 L335.0,653.1 L335.5,656.3 L336.0,653.6 L336.5,656.3 L337.0,656.5 L337.5,654.7 L338.0,656.0 L338.5,656.5 L339.0,656.9 L339.5,653.4 L340.0,653.5 L340.5,654.6 L341.0,655.0 L341.5,654.2 L342.0,652.8 L342.5,655.4 L343.0,657.4 L343.5,654.5 L344.0,655.3 L344.5,654.6 L345.0,654.9 L345.5,656.9 L346.0,654.2 L346.5,655.9 L347.0,655.1 L347.5,655.3 L348.0,657.1 L348.5,653.2 L349.0,656.7 L349.5,654.2 L350.0,655.9 L350.5,656.6 L351.0,655.9 L351.5,654.7 L352.0,656.8 L352.5,653.3 L353.0,655.8 L353.5,654.7 L354.0,655.3 L354.5,656.9 L355.0,656.6 L355.5,655.8 L356.0,654.3 L356.5,653.9 L357.0,655.0 L357.5,653.9 L358.0,654.2 L358.5,657.4 L359.0,653.4 L359.5,656.7 L360.0,654.6 L360.5,654.6 L361.0,654.4 L361.5,653.2 L362.0,655.0 L362.5,653.6 L363.0,654.9 L363.5,654.2 L364.0,657.1 L364.5,657.2 L365.0,655.0 L365.5,655.9 L366.0,657.3 L366.5,654.4 L367.0,653.3 L367.5,654.0 L368.0,653.8 L368.5,656.1 L369.0,654.6 L369.5,654.6 L370.0,656.6 L370.5,654.0 L371.0,656.7 L371.5,655.9 L372.0,654.8 L372.5,656.8 L373.0,654.5 L373.5,657.0 L374.0,657.3 L374.5,655.3 L375.0,656.2 L375.5,657.4 L376.0,656.4 L376.5,656.4 L377.0,657.0 L377.5,657.3 L378.0,656.5 L378.5,657.5 L379.0,654.3 L379.5,655.9 L380.0,656.1 L380.5,654.7 L381.0,654.8 L381.5,653.8 L382.0,657.4 L382.5,654.6 L383.0,655.2 L383.5,657.1 L384.0,653.8 L384.5,657.4 L385.0,653.6 L385.5,653.1 L386.0,654.6 L386.5,654.6 L387.0,657.3 L387.5,657.1 L388.0,656.5 L388.5,655.0 L389.0,655.5 L389.5,654.1 L390.0,656.9 L390.5,654.8 L391.0,654.3 L391.5,656.0 L392.0,653.7 L392.5,654.5 L393.0,657.3 L393.5,653.4 L394.0,653.7 L394.5,654.0 L395.0,654.2 L395.5,655.0 L396.0,654.2 L396.5,654.6 L397.0,654.2 L397.5,654.1 L398.0,655.9 L398.5,654.6 L399.0,654.8 L399.5,656.6 L400.0,653.3 L400.5,653.7 L401.0,657.0 L401.5,655.0 L402.0,656.7 L402.5,653.7 L403.0,655.5 L403.5,657.0 L404.0,654.6 L404.5,656.6 L405.0,655.9 L405.5,654.9 L406.0,657.7 L406.5,654.9 L407.0,655.3 L407.5,655.9 L408.0,654.5 L408.5,656.9 L409.0,655.8 L409.5,655.8 L410.0,655.6 L410.5,657.6 L411.0,657.6 L411.5,657.0 L412.0,655.2 L412.5,655.0 L413.0,655.5 L413.5,653.3 L414.0,653.6 L414.5,657.7 L415.0,653.7 L415.5,657.4 L416.0,656.2 L416.5,657.3 L417.0,653.5 L417.5,654.5 L418.0,656.8 L418.5,653.2 L419.0,653.6 L419.5,654.7 L420.0,653.9 L420.5,653.8 L421.0,656.2 L421.5,653.6 L422.0,657.6 L422.5,656.1 L423.0,653.4 L423.5,657.3 L424.0,654.3 L424.5,655.4 L425.0,655.7 L425.5,653.8 L426.0,655.5 L426.5,653.4 L427.0,654.1 L427.5,657.4 L428.0,656.9 L428.5,655.6 L429.0,656.3 L429.5,657.2 L430.0,653.8 L430.5,655.4 L431.0,653.8 L431.5,653.7 L432.0,653.7 L432.5,654.2 L433.0,653.4 L433.5,654.2 L434.0,654.9 L434.5,656.0 L435.0,657.1 L435.5,657.3 L436.0,656.5 L436.5,655.5 L437.0,657.4 L437.5,654.0 L438.0,653.7 L438.5,656.9 L439.0,656.1 L439.5,654.2 L440.0,654.9 L440.5,654.6 L441.0,655.2 L441.5,655.2 L442.0,655.0 L442.5,656.9 L443.0,656.9 L443.5,655.8 L444.0,655.4 L444.5,654.5 L445.0,656.7 L445.5,657.7 L446.0,654.3 L446.5,656.4 L447.0,656.4 L447.5,656.2 L448.0,653.4 L448.5,655.8 L449.0,654.2 L449.5,654.1 L450.0,655.9 L450.5,656.2 L451.0,656.1 L451.5,656.6 L452.0,656.5 L452.5,655.4 L453.0,653.5 L453.5,656.8 L454.0,657.0 L454.5,657.1 L455.0,656.0 L455.5,653.5 L456.0,654.2 L456.5,653.8 L457.0,656.2 L457.5,655.8 L458.0,654.1 L458.5,657.6 L459.0,657.7 L459.5,657.4 L460.0,655.4 L460.5,654.6 L461.0,654.3 L461.5,657.0 L462.0,656.5 L462.5,654.6 L463.0,657.4 L463.5,655.9 L464.0,655.2 L464.5,655.2 L465.0,656.6 L465.5,655.4 L466.0,656.3 L466.5,653.9 L467.0,656.5 L467.5,654.6 L468.0,657.4 L468.5,654.3 L469.0,654.9 L469.5,655.8 L470.0,655.1 L470.5,655.7 L471.0,657.5 L471.5,654.3 L472.0,656.8 L472.5,656.5 L473.0,656.9 L473.5,655.4 L474.0,655.4 L474.5,654.9 L475.0,655.5 L475.5,654.5 L476.0,654.2 L476.5,655.5 L477.0,654.3 L477.5,655.5 L478.0,656.0 L478.5,654.8 L479.0,654.2 L479.5,656.1 L480.0,657.2 L480.5,654.4 L481.0,656.2 L481.5,656.3 L482.0,657.4 L482.5,656.5 L483.0,654.8 L483.5,654.3 L484.0,657.1 L484.5,654.8 L485.0,653.5 L485.5,657.3 L486.0,654.3 L486.5,654.8 L487.0,654.9 L487.5,654.6 L488.0,656.7 L488.5,655.0 L489.0,655.4 L489.5,655.3 L490.0,657.1 L490.5,653.5 L491.0,656.0 L491.5,654.0 L492.0,654.1 L492.5,656.1 L493.0,655.1 L493.5,653.8 L494.0,656.1 L494.5,657.5 L495.0,656.3 L495.5,655.7 L496.0,657.0 L496.5,657.5 L497.0,654.2 L497.5,654.8 L498.0,657.7 L498.5,657.6 L499.0,654.4 L499.5,656.6 L500.0,657.4 L500.5,656.1 L501.0,656.6 L501.5,655.8 L502.0,654.5 L502.5,654.5 L503.0,653.8 L503.5,656.4 L504.0,654.1 L504.5,656.2 L505.0,655.2 L505.5,655.4 L506.0,657.8 L506.5,655.3 L507.0,655.6 L507.5,655.2 L508.0,654.5 L508.5,654.5 L509.0,655.9 L509.5,657.1 L510.0,654.0 L510.5,657.7 L511.0,656.5 L511.5,653.8 L512.0,656.6 L512.5,655.3 L513.0,655.8 L513.5,654.0 L514.0,655.8 L514.5,655.8 L515.0,657.0 L515.5,656.1 L516.0,656.6 L516.5,656.8 L517.0,654.6 L517.5,653.7 L518.0,655.7 L518.5,654.2 L519.0,654.3 L519.5,655.0 L520.0,655.9 L520.5,656.3 L521.0,656.4 L521.5,657.6 L522.0,654.1 L522.5,656.0 L523.0,654.0 L523.5,656.5 L524.0,655.5 L524.5,654.3 L525.0,655.0 L525.5,656.5 L526.0,655.7 L526.5,657.6 L527.0,655.2 L527.5,655.1 L528.0,657.5 L528.5,656.2 L529.0,654.2 L529.5,657.0 L530.0,655.2 L530.5,657.6 L531.0,656.4 L531.5,657.1 L532.0,657.4 L532.5,655.8 L533.0,657.7 L533.5,653.9 L534.0,655.2 L534.5,657.2 L535.0,653.8 L535.5,656.5 L536.0,657.9 L536.5,656.7 L537.0,657.3 L537.5,654.1 L538.0,656.0 L538.5,656.3 L539.0,655.6 L539.5,655.5 L540.0,657.0 L540.5,654.5 L541.0,654.0 L541.5,656.2 L542.0,657.7 L542.5,657.2 L543.0,656.5 L543.5,655.0 L544.0,657.5 L544.5,654.0 L545.0,654.8 L545.5,657.0 L546.0,657.4 L546.5,655.5 L547.0,657.5 L547.5,654.3 L548.0,656.2 L548.5,654.1 L549.0,654.8 L549.5,654.6 L550.0,653.9 L550.5,655.5 L551.0,655.9 L551.5,655.0 L552.0,656.5 L552.5,654.1 L553.0,655.9 L553.5,656.0 L554.0,655.5 L554.5,657.5 L555.0,654.4 L555.5,655.6 L556.0,655.7 L556.5,655.4 L557.0,657.7 L557.5,656.2 L558.0,655.9 L558.5,655.7 L559.0,655.6 L559.5,657.6 L560.0,657.0 L560.5,656.5 L561.0,654.6 L561.5,656.3 L562.0,654.5 L562.5,655.3 L563.0,654.1 L563.5,656.7 L564.0,657.7 L564.5,656.4 L565.0,656.2 L565.5,655.0 L566.0,655.7 L566.5,655.8 L567.0,655.6 L567.5,655.0 L568.0,654.8 L568.5,656.9 L569.0,657.6 L569.5,657.1 L570.0,656.4 L570.5,654.1 L571.0,655.2 L571.5,657.2 L572.0,657.7 L572.5,656.1 L573.0,656.2 L573.5,656.6 L574.0,655.0 L574.5,656.7 L575.0,655.4 L575.5,657.2 L576.0,655.8 L576.5,656.5 L577.0,656.1 L577.5,656.1 L578.0,655.8 L578.5,657.6 L579.0,656.9 L579.5,655.6 L580.0,656.0 L580.5,657.4 L581.0,656.8 L581.5,656.5 L582.0,657.6 L582.5,654.5 L583.0,656.3 L583.5,656.4 L584.0,655.8 L584.5,657.6 L585.0,657.6 L585.5,655.5 L586.0,656.4 L586.5,656.9 L587.0,656.7 L587.5,655.5 L588.0,657.0 L588.5,655.4 L589.0,654.7 L589.5,656.5 L590.0,656.5 L590.5,655.6 L591.0,655.9 L591.5,657.7 L592.0,657.1 L592.5,655.6 L593.0,657.4 L593.5,656.2 L594.0,655.6 L594.5,656.5 L595.0,657.0 L595.5,657.4 L596.0,656.6 L596.5,656.5 L597.0,655.6 L597.5,654.3 L598.0,655.8 L598.5,654.6 L599.0,657.5 L599.5,655.5 L600.0,656.3 L600.5,656.8 L601.0,654.8 L601.5,657.1 L602.0,655.3 L602.5,654.5 L603.0,656.3 L603.5,655.6 L604.0,657.4 L604.5,655.8 L605.0,654.5 L605.5,654.3 L606.0,654.3 L606.5,655.9 L607.0,656.7 L607.5,654.4 L608.0,655.4 L608.5,655.9 L609.0,657.3 L609.5,657.5 L610.0,657.2 L610.5,656.4 L611.0,656.2 L611.5,655.0 L612.0,656.3 L612.5,654.8 L613.0,655.2 L613.5,657.0 L614.0,656.1 L614.5,656.7 L615.0,655.8 L615.5,655.2 L616.0,655.9 L616.5,656.1 L617.0,655.0 L617.5,657.0 L618.0,657.5 L618.5,654.8 L619.0,655.0 L619.5,656.9 L620.0,656.6 L620.5,654.9 L621.0,656.1 L621.5,655.0 L622.0,657.0 L622.5,656.1 L623.0,655.9 L623.5,654.7 L624.0,655.5 L624.5,655.7 L625.0,655.3 L625.5,654.7 L626.0,654.8 L626.5,656.4 L627.0,657.1 L627.5,656.8 L628.0,656.1 L628.5,656.6 L629.0,654.5 L629.5,654.7 L630.0,656.3 L630.5,654.0 L631.0,654.3 L631.5,656.5 L632.0,654.6 L632.5,654.6 L633.0,655.2 L633.5,656.6 L634.0,653.9 L634.5,656.7 L635.0,654.8 L635.5,655.6 L636.0,655.3 L636.5,654.1 L637.0,656.8 L637.5,654.2 L638.0,656.2 L638.5,656.4 L639.0,655.0 L639.5,656.5 L640.0,653.7 L640.5,653.9 L641.0,654.9 L641.5,653.5 L642.0,655.7 L642.5,654.8 L643.0,655.5 L643.5,653.8 L644.0,652.9 L644.5,655.5 L645.0,653.2 L645.5,653.7 L646.0,652.7 L646.5,653.9 L647.0,653.3 L647.5,652.3 L648.0,651.5 L648.5,652.2 L649.0,653.2 L649.5,650.9 L650.0,650.7 L650.5,651.4 L651.0,650.9 L651.5,650.7 L652.0,649.4 L652.5,648.9 L653.0,645.4 L653.5,645.7 L654.0,640.1 L654.5,635.8 L655.0,628.8 L655.5,620.2 L656.0,604.1 L656.5,584.1 L657.0,556.8 L657.5,523.7 L658.0,486.1 L658.5,449.3 L659.0,421.5 L659.5,404.5 L660.0,404.8 L660.5,425.3 L661.0,455.2 L661.5,491.8 L662.0,529.7 L662.5,562.0 L663.0,588.7 L663.5,608.3 L664.0,620.8 L664.5,632.3 L665.0,639.5 L665.5,642.7 L666.0,644.9 L666.5,646.2 L667.0,646.9 L667.5,649.5 L668.0,651.3 L668.5,649.5 L669.0,652.1 L669.5,652.8 L670.0,651.7 L670.5,653.5 L671.0,651.8 L671.5,652.5 L672.0,653.5 L672.5,654.6 L673.0,653.9 L673.5,652.8 L674.0,655.3 L674.5,654.4 L675.0,655.2 L675.5,653.7 L676.0,654.1 L676.5,653.6 L677.0,653.9 L677.5,654.7 L678.0,654.7 L678.5,655.5 L679.0,656.0 L679.5,654.7 L680.0,656.4 L680.5,655.7 L681.0,654.9 L681.5,654.5 L682.0,656.7 L682.5,655.9 L683.0,654.2 L683.5,656.0 L684.0,655.2 L684.5,655.4 L685.0,656.4 L685.5,654.9 L686.0,655.1 L686.5,655.8 L687.0,656.8 L687.5,654.6 L688.0,656.7 L688.5,656.4 L689.0,655.0 L689.5,656.3 L690.0,656.2 L690.5,656.4 L691.0,656.0 L691.5,655.4 L692.0,655.9 L692.5,655.2 L693.0,655.8 L693.5,655.7 L694.0,654.9 L694.5,655.3 L695.0,655.6 L695.5,655.7 L696.0,656.2 L696.5,656.7 L697.0,655.4 L697.5,656.2 L698.0,655.7 L698.5,655.4 L699.0,655.2 L699.5,657.3 L700.0,657.2 L700.5,657.0 L701.0,655.3 L701.5,655.2 L702.0,655.1 L702.5,655.6 L703.0,656.0 L703.5,654.9 L704.0,656.0 L704.5,656.7 L705.0,657.0 L705.5,655.4 L706.0,654.9 L706.5,657.0 L707.0,655.9 L707.5,655.7 L708.0,655.3 L708.5,655.6 L709.0,655.6 L709.5,655.6 L710.0,655.6 L710.5,656.3 L711.0,657.1 L711.5,655.8 L712.0,656.0 L712.5,656.2 L713.0,657.1 L713.5,657.0 L714.0,657.5 L714.5,655.4 L715.0,657.1 L715.5,655.8 L716.0,656.5 L716.5,656.4 L717.0,656.5 L717.5,655.8 L718.0,655.2 L718.5,655.1 L719.0,657.4 L719.5,657.3 L720.0,656.2 L720.5,655.3 L721.0,657.2 L721.5,656.3 L722.0,656.3 L722.5,656.7 L723.0,655.5 L723.5,655.6 L724.0,657.1 L724.5,656.9 L725.0,657.6 L725.5,656.2 L726.0,657.5 L726.5,657.3 L727.0,656.4 L727.5,657.4 L728.0,655.5 L728.5,655.3 L729.0,657.2 L729.5,655.5 L730.0,656.4 L730.5,657.0 L731.0,656.8 L731.5,655.7 L732.0,657.1 L732.5,655.2 L733.0,656.5 L733.5,657.4 L734.0,656.5 L734.5,655.9 L735.0,657.6 L735.5,657.0 L736.0,657.1 L736.5,657.4 L737.0,657.5 L737.5,656.6 L738.0,657.2 L738.5,656.4 L739.0,655.8 L739.5,655.9 L740.0,655.8 L740.5,655.3 L741.0,656.7 L741.5,656.2 L742.0,657.4 L742.5,655.3 L743.0,657.1 L743.5,655.7 L744.0,656.0 L744.5,655.9 L745.0,657.6 L745.5,656.8 L746.0,656.4 L746.5,655.7 L747.0,655.3 L747.5,656.1 L748.0,657.6 L748.5,656.3 L749.0,656.9 L749.5,657.4 L750.0,655.4 L750.5,656.0 L751.0,656.3 L751.5,655.8 L752.0,656.2 L752.5,656.9 L753.0,655.6 L753.5,657.0 L754.0,656.0 L754.5,656.9 L755.0,655.7 L755.5,657.2 L756.0,656.3 L756.5,657.3 L757.0,657.6 L757.5,656.7 L758.0,655.3 L758.5,656.2 L759.0,657.7 L759.5,656.9 L760.0,657.1 L760.5,656.4 L761.0,657.6 L761.5,657.5 L762.0,656.8 L762.5,656.7 L763.0,655.6 L763.5,655.3 L764.0,655.8 L764.5,657.0 L765.0,657.4 L765.5,657.2 L766.0,657.5 L766.5,655.4 L767.0,655.4 L767.5,655.9 L768.0,655.4 L768.5,656.7 L769.0,657.6 L769.5,657.5 L770.0,655.6 L770.5,656.9 L771.0,656.9 L771.5,656.9 L772.0,656.3 L772.5,655.9 L773.0,657.5 L773.5,657.5 L774.0,657.1 L774.5,656.7 L775.0,655.4 L775.5,656.0 L776.0,655.9 L776.5,655.9 L777.0,655.9 L777.5,657.0 L778.0,657.0 L778.5,655.8 L779.0,657.5 L779.5,655.4 L780.0,657.6 L780.5,656.8 L781.0,656.9 L781.5,656.1 L782.0,657.0 L782.5,657.5 L783.0,655.9 L783.5,655.7 L784.0,657.3 L784.5,656.0 L785.0,655.7 L785.5,656.6 L786.0,655.9 L786.5,655.9 L787.0,656.1 L787.5,655.6 L788.0,657.3 L788.5,656.7 L789.0,657.0 L789.5,656.1 L790.0,657.2 L790.5,657.7 L791.0,657.8 L791.5,655.5 L792.0,656.2 L792.5,655.7 L793.0,656.5 L793.5,657.0 L794.0,656.9 L794.5,656.3 L795.0,657.7 L795.5,656.9 L796.0,657.8 L796.5,656.4 L797.0,657.0 L797.5,655.7 L798.0,656.7 L798.5,657.0 L799.0,656.0 L799.5,656.9 L800.0,655.8 L800.5,656.5 L801.0,656.9 L801.5,656.6 L802.0,655.8 L802.5,655.9 L803.0,656.3 L803.5,657.0 L804.0,656.5 L804.5,656.0 L805.0,656.3 L805.5,656.2 L806.0,655.8 L806.5,656.8 L807.0,656.6 L807.5,656.2 L808.0,655.5 L808.5,657.6 L809.0,655.6 L809.5,655.8 L810.0,656.2 L810.5,657.3 L811.0,657.6 L811.5,657.2 L812.0,656.0 L812.5,657.4 L813.0,655.6 L813.5,655.8 L814.0,655.8 L814.5,656.8 L815.0,656.9 L815.5,657.0 L816.0,657.7 L816.5,657.2 L817.0,657.2 L817.5,655.9 L818.0,657.6 L818.5,657.6 L819.0,657.4 L819.5,655.7 L820.0,657.2 L820.5,656.7 L821.0,656.8 L821.5,656.2 L822.0,657.3 L822.5,657.4 L823.0,657.3 L823.5,656.2 L824.0,657.2 L824.5,655.8 L825.0,657.1 L825.5,655.7 L826.0,655.6 L826.5,655.8 L827.0,657.0 L827.5,657.8 L828.0,656.6 L828.5,657.0 L829.0,656.9 L829.5,657.5 L830.0,657.7 L830.5,657.4 L831.0,656.3 L831.5,655.8 L832.0,657.6 L832.5,656.2 L833.0,657.3 L833.5,657.5 L834.0,656.0 L834.5,656.0 L835.0,656.6 L835.5,657.5 L836.0,657.5 L836.5,657.8 L837.0,656.2 L837.5,657.0 L838.0,657.5 L838.5,656.5 L839.0,656.9 L839.5,656.1 L840.0,657.5 L840.5,656.6 L841.0,656.7 L841.5,657.1 L842.0,656.3 L842.5,657.4 L843.0,656.7 L843.5,656.6 L844.0,657.2 L844.5,657.1 L845.0,657.2 L845.5,657.6 L846.0,657.4 L846.5,656.6 L847.0,657.1 L847.5,657.5 L848.0,655.8 L848.5,657.1 L849.0,656.8 L849.5,656.6 L850.0,655.9 L850.5,656.3 L851.0,657.3 L851.5,657.6 L852.0,657.8 L852.5,657.3 L853.0,657.6 L853.5,657.5 L854.0,656.1 L854.5,657.2 L855.0,657.6 L855.5,657.3 L856.0,656.3 L856.5,657.2 L857.0,656.5 L857.5,656.6 L858.0,657.3 L858.5,657.2 L859.0,656.0 L859.5,657.1 L860.0,655.9 L860.5,656.2 L861.0,657.5 L861.5,657.7 L862.0,656.3 L862.5,657.4 L863.0,656.1 L863.5,656.8 L864.0,656.5 L864.5,655.9 L865.0,656.7 L865.5,656.9 L866.0,657.5 L866.5,656.0 L867.0,656.4 L867.5,655.8 L868.0,656.2 L868.5,656.3 L869.0,657.5 L869.5,657.7 L870.0,656.2 L870.5,656.8 L871.0,656.9 L871.5,656.8 L872.0,657.8 L872.5,657.8 L873.0,655.9 L873.5,656.6 L874.0,656.9 L874.5,657.1 L875.0,656.9 L875.5,657.5 L876.0,656.0 L876.5,656.7 L877.0,657.5 L877.5,656.2 L878.0,656.2 L878.5,657.1 L879.0,656.1 L879.5,656.9 L880.0,656.1 L880.5,656.2 L881.0,656.5 L881.5,657.4 L882.0,657.1 L882.5,657.1 L883.0,657.1 L883.5,656.6 L884.0,657.8 L884.5,657.0 L885.0,657.1 L885.5,656.0 L886.0,656.3 L886.5,657.0 L887.0,657.8 L887.5,657.3 L888.0,656.0 L888.5,657.5 L889.0,656.3 L889.5,657.1 L890.0,656.2 L890.5,656.0 L891.0,657.4 L891.5,656.8 L892.0,657.1 L892.5,657.3 L893.0,657.1 L893.5,656.7 L894.0,656.5 L894.5,656.9 L895.0,656.4 L895.5,656.4 L896.0,657.5 L896.5,656.6 L897.0,657.3 L897.5,657.2 L898.0,656.8 L898.5,657.5 L899.0,656.5 L899.5,655.9 L900.0,657.6 L900.5,657.4 L901.0,657.4 L901.5,657.7 L902.0,656.7 L902.5,656.7 L903.0,657.1 L903.5,657.6 L904.0,656.5 L904.5,657.4 L905.0,657.8 L905.5,656.4 L906.0,655.9 L906.5,656.2 L907.0,657.2 L907.5,656.3 L908.0,657.8 L908.5,656.1 L909.0,657.7 L909.5,656.6 L910.0,657.7 L910.5,656.6 L911.0,656.2 L911.5,657.3 L912.0,656.5 L912.5,657.8 L913.0,657.6 L913.5,656.4 L914.0,656.9 L914.5,657.0 L915.0,657.5 L915.5,656.5 L916.0,657.1 L916.5,657.0 L917.0,657.1 L917.5,657.0 L918.0,656.8 L918.5,656.7 L919.0,656.7 L919.5,657.9 L920.0,657.0 L920.5,656.2 L921.0,656.7 L921.5,657.5 L922.0,657.3 L922.5,656.1 L923.0,656.8 L923.5,656.9 L924.0,657.6 L924.5,656.5 L925.0,657.8 L925.5,657.6 L926.0,656.0 L926.5,657.0 L927.0,657.0 L927.5,657.2 L928.0,657.7 L928.5,656.4 L929.0,657.6 L929.5,656.0 L930.0,657.6 L930.5,656.5 L931.0,656.1 L931.5,657.6 L932.0,657.9 L932.5,657.3 L933.0,657.5 L933.5,656.8 L934.0,656.5 L934.5,657.3 L935.0,657.6 L935.5,656.5 L936.0,656.7 L936.5,656.5 L937.0,656.5 L937.5,657.7 L938.0,656.1 L938.5,656.1 L939.0,656.4 L939.5,657.5 L940.0,657.1 L940.5,657.5 L941.0,657.4 L941.5,657.7 L942.0,657.2 L942.5,656.1 L943.0,656.3 L943.5,656.8 L944.0,656.3 L944.5,656.6 L945.0,656.6 L945.5,657.9 L946.0,657.9 L946.5,657.3 L947.0,656.9 L947.5,656.8 L948.0,656.2 L948.5,656.9 L949.0,656.4 L949.5,657.1 L950.0,657.6 L950.5,656.8 L951.0,657.4 L951.5,657.6 L952.0,657.8 L952.5,656.9 L953.0,656.5 L953.5,657.7 L954.0,657.0 L954.5,656.6 L955.0,657.4 L955.5,657.7 L956.0,657.9 L956.5,656.8 L957.0,656.6 L957.5,656.6 L958.0,656.7 L958.5,656.5 L959.0,657.8 L959.5,657.3 L960.0,656.2 L960.5,656.3 L961.0,656.5 L961.5,657.9 L962.0,656.8 L962.5,657.6 L963.0,656.6 L963.5,656.5 L964.0,657.9 L964.5,656.3 L965.0,657.1 L965.5,657.1 L966.0,656.8 L966.5,657.5 L967.0,657.7 L967.5,656.6 L968.0,656.7 L968.5,657.0 L969.0,657.0 L969.5,657.3 L970.0,657.6 L970.5,656.8 L971.0,657.9 L971.5,657.0 L972.0,656.2 L972.5,656.9 L973.0,657.1 L973.5,656.5 L974.0,657.8 L974.5,657.2 L975.0,657.1 L975.5,656.7 L976.0,656.4 L976.5,656.7 L977.0,657.3 L977.5,657.4 L978.0,657.4 L978.5,656.3 L979.0,657.6 L979.5,657.4 L980.0,657.4 L980.5,657.1 L981.0,657.7 L981.5,657.9 L982.0,657.2 L982.5,657.0 L983.0,657.2 L983.5,657.6 L984.0,657.4 L984.5,657.6 L985.0,656.8 L985.5,657.3 L986.0,656.6 L986.5,657.2 L987.0,656.3 L987.5,657.2 L988.0,657.5 L988.5,657.8 L989.0,657.1 L989.5,657.8 L990.0,656.6 L990.5,656.3 L991.0,657.2 L991.5,656.8 L992.0,656.9 L992.5,657.3 L993.0,657.6 L993.5,657.7 L994.0,656.8 L994.5,657.3 L995.0,657.3 L995.5,657.4 L996.0,657.3 L996.5,657.1 L997.0,657.7 L997.5,656.3 L998.0,657.6 L998.5,656.6 L999.0,656.6 L999.5,657.4 L1000.0,657.1 L1000.5,656.9 L1001.0,656.4 L1001.5,656.4 L1002.0,656.8 L1002.5,656.5 L1003.0,657.5 L1003.5,656.6 L1004.0,656.9 L1004.5,657.0 L1005.0,657.5 L1005.5,657.7 L1006.0,657.4 L1006.5,656.7 L1007.0,656.5 L1007.5,657.3 L1008.0,656.9 L1008.5,657.5 L1009.0,656.7 L1009.5,657.5 L1010.0,656.9 L1010.5,656.8 L1011.0,656.6 L1011.5,657.6 L1012.0,657.2 L1012.5,657.2 L1013.0,657.7 L1013.5,656.4 L1014.0,657.2 L1014.5,656.9 L1015.0,656.8 L1015.5,657.7 L1016.0,656.8 L1016.5,657.0 L1017.0,657.1 L1017.5,656.6 L1018.0,656.9 L1018.5,656.4 L1019.0,657.2 L1019.5,657.4 L1020.0,658.0 L1020.5,657.9 L1021.0,656.9 L1021.5,657.9 L1022.0,656.5 L1022.5,656.6 L1023.0,657.2 L1023.5,657.5 L1024.0,657.3 L1024.5,656.4 L1025.0,657.0 L1025.5,657.2 L1026.0,657.0 L1026.5,657.6 L1027.0,657.6 L1027.5,656.5 L1028.0,657.1 L1028.5,657.5 L1029.0,657.7 L1029.5,657.5 L1030.0,658.0 L1030.5,657.6 L1031.0,657.0 L1031.5,657.7 L1032.0,657.4 L1032.5,657.4 L1033.0,657.4 L1033.5,657.6 L1034.0,657.6 L1034.5,657.2 L1035.0,657.7 L1035.5,657.1 L1036.0,657.6 L1036.5,657.9 L1037.0,657.3 L1037.5,656.7 L1038.0,657.9 L1038.5,656.8 L1039.0,656.8 L1039.5,656.5 L1040.0,657.1 L1040.5,657.1 L1041.0,657.7 L1041.5,656.7 L1042.0,657.0 L1042.5,657.7 L1043.0,656.5 L1043.5,657.1 L1044.0,656.7 L1044.5,657.7 L1045.0,656.9 L1045.5,656.7 L1046.0,656.6 L1046.5,656.8 L1047.0,657.6 L1047.5,656.6 L1048.0,656.5 L1048.5,656.8 L1049.0,656.5 L1049.5,657.6 L1050.0,657.6 L1050.5,657.3 L1051.0,657.0 L1051.5,656.5 L1052.0,657.6 L1052.5,656.9 L1053.0,657.3 L1053.5,658.0 L1054.0,656.9 L1054.5,657.5 L1055.0,657.2 L1055.5,657.3 L1056.0,657.1 L1056.5,657.6 L1057.0,657.3 L1057.5,656.5 L1058.0,657.7 L1058.5,656.9 L1059.0,657.0 L1059.5,657.2 L1060.0,657.4 L1060.5,657.6 L1061.0,656.7 L1061.5,657.1 L1062.0,657.4 L1062.5,657.2 L1063.0,656.9 L1063.5,657.7 L1064.0,658.0 L1064.5,657.5 L1065.0,657.3 L1065.5,656.7 L1066.0,657.2 L1066.5,657.7 L1067.0,657.0 L1068.0,657.2 L1069.0,657.4 L1070.0,657.9 L1071.0,657.0 L1072.0,656.5 L1073.0,657.1 L1074.0,656.6 L1075.0,656.8 L1076.0,657.0 L1077.0,657.0 L1078.0,656.7 L1079.0,656.6 L1080.0,657.3 L1081.0,656.4 L1082.0,656.8 L1082.5,656.6 L1083.0,656.4 L1083.5,656.9 L1084.0,656.5 L1084.5,657.0 L1085.0,656.9 L1085.5,656.5 L1086.0,657.5 L1086.5,657.0 L1087.0,657.2 L1087.5,656.4 L1088.0,657.0 L1088.5,656.9 L1089.0,656.9 L1089.5,656.0 L1090.0,656.9 L1090.5,656.0 L1091.0,655.1 L1091.5,655.7 L1092.0,653.7 L1092.5,652.6 L1093.0,648.7 L1093.5,644.3 L1094.0,639.7 L1094.5,634.0 L1095.0,629.3 L1095.5,626.5 L1096.0,626.0 L1096.5,628.1 L1097.0,629.0 L1097.5,628.5 L1098.0,627.8 L1098.5,626.0 L1099.0,626.3 L1099.5,628.6 L1100.0,633.6 L1100.5,639.3 L1101.0,645.2 L1101.5,648.5 L1102.0,652.0 L1102.5,653.8 L1103.0,655.6 L1103.5,655.2 L1104.0,656.1 L1104.5,656.7 L1105.0,656.3 L1105.5,657.2 L1106.0,656.3 L1106.5,656.8 L1107.0,656.6 L1107.5,656.6 L1108.0,656.3 L1108.5,657.4 L1109.0,657.2 L1109.5,657.5 L1110.0,657.0 L1110.5,656.7 L1111.0,657.4 L1111.5,657.8 L1112.0,657.2 L1112.5,656.9 L1113.0,657.2 L1114.0,657.7 L1115.0,657.6 L1116.0,656.8 L1117.0,657.2 L1118.0,656.6 L1119.0,657.4 L1120.0,658.0 L1121.0,657.7 L1122.0,657.4 L1123.0,657.7 L1124.0,657.8 L1125.0,657.4 L1126.0,657.0 L1127.0,657.4 L1128.0,656.9 L1129.0,657.0 L1130.0,657.9 L1131.0,657.4 L1132.0,657.4 L1133.0,657.9 L1134.0,657.6 L1135.0,657.1 L1136.0,657.3 L1137.0,657.4 L1138.0,657.8 L1139.0,657.7 L1140.0,658.0 L1141.0,657.4 L1142.0,657.2 L1143.0,657.2 L1144.0,657.5 L1145.0,657.2 L1146.0,658.1 L1147.0,657.7 L1148.0,657.5 L1149.0,657.0 L1150.0,657.7 L1151.0,657.3 L1152.0,656.9 L1153.0,658.1 L1154.0,657.4 L1155.0,657.5 L1156.0,657.7 L1157.0,657.2 L1158.0,658.1 L1159.0,658.0 L1160.0,658.0 L1161.0,657.8 L1162.0,658.1 L1163.0,658.1 L1164.0,657.1 L1165.0,657.4 L1166.0,657.7 L1167.0,658.1 L1168.0,656.8 L1169.0,657.7 L1170.0,657.8 L1171.0,658.0 L1172.0,658.1 L1173.0,657.8 L1174.0,658.0 L1175.0,657.0 L1176.0,657.1 L1177.0,658.0 L1178.0,657.9 L1179.0,657.7 L1180.0,657.0 L1181.0,657.8 L1182.0,656.9 L1183.0,657.3 L1184.0,658.1 L1185.0,658.0 L1186.0,657.8 L1187.0,657.2 L1188.0,657.6 L1189.0,657.5 L1190.0,658.0 L1191.0,657.1 L1192.0,657.6 L1193.0,657.9 L1194.0,657.5 L1195.0,657.2 L1196.0,657.6 L1197.0,657.7 L1198.0,657.1 L1199.0,657.5 L1200.0,657.1 L1201.0,657.8 L1202.0,658.0 L1203.0,657.6 L1204.0,657.4 L1205.0,657.9 L1206.0,657.5 L1207.0,657.0 L1208.0,657.4 L1209.0,657.4 L1210.0,657.2 L1211.0,657.4 L1212.0,657.5 L1213.0,657.6 L1214.0,657.1 L1215.0,657.9 L1216.0,658.2 L1217.0,657.4 L1218.0,658.2 L1219.0,657.1 L1220.0,657.1 L1221.0,657.9 L1222.0,657.7 L1223.0,657.6 L1224.0,657.3 L1225.0,658.2 L1226.0,657.2 L1227.0,657.9 L1228.0,657.3 L1229.0,658.0 L1230.0,658.2 L1231.0,657.4 L1232.0,657.5 L1233.0,658.2 L1234.0,657.8 L1235.0,658.1 L1236.0,657.8 L1237.0,657.2 L1238.0,657.4 L1239.0,657.6 L1240.0,657.4 L1241.0,657.7 L1242.0,658.0 L1243.0,657.0 L1244.0,657.8 L1245.0,657.1 L1246.0,657.9 L1247.0,657.0 L1248.0,657.1 L1249.0,657.9 L1250.0,657.5 L1251.0,657.3 L1252.0,657.1 L1253.0,657.3 L1254.0,658.3 L1255.0,657.2 L1256.0,657.5 L1257.0,657.4 L1258.0,658.3 L1259.0,657.3 L1260.0,657.1 L1261.0,657.2 L1262.0,658.3 L1263.0,657.8 L1264.0,657.5 L1265.0,658.1 L1266.0,658.2 L1267.0,657.3 L1268.0,657.2 L1269.0,657.6 L1270.0,658.1 L1271.0,657.2 L1272.0,657.2 L1273.0,657.5 L1274.0,657.1 L1275.0,658.1 L1276.0,657.8 L1277.0,658.0 L1278.0,657.7 L1279.0,657.7 L1280.0,657.3 L1281.0,657.2 L1282.0,657.8 L1283.0,657.2 L1284.0,658.0 L1285.0,657.5 L1286.0,658.3 L1287.0,657.5 L1288.0,658.2 L1289.0,657.2 L1290.0,657.9 L1291.0,657.1 L1292.0,658.2 L1293.0,657.9 L1294.0,657.4 L1295.0,657.7 L1296.0,657.8 L1297.0,658.2 L1298.0,658.0 L1299.0,657.6 L1300.0,657.4 L1301.0,658.2 L1302.0,657.4 L1303.0,658.0 L1304.0,657.6 L1305.0,658.0 L1306.0,657.6 L1307.0,657.6 L1308.0,657.9 L1309.0,657.5 L1310.0,657.9 L1311.0,658.1 L1312.0,657.8 L1313.0,658.1 L1314.0,657.8 L1315.0,658.1 L1316.0,658.3 L1317.0,657.7 L1318.0,658.3 L1319.0,657.5 L1320.0,657.2 L1321.0,657.5 L1322.0,657.2 L1323.0,657.6 L1324.0,658.1 L1325.0,657.3 L1326.0,658.3 L1327.0,658.0 L1328.0,657.5 L1329.0,658.2 L1330.0,657.4 L1331.0,657.2 L1332.0,657.8 L1333.0,657.9 L1334.0,657.7 L1335.0,658.1 L1336.0,658.3 L1337.0,657.4 L1338.0,657.5 L1339.0,657.4 L1340.0,658.2 L1341.0,658.0 L1342.0,657.9 L1343.0,658.1 L1344.0,657.8 L1345.0,657.6 L1346.0,658.0 L1347.0,658.1 L1348.0,657.4 L1349.0,658.2 L1350.0,657.2 L1351.0,657.4 L1352.0,658.3 L1353.0,658.1 L1354.0,657.5 L1355.0,658.4 L1356.0,657.4 L1357.0,658.1 L1358.0,657.8 L1359.0,657.9 L1360.0,658.2 L1361.0,658.4 L1362.0,657.9 L1363.0,658.2 L1364.0,657.9 L1365.0,658.0 L1366.0,657.9 L1367.0,657.9 L1368.0,658.2 L1369.0,657.6 L1370.0,658.0 L1371.0,658.0 L1372.0,657.7 L1373.0,657.6 L1374.0,656.4 L1375.0,655.8 L1376.0,654.6 L1377.0,655.3 L1378.0,655.0 L1379.0,655.3 L1380.0,657.1 L1381.0,657.7 L1382.0,657.9 L1383.0,657.9 L1384.0,657.8 L1385.0,657.8 L1386.0,658.3 L1387.0,657.9 L1388.0,657.7 L1389.0,658.2 L1390.0,658.3 L1391.0,657.2 L1392.0,657.3 L1393.0,657.4 L1394.0,657.4 L1395.0,657.6 L1396.0,657.5 L1397.0,658.1 L1398.0,657.9 L1399.0,658.1 L1400.0,657.5 L1401.0,658.2 L1402.0,657.5 L1403.0,658.3 L1404.0,657.6 L1405.0,657.8 L1406.0,657.9 L1407.0,657.6 L1408.0,657.8 L1409.0,658.3 L1410.0,657.5 L1411.0,657.6 L1412.0,657.8 L1413.0,657.8 L1414.0,657.4 L1415.0,657.7 L1416.0,657.8 L1417.0,657.6 L1418.0,657.6 L1419.0,657.5 L1420.0,658.0 L1421.0,657.7 L1422.0,657.3 L1423.0,657.6 L1424.0,657.3 L1425.0,657.6 L1426.0,658.0 L1427.0,657.5 L1428.0,657.9 L1429.0,658.1 L1430.0,658.2 L1431.0,657.7 L1432.0,657.3 L1433.0,657.8 L1434.0,657.2 L1435.0,657.3 L1436.0,657.5 L1437.0,657.6 L1438.0,657.6 L1439.0,657.1 L1440.0,657.6 L1441.0,657.9 L1442.0,658.0 L1443.0,657.9 L1444.0,657.1 L1445.0,657.1 L1446.0,656.9 L1447.0,657.7 L1448.0,657.1 L1449.0,657.1 L1450.0,657.6 L1451.0,657.4 L1452.0,657.4 L1453.0,656.3 L1453.5,656.9 L1454.0,656.5 L1454.5,656.7 L1455.0,656.0 L1455.5,656.1 L1456.0,656.7 L1456.5,656.1 L1457.0,655.8 L1457.5,655.8 L1458.0,654.9 L1458.5,654.6 L1459.0,654.6 L1459.5,654.1 L1460.0,653.6 L1460.5,652.9 L1461.0,651.2 L1461.5,649.8 L1462.0,648.0 L1462.5,644.4 L1463.0,639.3 L1463.5,632.3 L1464.0,625.1 L1464.5,615.5 L1465.0,606.8 L1465.5,599.8 L1466.0,597.4 L1466.5,598.2 L1467.0,603.1 L1467.5,609.0 L1468.0,614.6 L1468.5,618.0 L1469.0,617.5 L1469.5,614.6 L1470.0,609.1 L1470.5,603.0 L1471.0,597.9 L1471.5,597.3 L1472.0,600.5 L1472.5,607.1 L1473.0,616.1 L1473.5,624.8 L1474.0,633.0 L1474.5,638.9 L1475.0,643.9 L1475.5,647.9 L1476.0,649.9 L1476.5,652.3 L1477.0,652.8 L1477.5,653.1 L1478.0,654.2 L1478.5,655.1 L1479.0,654.7 L1479.5,655.3 L1480.0,655.7 L1480.5,656.3 L1481.0,655.5 L1481.5,656.4 L1482.0,655.9 L1482.5,656.7 L1483.0,657.1 L1483.5,656.8 L1484.0,656.3 L1484.5,656.6 L1485.0,656.9 L1485.5,657.4 L1486.5,656.8 L1487.5,657.5 L1488.5,657.4 L1489.5,657.8 L1490.5,656.9 L1491.5,657.6 L1492.5,657.9 L1493.5,657.3 L1494.5,657.7 L1495.5,658.1 L1496.5,657.4 L1497.5,657.4 L1498.5,658.2 L1499.5,657.7 L1500.5,658.3 L1501.5,657.7 L1502.5,657.5 L1503.5,658.3 L1504.5,657.5 L1505.5,657.5 L1506.5,657.9 L1507.5,658.1 L1508.5,658.0 L1509.5,658.4 L1510.5,657.6 L1511.5,658.1 L1512.5,657.7 L1513.5,658.4 L1514.5,657.5 L1515.5,657.7 L1516.5,657.8 L1517.5,657.9 L1518.5,657.8 L1519.5,657.9 L1520.5,658.1 L1521.5,658.4 L1522.5,658.1 L1523.5,657.9 L1524.5,658.1 L1525.5,658.4 L1526.5,658.4 L1527.5,658.5 L1528.5,658.0 L1529.5,657.8 L1530.5,657.9 L1531.5,657.8 L1532.5,658.5 L1533.5,658.3 L1534.5,658.6 L1535.5,658.3 L1536.5,658.4 L1537.5,658.0 L1538.5,658.1 L1539.5,657.8 L1540.5,658.1 L1541.5,658.0 L1542.5,658.4 L1543.5,657.6 L1544.5,658.1 L1545.5,658.0 L1546.5,657.7 L1547.5,657.6 L1548.5,658.1 L1549.5,658.4 L1550.5,658.1 L1551.5,658.1 L1552.5,658.0 L1553.5,658.5 L1554.5,658.2 L1555.5,658.1 L1556.5,657.6 L1557.5,657.6 L1558.5,658.0 L1559.5,657.9 L1560.5,657.9 L1561.5,657.9 L1562.5,657.6 L1563.5,658.0 L1564.5,658.1 L1565.5,657.9 L1566.5,658.1 L1567.5,658.0 L1568.5,658.0 L1569.5,657.7 L1570.5,658.0 L1571.5,657.8 L1572.5,658.6 L1573.5,657.9 L1574.5,658.1 L1575.5,657.9 L1576.5,658.0 L1577.5,657.7 L1578.5,658.2 L1579.5,658.0 L1580.5,658.1 L1581.5,657.7 L1582.5,657.8 L1583.5,658.3 L1584.5,658.2 L1585.5,658.3 L1586.5,658.1 L1587.5,658.2 L1588.5,657.8 L1589.5,658.1 L1590.5,658.1 L1591.5,658.0 L1592.5,658.0 L1593.5,657.7 L1594.5,658.5 L1595.5,658.3 L1596.5,658.4 L1597.5,658.5 L1598.5,658.3 L1599.5,658.3 L1600.5,658.4 L1601.5,658.2 L1602.5,657.9 L1603.5,657.8 L1604.5,658.5 L1605.5,658.5 L1606.5,658.5"/>
<path stroke-width="7.6" stroke-opacity="0.42" d="M156.5,124.4 H277"/>
<path stroke-width="3.3" d="M156.5,124.4 H277"/>
</g>
<g stroke="#00cc50">
<path stroke-width="7.6" stroke-opacity="0.42" d="M157.0,369.2 L157.5,370.1 L158.0,369.6 L158.5,370.3 L159.0,370.4 L159.5,368.7 L160.0,368.6 L160.5,371.0 L161.0,369.3 L161.5,369.2 L162.0,371.4 L162.5,369.9 L163.0,371.0 L163.5,369.9 L164.0,370.4 L164.5,369.0 L165.0,370.4 L165.5,371.1 L166.0,370.1 L166.5,370.7 L167.0,370.5 L167.5,368.8 L168.0,370.8 L168.5,370.3 L169.0,369.4 L169.5,368.7 L170.0,371.1 L170.5,369.9 L171.0,370.7 L171.5,371.1 L172.0,370.6 L172.5,371.2 L173.0,369.7 L173.5,370.9 L174.0,369.9 L174.5,371.3 L175.0,371.1 L175.5,368.9 L176.0,369.0 L176.5,369.2 L177.0,371.4 L177.5,369.8 L178.0,370.4 L178.5,369.5 L179.0,370.0 L179.5,369.7 L180.0,369.6 L180.5,370.3 L181.0,370.3 L181.5,371.2 L182.0,370.6 L182.5,371.3 L183.0,371.1 L183.5,371.5 L184.0,370.5 L184.5,369.1 L185.0,371.1 L185.5,371.4 L186.0,371.2 L186.5,370.2 L187.0,370.7 L187.5,369.2 L188.0,371.0 L188.5,370.3 L189.0,369.4 L189.5,368.8 L190.0,371.1 L190.5,371.5 L191.0,368.9 L191.5,370.9 L192.0,369.8 L192.5,369.0 L193.0,369.5 L193.5,370.8 L194.0,371.1 L194.5,368.7 L195.0,370.4 L195.5,368.7 L196.0,370.7 L196.5,369.6 L197.0,371.2 L197.5,371.4 L198.0,370.1 L198.5,371.5 L199.0,369.5 L199.5,368.8 L200.0,370.3 L200.5,368.7 L201.0,369.2 L201.5,369.8 L202.0,370.4 L202.5,369.1 L203.0,368.7 L203.5,371.1 L204.0,369.5 L204.5,371.4 L205.0,371.2 L205.5,369.7 L206.0,370.0 L206.5,370.1 L207.0,370.5 L207.5,370.3 L208.0,370.2 L208.5,370.4 L209.0,371.3 L209.5,370.1 L210.0,369.9 L210.5,370.7 L211.0,369.3 L211.5,369.5 L212.0,371.4 L212.5,370.1 L213.0,370.2 L213.5,368.7 L214.0,369.8 L214.5,370.3 L215.0,368.7 L215.5,370.4 L216.0,370.5 L216.5,368.8 L217.0,370.4 L217.5,370.0 L218.0,370.6 L218.5,369.7 L219.0,370.7 L219.5,370.8 L220.0,368.7 L220.5,368.8 L221.0,370.6 L221.5,371.4 L222.0,369.4 L222.5,370.0 L223.0,370.4 L223.5,369.6 L224.0,369.7 L224.5,369.6 L225.0,369.7 L225.5,370.4 L226.0,369.5 L226.5,369.7 L227.0,370.9 L227.5,368.7 L228.0,370.3 L228.5,370.8 L229.0,369.6 L229.5,369.3 L230.0,371.0 L230.5,369.3 L231.0,369.2 L231.5,369.9 L232.0,370.7 L232.5,369.0 L233.0,369.6 L233.5,369.6 L234.0,371.1 L234.5,369.9 L235.0,371.1 L235.5,369.2 L236.0,369.6 L236.5,370.5 L237.0,371.2 L237.5,370.0 L238.0,369.3 L238.5,369.0 L239.0,370.2 L239.5,369.2 L240.0,371.0 L240.5,371.1 L241.0,369.2 L241.5,369.5 L242.0,371.0 L242.5,370.5 L243.0,371.0 L243.5,369.7 L244.0,369.1 L244.5,369.5 L245.0,371.0 L245.5,369.5 L246.0,369.7 L246.5,369.9 L247.0,369.9 L247.5,369.9 L248.0,371.3 L248.5,369.1 L249.0,368.7 L249.5,371.4 L250.0,371.2 L250.5,371.5 L251.0,369.9 L251.5,371.4 L252.0,371.3 L252.5,369.3 L253.0,370.8 L253.5,371.1 L254.0,370.6 L254.5,370.2 L255.0,369.5 L255.5,369.7 L256.0,369.3 L256.5,368.9 L257.0,370.4 L257.5,369.5 L258.0,371.0 L258.5,368.8 L259.0,371.3 L259.5,370.7 L260.0,371.3 L260.5,371.3 L261.0,371.3 L261.5,370.3 L262.0,368.7 L262.5,370.8 L263.0,369.2 L263.5,369.6 L264.0,370.6 L264.5,370.2 L265.0,369.9 L265.5,371.4 L266.0,370.4 L266.5,369.7 L267.0,369.4 L267.5,371.2 L268.0,370.1 L268.5,370.9 L269.0,369.7 L269.5,369.2 L270.0,370.2 L270.5,371.0 L271.0,369.1 L271.5,370.9 L272.0,371.2 L272.5,370.8 L273.0,370.8 L273.5,368.3 L274.0,369.8 L274.5,370.2 L275.0,367.5 L275.5,367.7 L276.0,367.2 L276.5,367.4 L277.0,366.8 L277.5,366.6 L278.0,367.5 L278.5,365.4 L279.0,365.9 L279.5,366.5 L280.0,367.0 L280.5,367.3 L281.0,370.3 L281.5,370.3 L282.0,368.4 L282.5,369.8 L283.0,369.4 L283.5,369.5 L284.0,369.6 L284.5,370.5 L285.0,370.3 L285.5,369.7 L286.0,369.2 L286.5,369.6 L287.0,369.1 L287.5,370.3 L288.0,370.8 L288.5,369.8 L289.0,369.0 L289.5,369.2 L290.0,369.8 L290.5,370.5 L291.0,371.0 L291.5,369.8 L292.0,371.0 L292.5,370.5 L293.0,370.0 L293.5,369.8 L294.0,370.2 L294.5,370.7 L295.0,369.9 L295.5,370.7 L296.0,370.1 L296.5,369.4 L297.0,370.3 L297.5,370.7 L298.0,369.0 L298.5,370.0 L299.0,370.0 L299.5,371.2 L300.0,371.4 L300.5,369.8 L301.0,371.3 L301.5,371.0 L302.0,369.5 L302.5,370.1 L303.0,369.1 L303.5,371.1 L304.0,370.6 L304.5,371.3 L305.0,371.0 L305.5,370.6 L306.0,370.8 L306.5,370.3 L307.0,369.0 L307.5,370.4 L308.0,368.7 L308.5,369.0 L309.0,370.7 L309.5,368.5 L310.0,368.5 L310.5,368.3 L311.0,370.2 L311.5,367.8 L312.0,367.0 L312.5,368.9 L313.0,366.5 L313.5,368.3 L314.0,367.7 L314.5,368.3 L315.0,368.8 L315.5,368.1 L316.0,369.2 L316.5,367.4 L317.0,369.9 L317.5,369.5 L318.0,370.3 L318.5,368.7 L319.0,370.7 L319.5,371.3 L320.0,368.9 L320.5,369.7 L321.0,370.4 L321.5,371.1 L322.0,369.5 L322.5,369.3 L323.0,369.5 L323.5,370.5 L324.0,370.9 L324.5,369.9 L325.0,369.9 L325.5,369.9 L326.0,369.8 L326.5,370.0 L327.0,369.1 L327.5,370.2 L328.0,371.6 L328.5,370.0 L329.0,370.9 L329.5,369.3 L330.0,370.8 L330.5,371.0 L331.0,370.7 L331.5,370.3 L332.0,370.2 L332.5,370.7 L333.0,371.4 L333.5,369.3 L334.0,369.1 L334.5,370.9 L335.0,371.4 L335.5,370.3 L336.0,370.1 L336.5,370.9 L337.0,369.3 L337.5,369.6 L338.0,369.4 L338.5,370.4 L339.0,369.7 L339.5,369.4 L340.0,370.7 L340.5,371.4 L341.0,369.4 L341.5,370.5 L342.0,369.6 L342.5,370.8 L343.0,369.9 L343.5,368.9 L344.0,368.6 L344.5,367.9 L345.0,369.0 L345.5,368.5 L346.0,367.7 L346.5,367.9 L347.0,367.6 L347.5,368.6 L348.0,366.6 L348.5,368.8 L349.0,367.2 L349.5,367.3 L350.0,366.9 L350.5,367.8 L351.0,367.7 L351.5,367.0 L352.0,366.9 L352.5,367.7 L353.0,368.2 L353.5,367.1 L354.0,368.3 L354.5,369.2 L355.0,368.0 L355.5,367.6 L356.0,367.9 L356.5,369.4 L357.0,369.5 L357.5,370.5 L358.0,370.4 L358.5,368.9 L359.0,368.8 L359.5,369.1 L360.0,369.0 L360.5,370.6 L361.0,371.1 L361.5,371.3 L362.0,369.5 L362.5,371.2 L363.0,369.7 L363.5,370.0 L364.0,370.9 L364.5,369.1 L365.0,369.2 L365.5,371.2 L366.0,369.7 L366.5,369.9 L367.0,370.6 L367.5,370.8 L368.0,368.9 L368.5,369.9 L369.0,370.2 L369.5,370.3 L370.0,369.5 L370.5,370.6 L371.0,371.6 L371.5,370.0 L372.0,370.4 L372.5,369.2 L373.0,369.6 L373.5,370.7 L374.0,369.1 L374.5,371.1 L375.0,371.0 L375.5,368.5 L376.0,370.5 L376.5,368.5 L377.0,369.3 L377.5,368.8 L378.0,367.2 L378.5,368.0 L379.0,367.8 L379.5,368.4 L380.0,367.1 L380.5,368.8 L381.0,369.8 L381.5,369.4 L382.0,369.4 L382.5,368.5 L383.0,369.9 L383.5,369.6 L384.0,370.8 L384.5,370.8 L385.0,370.5 L385.5,369.5 L386.0,370.8 L386.5,370.8 L387.0,369.5 L387.5,371.5 L388.0,370.8 L388.5,369.4 L389.0,371.6 L389.5,369.4 L390.0,370.0 L390.5,371.0 L391.0,370.7 L391.5,370.6 L392.0,370.9 L392.5,370.3 L393.0,369.9 L393.5,369.5 L394.0,369.2 L394.5,371.1 L395.0,371.2 L395.5,370.6 L396.0,371.1 L396.5,370.1 L397.0,369.8 L397.5,370.1 L398.0,371.5 L398.5,369.2 L399.0,370.5 L399.5,369.8 L400.0,371.2 L400.5,370.1 L401.0,370.0 L401.5,370.2 L402.0,370.6 L402.5,371.2 L403.0,370.1 L403.5,371.5 L404.0,369.4 L404.5,369.9 L405.0,369.4 L405.5,369.4 L406.0,371.3 L406.5,371.1 L407.0,369.6 L407.5,369.6 L408.0,370.3 L408.5,371.2 L409.0,371.4 L409.5,371.2 L410.0,370.8 L410.5,369.5 L411.0,370.2 L411.5,369.7 L412.0,370.6 L412.5,370.7 L413.0,369.7 L413.5,369.8 L414.0,371.3 L414.5,369.2 L415.0,371.4 L415.5,371.6 L416.0,371.8 L416.5,370.2 L417.0,370.7 L417.5,370.8 L418.0,370.9 L418.5,371.9 L419.0,371.1 L419.5,370.0 L420.0,371.5 L420.5,370.5 L421.0,370.8 L421.5,371.2 L422.0,369.2 L422.5,371.3 L423.0,371.0 L423.5,370.5 L424.0,370.6 L424.5,370.4 L425.0,369.7 L425.5,370.6 L426.0,369.3 L426.5,370.5 L427.0,371.0 L427.5,370.4 L428.0,370.7 L428.5,371.8 L429.0,371.6 L429.5,369.5 L430.0,371.4 L430.5,370.9 L431.0,369.3 L431.5,370.2 L432.0,369.8 L432.5,369.4 L433.0,370.7 L433.5,371.7 L434.0,370.1 L434.5,371.6 L435.0,371.1 L435.5,369.5 L436.0,371.5 L436.5,370.8 L437.0,371.7 L437.5,371.2 L438.0,371.2 L438.5,370.1 L439.0,371.4 L439.5,371.7 L440.0,371.6 L440.5,370.4 L441.0,371.3 L441.5,370.5 L442.0,369.5 L442.5,369.3 L443.0,369.4 L443.5,369.7 L444.0,369.6 L444.5,370.5 L445.0,371.1 L445.5,370.6 L446.0,370.3 L446.5,370.9 L447.0,370.0 L447.5,370.4 L448.0,371.2 L448.5,370.2 L449.0,369.6 L449.5,371.6 L450.0,371.1 L450.5,370.1 L451.0,370.1 L451.5,370.5 L452.0,370.7 L452.5,369.6 L453.0,369.0 L453.5,369.5 L454.0,371.1 L454.5,369.3 L455.0,370.1 L455.5,369.3 L456.0,369.3 L456.5,369.0 L457.0,369.5 L457.5,368.7 L458.0,368.1 L458.5,367.9 L459.0,367.7 L459.5,368.0 L460.0,366.2 L460.5,365.4 L461.0,365.7 L461.5,364.7 L462.0,364.7 L462.5,362.1 L463.0,362.6 L463.5,362.4 L464.0,361.6 L464.5,364.7 L465.0,363.3 L465.5,363.9 L466.0,365.8 L466.5,365.8 L467.0,367.8 L467.5,367.7 L468.0,367.6 L468.5,367.8 L469.0,370.0 L469.5,369.0 L470.0,370.6 L470.5,369.9 L471.0,371.3 L471.5,369.6 L472.0,369.6 L472.5,369.7 L473.0,371.2 L473.5,370.7 L474.0,370.0 L474.5,369.3 L475.0,371.0 L475.5,371.8 L476.0,370.8 L476.5,369.2 L477.0,369.2 L477.5,369.4 L478.0,369.7 L478.5,369.3 L479.0,369.4 L479.5,371.0 L480.0,371.7 L480.5,369.8 L481.0,371.9 L481.5,370.6 L482.0,371.5 L482.5,371.8 L483.0,371.9 L483.5,369.4 L484.0,370.1 L484.5,371.0 L485.0,371.9 L485.5,369.5 L486.0,370.1 L486.5,371.6 L487.0,369.6 L487.5,370.4 L488.0,370.2 L488.5,371.2 L489.0,371.9 L489.5,369.8 L490.0,371.4 L490.5,371.4 L491.0,371.6 L491.5,370.9 L492.0,371.9 L492.5,370.4 L493.0,370.5 L493.5,370.0 L494.0,371.5 L494.5,370.7 L495.0,370.1 L495.5,369.8 L496.0,371.4 L496.5,371.0 L497.0,371.3 L497.5,370.4 L498.0,370.7 L498.5,369.8 L499.0,371.3 L499.5,369.5 L500.0,370.7 L500.5,371.5 L501.0,371.3 L501.5,369.7 L502.0,370.0 L502.5,371.7 L503.0,371.2 L503.5,371.8 L504.0,371.8 L504.5,370.6 L505.0,371.9 L505.5,371.4 L506.0,370.3 L506.5,370.4 L507.0,369.6 L507.5,370.5 L508.0,372.0 L508.5,369.7 L509.0,371.0 L509.5,369.7 L510.0,369.6 L510.5,371.2 L511.0,370.1 L511.5,369.5 L512.0,369.8 L512.5,371.2 L513.0,371.0 L513.5,369.5 L514.0,370.0 L514.5,372.1 L515.0,370.0 L515.5,371.0 L516.0,370.6 L516.5,371.6 L517.0,371.1 L517.5,371.6 L518.0,370.9 L518.5,369.9 L519.0,369.9 L519.5,369.6 L520.0,371.7 L520.5,369.7 L521.0,369.5 L521.5,372.1 L522.0,370.0 L522.5,371.9 L523.0,369.7 L523.5,370.7 L524.0,370.0 L524.5,371.7 L525.0,371.1 L525.5,371.2 L526.0,371.5 L526.5,371.8 L527.0,370.4 L527.5,371.1 L528.0,370.7 L528.5,369.7 L529.0,371.7 L529.5,371.1 L530.0,371.7 L530.5,370.0 L531.0,370.9 L531.5,370.7 L532.0,371.4 L532.5,369.7 L533.0,370.4 L533.5,370.8 L534.0,369.6 L534.5,371.0 L535.0,371.5 L535.5,370.6 L536.0,371.2 L536.5,371.1 L537.0,370.0 L537.5,370.4 L538.0,372.2 L538.5,370.4 L539.0,370.6 L539.5,369.7 L540.0,370.0 L540.5,369.9 L541.0,372.0 L541.5,371.4 L542.0,371.8 L542.5,372.1 L543.0,371.1 L543.5,372.0 L544.0,370.9 L544.5,370.6 L545.0,372.0 L545.5,371.9 L546.0,372.0 L546.5,370.8 L547.0,371.6 L547.5,370.6 L548.0,372.2 L548.5,372.0 L549.0,370.3 L549.5,372.0 L550.0,370.0 L550.5,369.7 L551.0,371.4 L551.5,370.3 L552.0,370.9 L552.5,371.2 L553.0,369.6 L553.5,371.5 L554.0,370.2 L554.5,370.6 L555.0,370.4 L555.5,371.5 L556.0,371.5 L556.5,370.2 L557.0,369.7 L557.5,370.3 L558.0,370.6 L558.5,369.7 L559.0,369.9 L559.5,371.5 L560.0,371.4 L560.5,372.1 L561.0,372.1 L561.5,371.9 L562.0,370.5 L562.5,369.9 L563.0,370.3 L563.5,370.7 L564.0,370.9 L564.5,370.9 L565.0,370.5 L565.5,371.8 L566.0,370.2 L566.5,370.7 L567.0,371.9 L567.5,371.7 L568.0,370.3 L568.5,370.1 L569.0,371.7 L569.5,369.5 L570.0,369.8 L570.5,370.9 L571.0,370.9 L571.5,369.9 L572.0,369.6 L572.5,370.0 L573.0,371.6 L573.5,370.7 L574.0,372.1 L574.5,371.6 L575.0,372.1 L575.5,369.6 L576.0,370.0 L576.5,369.5 L577.0,370.7 L577.5,370.4 L578.0,369.6 L578.5,371.0 L579.0,369.7 L579.5,370.3 L580.0,370.2 L580.5,371.7 L581.0,370.6 L581.5,370.2 L582.0,369.6 L582.5,370.6 L583.0,371.2 L583.5,371.3 L584.0,372.0 L584.5,371.7 L585.0,370.2 L585.5,369.9 L586.0,371.5 L586.5,371.6 L587.0,370.9 L587.5,371.7 L588.0,371.0 L588.5,370.2 L589.0,369.9 L589.5,369.5 L590.0,371.2 L590.5,371.9 L591.0,371.9 L591.5,370.7 L592.0,371.3 L592.5,372.0 L593.0,371.7 L593.5,371.1 L594.0,370.6 L594.5,370.9 L595.0,369.9 L595.5,370.0 L596.0,371.3 L596.5,372.2 L597.0,371.0 L597.5,370.6 L598.0,370.4 L598.5,370.7 L599.0,371.6 L599.5,370.7 L600.0,372.1 L600.5,369.9 L601.0,370.3 L601.5,370.9 L602.0,370.6 L602.5,371.8 L603.0,371.7 L603.5,372.0 L604.0,371.1 L604.5,369.6 L605.0,371.0 L605.5,371.0 L606.0,370.8 L606.5,370.2 L607.0,371.4 L607.5,371.9 L608.0,369.7 L608.5,371.3 L609.0,370.5 L609.5,370.8 L610.0,371.9 L610.5,372.0 L611.0,371.2 L611.5,370.0 L612.0,371.9 L612.5,369.9 L613.0,370.4 L613.5,371.6 L614.0,370.1 L614.5,369.9 L615.0,371.6 L615.5,371.4 L616.0,369.4 L616.5,369.2 L617.0,368.4 L617.5,367.3 L618.0,367.0 L618.5,368.2 L619.0,365.2 L619.5,365.2 L620.0,365.0 L620.5,364.8 L621.0,366.4 L621.5,367.6 L622.0,368.5 L622.5,368.7 L623.0,369.8 L623.5,368.1 L624.0,369.3 L624.5,371.4 L625.0,369.2 L625.5,369.9 L626.0,370.6 L626.5,370.0 L627.0,370.8 L627.5,369.5 L628.0,370.0 L628.5,371.9 L629.0,369.8 L629.5,371.8 L630.0,369.9 L630.5,372.0 L631.0,371.2 L631.5,371.1 L632.0,369.8 L632.5,369.5 L633.0,371.4 L633.5,369.8 L634.0,369.9 L634.5,371.5 L635.0,371.7 L635.5,369.5 L636.0,371.9 L636.5,370.8 L637.0,370.3 L637.5,369.6 L638.0,370.4 L638.5,371.9 L639.0,370.0 L639.5,369.6 L640.0,369.7 L640.5,369.6 L641.0,370.2 L641.5,371.6 L642.0,369.4 L642.5,369.7 L643.0,371.7 L643.5,371.8 L644.0,371.7 L644.5,369.8 L645.0,370.0 L645.5,371.6 L646.0,370.3 L646.5,370.8 L647.0,369.8 L647.5,369.0 L648.0,369.8 L648.5,370.8 L649.0,370.8 L649.5,370.2 L650.0,369.8 L650.5,369.9 L651.0,369.6 L651.5,369.7 L652.0,370.4 L652.5,368.6 L653.0,369.4 L653.5,370.1 L654.0,369.6 L654.5,367.6 L655.0,369.3 L655.5,368.5 L656.0,366.1 L656.5,365.4 L657.0,363.5 L657.5,360.3 L658.0,357.7 L658.5,348.1 L659.0,336.9 L659.5,317.6 L660.0,295.2 L660.5,272.4 L661.0,247.9 L661.5,230.1 L662.0,222.4 L662.5,228.9 L663.0,247.8 L663.5,270.4 L664.0,296.5 L664.5,318.4 L665.0,335.1 L665.5,348.6 L666.0,356.0 L666.5,361.5 L667.0,364.0 L667.5,365.5 L668.0,366.6 L668.5,367.9 L669.0,369.3 L669.5,369.6 L670.0,369.7 L670.5,369.8 L671.0,368.6 L671.5,370.6 L672.0,368.9 L672.5,368.7 L673.0,369.7 L673.5,370.4 L674.0,369.5 L674.5,370.4 L675.0,369.5 L675.5,371.3 L676.0,370.1 L676.5,370.2 L677.0,370.4 L677.5,371.3 L678.0,371.6 L678.5,370.5 L679.0,370.3 L679.5,370.8 L680.0,369.4 L680.5,370.3 L681.0,371.4 L681.5,371.3 L682.0,369.4 L682.5,371.5 L683.0,370.3 L683.5,371.9 L684.0,370.3 L684.5,369.9 L685.0,370.8 L685.5,371.7 L686.0,370.5 L686.5,371.6 L687.0,371.2 L687.5,370.4 L688.0,370.2 L688.5,370.8 L689.0,370.5 L689.5,370.4 L690.0,371.1 L690.5,371.7 L691.0,371.0 L691.5,369.9 L692.0,370.1 L692.5,370.5 L693.0,371.1 L693.5,369.9 L694.0,369.7 L694.5,370.4 L695.0,370.3 L695.5,369.6 L696.0,370.9 L696.5,371.9 L697.0,370.9 L697.5,371.4 L698.0,371.7 L698.5,371.7 L699.0,371.9 L699.5,370.7 L700.0,371.3 L700.5,369.9 L701.0,371.8 L701.5,370.5 L702.0,370.8 L702.5,371.8 L703.0,370.3 L703.5,370.1 L704.0,371.7 L704.5,371.1 L705.0,369.8 L705.5,369.7 L706.0,370.5 L706.5,369.6 L707.0,371.7 L707.5,370.1 L708.0,370.3 L708.5,370.6 L709.0,370.9 L709.5,370.7 L710.0,371.2 L710.5,371.3 L711.0,370.7 L711.5,369.9 L712.0,372.1 L712.5,371.3 L713.0,369.8 L713.5,370.7 L714.0,371.4 L714.5,372.0 L715.0,369.6 L715.5,369.3 L716.0,370.3 L716.5,369.9 L717.0,370.7 L717.5,370.1 L718.0,368.3 L718.5,367.8 L719.0,367.5 L719.5,367.7 L720.0,365.5 L720.5,365.7 L721.0,365.0 L721.5,366.7 L722.0,365.6 L722.5,368.6 L723.0,368.2 L723.5,369.0 L724.0,368.4 L724.5,369.2 L725.0,370.1 L725.5,371.3 L726.0,370.7 L726.5,370.2 L727.0,372.0 L727.5,371.2 L728.0,370.9 L728.5,370.1 L729.0,370.4 L729.5,371.9 L730.0,370.0 L730.5,371.0 L731.0,371.2 L731.5,370.6 L732.0,371.6 L732.5,371.9 L733.0,371.8 L733.5,371.5 L734.0,370.2 L734.5,369.9 L735.0,370.8 L735.5,370.5 L736.0,370.2 L736.5,371.9 L737.0,370.3 L737.5,371.7 L738.0,372.0 L738.5,370.0 L739.0,372.0 L739.5,370.7 L740.0,370.3 L740.5,370.2 L741.0,369.8 L741.5,371.0 L742.0,370.7 L742.5,371.8 L743.0,371.8 L743.5,369.9 L744.0,370.7 L744.5,370.7 L745.0,370.2 L745.5,370.4 L746.0,370.4 L746.5,371.4 L747.0,370.6 L747.5,370.0 L748.0,370.3 L748.5,370.8 L749.0,371.1 L749.5,370.4 L750.0,371.5 L750.5,370.3 L751.0,371.4 L751.5,371.2 L752.0,370.2 L752.5,371.6 L753.0,370.7 L753.5,371.1 L754.0,371.2 L754.5,371.3 L755.0,370.8 L755.5,369.9 L756.0,371.7 L756.5,371.9 L757.0,371.0 L757.5,371.2 L758.0,370.4 L758.5,372.0 L759.0,371.4 L759.5,370.3 L760.0,371.8 L760.5,372.2 L761.0,370.6 L761.5,372.2 L762.0,371.0 L762.5,370.2 L763.0,371.5 L763.5,370.6 L764.0,371.6 L764.5,371.2 L765.0,370.1 L765.5,371.1 L766.0,371.8 L766.5,370.9 L767.0,371.1 L767.5,371.9 L768.0,370.9 L768.5,371.0 L769.0,371.2 L769.5,371.8 L770.0,370.3 L770.5,370.0 L771.0,371.6 L771.5,371.1 L772.0,370.5 L772.5,371.9 L773.0,371.9 L773.5,371.1 L774.0,372.2 L774.5,371.8 L775.0,371.6 L775.5,370.5 L776.0,369.8 L776.5,371.4 L777.0,371.6 L777.5,370.6 L778.0,371.0 L778.5,371.2 L779.0,370.4 L779.5,371.5 L780.0,371.2 L780.5,370.7 L781.0,370.1 L781.5,371.1 L782.0,370.6 L782.5,371.5 L783.0,370.2 L783.5,370.8 L784.0,370.3 L784.5,370.8 L785.0,371.2 L785.5,370.1 L786.0,369.9 L786.5,371.0 L787.0,370.3 L787.5,371.0 L788.0,370.2 L788.5,370.1 L789.0,371.1 L789.5,372.0 L790.0,371.9 L790.5,371.0 L791.0,370.8 L791.5,370.0 L792.0,370.5 L792.5,370.6 L793.0,372.0 L793.5,370.1 L794.0,372.0 L794.5,370.9 L795.0,370.8 L795.5,370.4 L796.0,372.1 L796.5,370.2 L797.0,371.1 L797.5,371.0 L798.0,370.2 L798.5,370.3 L799.0,372.0 L799.5,371.6 L800.0,371.4 L800.5,371.7 L801.0,369.8 L801.5,371.1 L802.0,371.1 L802.5,369.7 L803.0,370.1 L803.5,371.2 L804.0,369.4 L804.5,370.2 L805.0,368.5 L805.5,369.4 L806.0,368.2 L806.5,368.5 L807.0,367.8 L807.5,368.7 L808.0,368.2 L808.5,367.4 L809.0,367.6 L809.5,366.9 L810.0,367.8 L810.5,366.5 L811.0,367.3 L811.5,367.6 L812.0,367.3 L812.5,366.8 L813.0,367.4 L813.5,368.8 L814.0,368.1 L814.5,369.7 L815.0,369.3 L815.5,370.7 L816.0,370.7 L816.5,370.6 L817.0,369.9 L817.5,369.3 L818.0,370.7 L818.5,371.2 L819.0,371.7 L819.5,370.1 L820.0,370.1 L820.5,372.0 L821.0,371.5 L821.5,370.9 L822.0,371.5 L822.5,370.2 L823.0,371.1 L823.5,371.4 L824.0,371.2 L824.5,370.2 L825.0,370.2 L825.5,371.3 L826.0,371.9 L826.5,370.2 L827.0,369.9 L827.5,370.1 L828.0,371.7 L828.5,370.8 L829.0,370.9 L829.5,372.2 L830.0,371.3 L830.5,370.5 L831.0,371.5 L831.5,369.9 L832.0,370.5 L832.5,371.5 L833.0,370.3 L833.5,370.0 L834.0,371.1 L834.5,370.6 L835.0,372.1 L835.5,370.1 L836.0,371.7 L836.5,370.8 L837.0,371.7 L837.5,370.9 L838.0,371.4 L838.5,370.6 L839.0,370.4 L839.5,370.9 L840.0,371.7 L840.5,370.7 L841.0,370.4 L841.5,370.8 L842.0,370.1 L842.5,370.6 L843.0,371.2 L843.5,371.1 L844.0,371.2 L844.5,370.5 L845.0,369.8 L845.5,369.7 L846.0,370.3 L846.5,369.8 L847.0,370.5 L847.5,369.5 L848.0,370.4 L848.5,369.8 L849.0,369.7 L849.5,369.7 L850.0,369.1 L850.5,369.0 L851.0,368.9 L851.5,368.5 L852.0,370.5 L852.5,370.1 L853.0,369.4 L853.5,371.5 L854.0,370.9 L854.5,371.1 L855.0,370.8 L855.5,370.1 L856.0,372.1 L856.5,370.3 L857.0,370.7 L857.5,372.2 L858.0,370.2 L858.5,371.1 L859.0,371.0 L859.5,370.5 L860.0,372.0 L860.5,370.9 L861.0,370.0 L861.5,371.0 L862.0,370.0 L862.5,371.5 L863.0,371.9 L863.5,372.0 L864.0,370.1 L864.5,371.5 L865.0,370.6 L865.5,371.0 L866.0,370.6 L866.5,370.7 L867.0,370.3 L867.5,371.4 L868.0,370.2 L868.5,372.1 L869.0,370.1 L869.5,372.1 L870.0,370.4 L870.5,370.2 L871.0,371.6 L871.5,371.2 L872.0,371.7 L872.5,371.1 L873.0,371.4 L873.5,370.2 L874.0,371.5 L874.5,371.1 L875.0,372.1 L875.5,370.0 L876.0,370.1 L876.5,371.5 L877.0,372.0 L877.5,370.9 L878.0,371.6 L878.5,371.2 L879.0,370.9 L879.5,371.0 L880.0,371.3 L880.5,370.1 L881.0,370.7 L881.5,371.6 L882.0,370.6 L882.5,371.0 L883.0,370.6 L883.5,370.8 L884.0,371.4 L884.5,371.6 L885.0,372.1 L885.5,371.1 L886.0,370.5 L886.5,370.7 L887.0,370.1 L887.5,370.5 L888.0,371.3 L888.5,371.3 L889.0,370.5 L889.5,370.4 L890.0,370.2 L890.5,370.4 L891.0,371.1 L891.5,370.6 L892.0,371.9 L892.5,371.2 L893.0,370.8 L893.5,371.0 L894.0,370.1 L894.5,371.6 L895.0,371.7 L895.5,370.8 L896.0,371.6 L896.5,370.6 L897.0,370.5 L897.5,370.5 L898.0,370.4 L898.5,371.3 L899.0,371.4 L899.5,371.6 L900.0,370.2 L900.5,371.7 L901.0,371.1 L901.5,370.8 L902.0,371.1 L902.5,371.0 L903.0,370.5 L903.5,370.9 L904.0,371.4 L904.5,371.6 L905.0,372.0 L905.5,370.4 L906.0,371.9 L906.5,371.7 L907.0,371.6 L907.5,372.1 L908.0,370.3 L908.5,371.7 L909.0,371.9 L909.5,370.2 L910.0,371.3 L910.5,372.0 L911.0,370.6 L911.5,371.8 L912.0,371.8 L912.5,370.8 L913.0,370.1 L913.5,370.2 L914.0,371.5 L914.5,370.5 L915.0,370.2 L915.5,370.3 L916.0,371.3 L916.5,369.7 L917.0,369.0 L917.5,370.8 L918.0,369.2 L918.5,369.2 L919.0,370.3 L919.5,368.6 L920.0,367.9 L920.5,369.5 L921.0,367.9 L921.5,367.7 L922.0,369.2 L922.5,367.6 L923.0,369.0 L923.5,367.8 L924.0,367.8 L924.5,367.7 L925.0,368.6 L925.5,368.8 L926.0,368.6 L926.5,369.0 L927.0,368.8 L927.5,370.2 L928.0,370.6 L928.5,370.4 L929.0,370.7 L929.5,369.3 L930.0,369.8 L930.5,369.8 L931.0,369.9 L931.5,371.7 L932.0,371.6 L932.5,371.7 L933.0,371.0 L933.5,370.1 L934.0,370.8 L934.5,370.1 L935.0,371.9 L935.5,370.6 L936.0,370.6 L936.5,372.0 L937.0,370.5 L937.5,372.0 L938.0,370.7 L938.5,371.5 L939.0,370.3 L939.5,372.0 L940.0,370.9 L940.5,370.8 L941.0,371.5 L941.5,371.3 L942.0,370.6 L942.5,370.3 L943.0,371.3 L943.5,370.1 L944.0,371.9 L944.5,370.8 L945.0,370.4 L945.5,370.8 L946.0,370.3 L946.5,370.8 L947.0,371.2 L947.5,371.0 L948.0,370.8 L948.5,370.7 L949.0,371.1 L949.5,371.7 L950.0,371.0 L950.5,371.7 L951.0,371.1 L951.5,370.4 L952.0,370.5 L952.5,371.9 L953.0,371.1 L953.5,370.9 L954.0,371.2 L954.5,371.9 L955.0,370.9 L955.5,370.9 L956.0,370.9 L956.5,370.1 L957.0,371.3 L957.5,371.1 L958.0,371.2 L958.5,371.1 L959.0,371.1 L959.5,371.6 L960.0,370.5 L960.5,372.2 L961.0,370.4 L961.5,371.9 L962.0,370.5 L962.5,371.8 L963.0,370.7 L963.5,370.3 L964.0,371.3 L964.5,371.9 L965.0,371.9 L965.5,372.0 L966.0,372.2 L966.5,370.3 L967.0,370.9 L967.5,370.4 L968.0,371.7 L968.5,371.1 L969.0,371.7 L969.5,371.8 L970.0,372.2 L970.5,371.5 L971.0,371.9 L971.5,371.3 L972.0,370.3 L972.5,372.0 L973.0,370.3 L973.5,370.3 L974.0,371.9 L974.5,370.7 L975.0,371.5 L975.5,370.2 L976.0,370.6 L976.5,371.6 L977.0,370.2 L977.5,371.2 L978.0,372.1 L978.5,370.6 L979.0,371.6 L979.5,371.7 L980.0,371.4 L980.5,371.7 L981.0,371.6 L981.5,370.2 L982.0,370.6 L982.5,371.3 L983.0,372.1 L983.5,370.6 L984.0,371.4 L984.5,370.4 L985.0,371.9 L985.5,371.1 L986.0,371.2 L986.5,371.5 L987.0,370.5 L987.5,371.7 L988.0,371.8 L988.5,371.9 L989.0,370.8 L989.5,370.7 L990.0,370.5 L990.5,372.0 L991.0,371.1 L991.5,371.0 L992.0,371.2 L992.5,371.6 L993.0,370.8 L993.5,370.9 L994.0,371.7 L994.5,371.8 L995.0,370.8 L995.5,370.3 L996.0,372.1 L996.5,371.7 L997.0,371.4 L997.5,371.0 L998.0,372.1 L998.5,371.1 L999.0,370.6 L999.5,370.4 L1000.0,370.9 L1000.5,371.4 L1001.0,370.9 L1001.5,372.1 L1002.0,371.5 L1002.5,371.1 L1003.0,371.5 L1003.5,371.4 L1004.0,371.4 L1004.5,371.2 L1005.0,371.2 L1005.5,371.2 L1006.0,371.9 L1006.5,370.6 L1007.0,371.8 L1007.5,370.8 L1008.0,371.9 L1008.5,370.4 L1009.0,371.2 L1009.5,371.1 L1010.0,371.6 L1010.5,370.6 L1011.0,370.7 L1011.5,370.5 L1012.0,371.3 L1012.5,371.4 L1013.0,370.2 L1013.5,370.6 L1014.0,370.6 L1014.5,372.1 L1015.0,371.1 L1015.5,371.3 L1016.0,370.8 L1016.5,371.5 L1017.0,371.8 L1017.5,371.5 L1018.0,370.2 L1018.5,371.1 L1019.0,371.2 L1019.5,370.3 L1020.0,371.8 L1020.5,370.8 L1021.0,370.8 L1021.5,371.4 L1022.0,371.4 L1022.5,371.2 L1023.0,371.9 L1023.5,371.2 L1024.0,370.9 L1024.5,370.3 L1025.0,371.3 L1025.5,370.9 L1026.0,371.2 L1026.5,370.9 L1027.0,370.2 L1027.5,370.3 L1028.0,370.5 L1028.5,370.4 L1029.0,371.8 L1029.5,371.3 L1030.0,370.6 L1030.5,371.5 L1031.0,371.3 L1031.5,370.2 L1032.0,371.5 L1032.5,370.4 L1033.0,371.9 L1033.5,370.1 L1034.0,370.3 L1034.5,370.1 L1035.0,371.2 L1035.5,370.9 L1036.0,370.3 L1036.5,369.3 L1037.0,369.6 L1037.5,369.9 L1038.0,368.4 L1038.5,369.8 L1039.0,369.3 L1039.5,369.2 L1040.0,368.5 L1040.5,368.1 L1041.0,368.6 L1041.5,367.0 L1042.0,367.0 L1042.5,366.5 L1043.0,366.6 L1043.5,367.8 L1044.0,366.6 L1044.5,368.0 L1045.0,367.5 L1045.5,368.6 L1046.0,368.6 L1046.5,368.8 L1047.0,369.3 L1047.5,368.1 L1048.0,368.8 L1048.5,369.2 L1049.0,369.6 L1049.5,370.3 L1050.0,370.9 L1050.5,370.8 L1051.0,371.3 L1051.5,371.0 L1052.0,370.5 L1052.5,370.8 L1053.0,371.4 L1053.5,371.6 L1054.0,370.8 L1054.5,370.8 L1055.0,371.3 L1055.5,370.6 L1056.0,371.8 L1056.5,370.2 L1057.0,371.4 L1057.5,371.1 L1058.0,370.6 L1058.5,371.3 L1059.0,371.1 L1059.5,372.0 L1060.0,371.9 L1060.5,371.3 L1061.0,371.9 L1061.5,371.9 L1062.0,370.6 L1062.5,371.8 L1063.0,371.8 L1063.5,372.1 L1064.0,371.7 L1064.5,371.0 L1065.0,370.6 L1065.5,371.5 L1066.0,370.7 L1066.5,371.7 L1067.0,371.3 L1067.5,371.8 L1068.0,370.9 L1068.5,370.8 L1069.0,371.9 L1069.5,371.5 L1070.0,371.0 L1070.5,371.3 L1071.0,371.1 L1071.5,371.5 L1072.0,371.2 L1072.5,370.8 L1073.0,372.1 L1073.5,371.9 L1074.0,371.7 L1074.5,370.8 L1075.0,370.6 L1075.5,371.6 L1076.0,371.8 L1076.5,371.4 L1077.0,370.6 L1077.5,371.6 L1078.0,371.2 L1078.5,370.9 L1079.0,371.3 L1079.5,371.0 L1080.0,371.4 L1080.5,371.6 L1081.0,372.0 L1081.5,370.4 L1082.0,371.2 L1082.5,371.9 L1083.0,371.4 L1083.5,371.2 L1084.0,371.7 L1084.5,370.2 L1085.0,371.6 L1085.5,371.2 L1086.0,371.1 L1086.5,370.6 L1087.0,371.2 L1087.5,370.2 L1088.0,370.9 L1088.5,370.4 L1089.0,371.6 L1089.5,371.3 L1090.0,370.7 L1090.5,371.1 L1091.0,370.3 L1091.5,370.5 L1092.0,369.7 L1092.5,370.8 L1093.0,370.3 L1093.5,369.8 L1094.0,367.9 L1094.5,368.2 L1095.0,365.1 L1095.5,364.0 L1096.0,361.0 L1096.5,356.8 L1097.0,353.5 L1097.5,350.2 L1098.0,346.1 L1098.5,342.9 L1099.0,342.9 L1099.5,343.0 L1100.0,346.6 L1100.5,349.4 L1101.0,352.9 L1101.5,358.4 L1102.0,360.3 L1102.5,363.4 L1103.0,366.5 L1103.5,366.9 L1104.0,368.7 L1104.5,370.0 L1105.0,370.0 L1105.5,369.9 L1106.0,370.8 L1106.5,371.1 L1107.0,370.7 L1107.5,370.9 L1108.0,370.4 L1108.5,370.6 L1109.0,371.7 L1109.5,371.7 L1110.0,370.0 L1110.5,370.4 L1111.0,370.5 L1111.5,371.5 L1112.0,370.5 L1112.5,370.5 L1113.0,371.5 L1113.5,370.5 L1114.0,371.9 L1114.5,371.0 L1115.0,371.8 L1115.5,371.7 L1116.0,370.6 L1116.5,371.7 L1117.0,371.0 L1117.5,370.7 L1118.0,370.4 L1118.5,371.6 L1119.0,371.3 L1119.5,370.9 L1120.0,371.8 L1120.5,370.7 L1121.0,371.1 L1121.5,370.5 L1122.0,371.0 L1122.5,371.9 L1123.0,371.2 L1123.5,370.6 L1124.0,370.8 L1124.5,371.5 L1125.0,370.9 L1125.5,371.9 L1126.0,370.5 L1126.5,371.9 L1127.0,371.5 L1127.5,371.8 L1128.0,371.0 L1128.5,370.5 L1129.0,370.7 L1129.5,371.5 L1130.0,370.5 L1130.5,370.6 L1131.0,371.8 L1131.5,372.0 L1132.0,371.9 L1132.5,371.9 L1133.0,371.4 L1133.5,372.0 L1134.0,371.7 L1134.5,371.4 L1135.0,371.2 L1135.5,370.5 L1136.0,370.6 L1136.5,370.9 L1137.0,371.3 L1137.5,370.7 L1138.0,372.1 L1138.5,371.5 L1139.0,371.7 L1139.5,372.0 L1140.0,370.9 L1140.5,372.0 L1141.0,372.1 L1141.5,370.9 L1142.0,370.7 L1142.5,371.9 L1143.0,372.0 L1143.5,371.9 L1144.0,371.2 L1144.5,371.5 L1145.0,370.7 L1145.5,370.9 L1146.0,371.2 L1146.5,371.8 L1147.0,370.6 L1147.5,372.1 L1148.0,370.6 L1148.5,372.2 L1149.0,370.9 L1149.5,371.9 L1150.0,371.9 L1150.5,372.1 L1151.0,371.3 L1151.5,371.7 L1152.0,371.0 L1152.5,371.9 L1153.0,370.7 L1153.5,372.0 L1154.0,371.5 L1154.5,370.6 L1155.0,372.1 L1155.5,371.1 L1156.0,370.6 L1156.5,371.0 L1157.0,370.6 L1157.5,371.0 L1158.0,371.7 L1158.5,372.2 L1159.0,371.6 L1159.5,372.0 L1160.0,371.9 L1160.5,371.7 L1161.0,371.2 L1161.5,371.0 L1162.0,370.8 L1162.5,371.5 L1163.0,370.9 L1163.5,371.8 L1164.0,371.1 L1164.5,371.5 L1165.0,371.5 L1165.5,371.6 L1166.0,370.8 L1166.5,371.0 L1167.0,371.7 L1167.5,370.9 L1168.0,371.7 L1168.5,372.2 L1169.0,371.2 L1169.5,372.2 L1170.0,371.6 L1170.5,372.1 L1171.0,371.4 L1171.5,371.8 L1172.0,371.7 L1172.5,370.9 L1173.0,371.4 L1173.5,371.5 L1174.0,371.3 L1174.5,371.7 L1175.0,372.1 L1175.5,371.9 L1176.0,371.9 L1176.5,370.8 L1177.0,371.7 L1177.5,371.6 L1178.0,372.1 L1178.5,370.6 L1179.0,370.9 L1179.5,372.2 L1180.0,371.2 L1180.5,371.8 L1181.0,371.6 L1181.5,371.3 L1182.0,371.3 L1182.5,371.5 L1183.0,372.2 L1183.5,371.5 L1184.0,371.9 L1184.5,371.1 L1185.0,371.8 L1185.5,371.6 L1186.0,371.8 L1186.5,372.0 L1187.0,370.7 L1187.5,372.2 L1188.0,371.6 L1188.5,371.0 L1189.0,371.4 L1189.5,370.8 L1190.0,371.0 L1190.5,372.0 L1191.0,371.8 L1191.5,372.0 L1192.0,370.9 L1192.5,370.8 L1193.0,371.2 L1193.5,371.4 L1194.0,371.8 L1194.5,371.1 L1195.0,371.8 L1195.5,371.6 L1196.0,371.1 L1196.5,371.9 L1197.0,370.8 L1197.5,371.6 L1198.0,370.9 L1198.5,370.7 L1199.0,371.4 L1199.5,371.5 L1200.0,371.6 L1200.5,371.3 L1201.0,372.1 L1201.5,371.9 L1202.0,370.9 L1202.5,370.7 L1203.0,372.2 L1203.5,371.3 L1204.0,370.8 L1204.5,370.9 L1205.0,371.8 L1205.5,370.9 L1206.0,371.3 L1206.5,371.7 L1207.0,371.2 L1207.5,371.7 L1208.0,372.2 L1208.5,371.9 L1209.0,371.7 L1209.5,371.7 L1210.0,371.2 L1210.5,371.7 L1211.0,371.7 L1211.5,371.6 L1212.0,371.5 L1212.5,371.9 L1213.0,371.0 L1213.5,371.8 L1214.0,372.2 L1214.5,370.7 L1215.0,371.1 L1215.5,372.2 L1216.0,370.8 L1216.5,372.0 L1217.0,371.6 L1217.5,370.8 L1218.0,371.7 L1218.5,370.7 L1219.0,372.0 L1219.5,371.2 L1220.0,372.1 L1220.5,372.1 L1221.0,370.9 L1221.5,371.3 L1222.0,370.9 L1222.5,371.9 L1223.0,370.9 L1223.5,370.8 L1224.0,370.9 L1224.5,372.0 L1225.0,371.1 L1225.5,371.2 L1226.0,371.4 L1226.5,371.6 L1227.0,371.4 L1227.5,372.2 L1228.0,371.3 L1228.5,371.5 L1229.0,372.1 L1229.5,371.1 L1230.0,371.0 L1230.5,372.0 L1231.0,371.2 L1231.5,372.1 L1232.0,372.0 L1232.5,371.3 L1233.0,371.2 L1233.5,370.9 L1234.0,372.1 L1234.5,371.4 L1235.0,371.3 L1235.5,371.0 L1236.0,371.1 L1236.5,372.1 L1237.0,370.9 L1237.5,371.6 L1238.0,371.7 L1238.5,371.5 L1239.0,371.5 L1239.5,371.4 L1240.0,371.0 L1240.5,372.0 L1241.0,372.1 L1241.5,371.6 L1242.0,371.1 L1242.5,372.1 L1243.0,371.1 L1243.5,371.0 L1244.0,371.7 L1244.5,372.0 L1245.0,371.6 L1245.5,370.9 L1246.0,372.2 L1246.5,371.0 L1247.0,371.3 L1247.5,372.3 L1248.0,372.0 L1248.5,371.9 L1249.0,370.9 L1249.5,372.1 L1250.0,371.4 L1251.0,372.0 L1252.0,370.9 L1253.0,372.1 L1254.0,371.2 L1255.0,371.5 L1256.0,372.1 L1257.0,371.9 L1258.0,371.8 L1259.0,371.5 L1260.0,371.3 L1261.0,372.2 L1262.0,371.0 L1263.0,371.6 L1264.0,371.3 L1265.0,371.3 L1266.0,371.2 L1267.0,371.3 L1268.0,371.1 L1269.0,371.0 L1270.0,371.6 L1271.0,371.6 L1272.0,371.3 L1273.0,372.1 L1274.0,371.4 L1275.0,371.7 L1276.0,372.3 L1277.0,371.1 L1278.0,371.5 L1279.0,371.3 L1280.0,372.0 L1281.0,370.9 L1282.0,371.0 L1283.0,371.1 L1284.0,372.1 L1285.0,371.3 L1286.0,371.9 L1287.0,371.2 L1288.0,371.6 L1289.0,371.8 L1290.0,372.2 L1291.0,371.2 L1292.0,371.1 L1293.0,372.1 L1294.0,371.5 L1295.0,372.3 L1296.0,371.2 L1297.0,371.6 L1298.0,371.4 L1299.0,371.2 L1300.0,371.8 L1301.0,371.6 L1302.0,371.9 L1303.0,372.1 L1304.0,371.4 L1305.0,372.0 L1306.0,371.0 L1307.0,371.5 L1308.0,371.1 L1309.0,371.3 L1310.0,371.7 L1311.0,372.1 L1312.0,371.1 L1313.0,371.0 L1314.0,372.2 L1315.0,371.8 L1316.0,371.3 L1317.0,371.5 L1318.0,371.0 L1319.0,371.5 L1320.0,372.1 L1321.0,371.8 L1322.0,371.6 L1323.0,371.0 L1324.0,371.7 L1325.0,371.3 L1326.0,371.4 L1327.0,371.4 L1328.0,371.5 L1329.0,371.4 L1330.0,371.7 L1331.0,371.1 L1332.0,371.4 L1333.0,372.3 L1334.0,371.9 L1335.0,371.1 L1336.0,372.2 L1337.0,371.9 L1338.0,371.7 L1339.0,371.9 L1340.0,372.2 L1341.0,371.3 L1342.0,371.8 L1343.0,372.2 L1344.0,371.9 L1345.0,371.9 L1346.0,372.1 L1347.0,372.2 L1348.0,371.4 L1349.0,371.8 L1350.0,372.0 L1351.0,372.2 L1352.0,371.6 L1353.0,371.8 L1354.0,371.4 L1355.0,371.1 L1356.0,372.1 L1357.0,371.2 L1358.0,371.5 L1359.0,371.8 L1360.0,371.5 L1361.0,371.0 L1362.0,371.5 L1363.0,371.5 L1364.0,371.5 L1365.0,371.5 L1366.0,372.1 L1367.0,372.1 L1368.0,371.4 L1369.0,372.3 L1370.0,371.2 L1371.0,372.3 L1372.0,372.1 L1373.0,372.1 L1374.0,371.7 L1375.0,371.9 L1376.0,371.5 L1377.0,371.2 L1378.0,372.4 L1379.0,372.2 L1380.0,371.3 L1381.0,372.3 L1382.0,372.4 L1383.0,372.0 L1384.0,372.3 L1385.0,371.1 L1386.0,371.1 L1387.0,371.9 L1388.0,371.4 L1389.0,371.6 L1390.0,371.9 L1391.0,371.2 L1392.0,371.2 L1393.0,371.9 L1394.0,372.2 L1395.0,372.3 L1396.0,371.9 L1397.0,372.1 L1398.0,371.5 L1399.0,372.0 L1400.0,371.3 L1401.0,371.9 L1402.0,371.9 L1403.0,371.9 L1404.0,371.5 L1405.0,372.3 L1406.0,371.2 L1407.0,372.1 L1408.0,372.1 L1409.0,371.8 L1410.0,371.9 L1411.0,371.4 L1412.0,372.2 L1413.0,371.6 L1414.0,372.1 L1415.0,372.3 L1416.0,372.1 L1417.0,371.6 L1418.0,371.6 L1419.0,371.2 L1420.0,372.1 L1421.0,371.2 L1422.0,371.4 L1423.0,371.4 L1424.0,371.9 L1425.0,372.2 L1426.0,371.8 L1427.0,371.7 L1428.0,372.3 L1429.0,371.8 L1430.0,371.9 L1431.0,371.3 L1432.0,372.3 L1433.0,372.4 L1434.0,372.4 L1435.0,371.5 L1436.0,372.3 L1437.0,372.2 L1438.0,371.8 L1439.0,372.2 L1440.0,371.5 L1441.0,372.3 L1442.0,371.2 L1443.0,372.0 L1444.0,372.3 L1445.0,372.0 L1446.0,371.8 L1447.0,372.3 L1448.0,371.5 L1449.0,372.3 L1450.0,371.2 L1451.0,372.0 L1452.0,372.0 L1453.0,372.1 L1453.5,371.1 L1454.0,371.9 L1454.5,372.0 L1455.0,371.9 L1455.5,372.1 L1456.0,372.0 L1456.5,371.7 L1457.0,372.0 L1457.5,371.6 L1458.0,371.0 L1458.5,371.2 L1459.0,371.9 L1459.5,371.2 L1460.0,371.3 L1460.5,371.7 L1461.0,371.3 L1461.5,371.3 L1462.0,370.5 L1462.5,369.8 L1463.0,367.9 L1463.5,365.4 L1464.0,361.1 L1464.5,355.4 L1465.0,347.8 L1465.5,339.7 L1466.0,334.9 L1466.5,332.7 L1467.0,335.9 L1467.5,341.4 L1468.0,348.4 L1468.5,352.5 L1469.0,354.3 L1469.5,350.0 L1470.0,342.9 L1470.5,333.0 L1471.0,324.8 L1471.5,322.1 L1472.0,324.7 L1472.5,333.1 L1473.0,342.7 L1473.5,350.9 L1474.0,354.7 L1474.5,354.5 L1475.0,353.0 L1475.5,351.1 L1476.0,350.1 L1476.5,351.3 L1477.0,354.9 L1477.5,359.6 L1478.0,364.3 L1478.5,366.7 L1479.0,369.5 L1479.5,369.9 L1480.0,371.0 L1480.5,371.3 L1481.0,370.9 L1481.5,371.3 L1482.0,371.5 L1482.5,371.2 L1483.0,371.5 L1483.5,371.7 L1484.0,372.1 L1484.5,371.4 L1485.0,371.3 L1485.5,371.7 L1486.0,371.8 L1486.5,371.7 L1487.0,372.2 L1487.5,371.4 L1488.0,371.7 L1488.5,371.7 L1489.0,371.4 L1489.5,371.7 L1490.0,371.7 L1491.0,372.1 L1492.0,372.3 L1493.0,371.7 L1494.0,371.4 L1495.0,371.3 L1496.0,371.9 L1497.0,371.4 L1498.0,372.4 L1499.0,372.3 L1500.0,371.7 L1501.0,371.7 L1502.0,371.7 L1503.0,371.4 L1504.0,372.3 L1505.0,371.7 L1506.0,372.0 L1507.0,371.7 L1508.0,372.0 L1509.0,371.7 L1510.0,371.8 L1511.0,371.6 L1512.0,371.5 L1513.0,372.1 L1514.0,371.9 L1515.0,371.8 L1516.0,372.3 L1517.0,372.2 L1518.0,372.0 L1519.0,372.0 L1520.0,372.2 L1521.0,372.1 L1522.0,371.9 L1523.0,371.7 L1524.0,372.0 L1525.0,371.6 L1526.0,371.5 L1527.0,371.9 L1528.0,372.4 L1529.0,371.7 L1530.0,371.9 L1531.0,371.5 L1532.0,371.7 L1533.0,371.8 L1534.0,371.7 L1535.0,372.0 L1536.0,372.3 L1537.0,372.4 L1538.0,372.2 L1539.0,372.2 L1540.0,371.6 L1541.0,372.2 L1542.0,372.2 L1543.0,372.3 L1544.0,372.5 L1545.0,372.2 L1546.0,371.6 L1547.0,371.7 L1548.0,371.5 L1549.0,372.4 L1550.0,372.3 L1551.0,371.6 L1552.0,372.4 L1553.0,371.8 L1554.0,371.9 L1555.0,371.8 L1556.0,372.2 L1557.0,371.7 L1558.0,372.2 L1559.0,372.2 L1560.0,372.3 L1561.0,372.3 L1562.0,371.9 L1563.0,371.9 L1564.0,372.3 L1565.0,372.1 L1566.0,372.1 L1567.0,372.3 L1568.0,371.6 L1569.0,371.7 L1570.0,372.5 L1571.0,371.8 L1572.0,372.5 L1573.0,372.5 L1574.0,371.9 L1575.0,371.9 L1576.0,372.0 L1577.0,371.9 L1578.0,372.1 L1579.0,372.0 L1580.0,372.1 L1581.0,372.3 L1582.0,371.7 L1583.0,372.0 L1584.0,372.2 L1585.0,372.5 L1586.0,371.9 L1587.0,372.1 L1588.0,372.2 L1589.0,372.0 L1590.0,371.8 L1591.0,372.3 L1592.0,372.5 L1593.0,372.5 L1594.0,372.1 L1595.0,371.6 L1596.0,371.8 L1597.0,372.5 L1598.0,372.2 L1599.0,372.3 L1600.0,371.9 L1601.0,372.3 L1602.0,371.8 L1603.0,371.6 L1604.0,372.3 L1605.0,372.2 L1606.0,371.7 L1607.0,372.4"/>
<path stroke-width="3.3" d="M157.0,369.2 L157.5,370.1 L158.0,369.6 L158.5,370.3 L159.0,370.4 L159.5,368.7 L160.0,368.6 L160.5,371.0 L161.0,369.3 L161.5,369.2 L162.0,371.4 L162.5,369.9 L163.0,371.0 L163.5,369.9 L164.0,370.4 L164.5,369.0 L165.0,370.4 L165.5,371.1 L166.0,370.1 L166.5,370.7 L167.0,370.5 L167.5,368.8 L168.0,370.8 L168.5,370.3 L169.0,369.4 L169.5,368.7 L170.0,371.1 L170.5,369.9 L171.0,370.7 L171.5,371.1 L172.0,370.6 L172.5,371.2 L173.0,369.7 L173.5,370.9 L174.0,369.9 L174.5,371.3 L175.0,371.1 L175.5,368.9 L176.0,369.0 L176.5,369.2 L177.0,371.4 L177.5,369.8 L178.0,370.4 L178.5,369.5 L179.0,370.0 L179.5,369.7 L180.0,369.6 L180.5,370.3 L181.0,370.3 L181.5,371.2 L182.0,370.6 L182.5,371.3 L183.0,371.1 L183.5,371.5 L184.0,370.5 L184.5,369.1 L185.0,371.1 L185.5,371.4 L186.0,371.2 L186.5,370.2 L187.0,370.7 L187.5,369.2 L188.0,371.0 L188.5,370.3 L189.0,369.4 L189.5,368.8 L190.0,371.1 L190.5,371.5 L191.0,368.9 L191.5,370.9 L192.0,369.8 L192.5,369.0 L193.0,369.5 L193.5,370.8 L194.0,371.1 L194.5,368.7 L195.0,370.4 L195.5,368.7 L196.0,370.7 L196.5,369.6 L197.0,371.2 L197.5,371.4 L198.0,370.1 L198.5,371.5 L199.0,369.5 L199.5,368.8 L200.0,370.3 L200.5,368.7 L201.0,369.2 L201.5,369.8 L202.0,370.4 L202.5,369.1 L203.0,368.7 L203.5,371.1 L204.0,369.5 L204.5,371.4 L205.0,371.2 L205.5,369.7 L206.0,370.0 L206.5,370.1 L207.0,370.5 L207.5,370.3 L208.0,370.2 L208.5,370.4 L209.0,371.3 L209.5,370.1 L210.0,369.9 L210.5,370.7 L211.0,369.3 L211.5,369.5 L212.0,371.4 L212.5,370.1 L213.0,370.2 L213.5,368.7 L214.0,369.8 L214.5,370.3 L215.0,368.7 L215.5,370.4 L216.0,370.5 L216.5,368.8 L217.0,370.4 L217.5,370.0 L218.0,370.6 L218.5,369.7 L219.0,370.7 L219.5,370.8 L220.0,368.7 L220.5,368.8 L221.0,370.6 L221.5,371.4 L222.0,369.4 L222.5,370.0 L223.0,370.4 L223.5,369.6 L224.0,369.7 L224.5,369.6 L225.0,369.7 L225.5,370.4 L226.0,369.5 L226.5,369.7 L227.0,370.9 L227.5,368.7 L228.0,370.3 L228.5,370.8 L229.0,369.6 L229.5,369.3 L230.0,371.0 L230.5,369.3 L231.0,369.2 L231.5,369.9 L232.0,370.7 L232.5,369.0 L233.0,369.6 L233.5,369.6 L234.0,371.1 L234.5,369.9 L235.0,371.1 L235.5,369.2 L236.0,369.6 L236.5,370.5 L237.0,371.2 L237.5,370.0 L238.0,369.3 L238.5,369.0 L239.0,370.2 L239.5,369.2 L240.0,371.0 L240.5,371.1 L241.0,369.2 L241.5,369.5 L242.0,371.0 L242.5,370.5 L243.0,371.0 L243.5,369.7 L244.0,369.1 L244.5,369.5 L245.0,371.0 L245.5,369.5 L246.0,369.7 L246.5,369.9 L247.0,369.9 L247.5,369.9 L248.0,371.3 L248.5,369.1 L249.0,368.7 L249.5,371.4 L250.0,371.2 L250.5,371.5 L251.0,369.9 L251.5,371.4 L252.0,371.3 L252.5,369.3 L253.0,370.8 L253.5,371.1 L254.0,370.6 L254.5,370.2 L255.0,369.5 L255.5,369.7 L256.0,369.3 L256.5,368.9 L257.0,370.4 L257.5,369.5 L258.0,371.0 L258.5,368.8 L259.0,371.3 L259.5,370.7 L260.0,371.3 L260.5,371.3 L261.0,371.3 L261.5,370.3 L262.0,368.7 L262.5,370.8 L263.0,369.2 L263.5,369.6 L264.0,370.6 L264.5,370.2 L265.0,369.9 L265.5,371.4 L266.0,370.4 L266.5,369.7 L267.0,369.4 L267.5,371.2 L268.0,370.1 L268.5,370.9 L269.0,369.7 L269.5,369.2 L270.0,370.2 L270.5,371.0 L271.0,369.1 L271.5,370.9 L272.0,371.2 L272.5,370.8 L273.0,370.8 L273.5,368.3 L274.0,369.8 L274.5,370.2 L275.0,367.5 L275.5,367.7 L276.0,367.2 L276.5,367.4 L277.0,366.8 L277.5,366.6 L278.0,367.5 L278.5,365.4 L279.0,365.9 L279.5,366.5 L280.0,367.0 L280.5,367.3 L281.0,370.3 L281.5,370.3 L282.0,368.4 L282.5,369.8 L283.0,369.4 L283.5,369.5 L284.0,369.6 L284.5,370.5 L285.0,370.3 L285.5,369.7 L286.0,369.2 L286.5,369.6 L287.0,369.1 L287.5,370.3 L288.0,370.8 L288.5,369.8 L289.0,369.0 L289.5,369.2 L290.0,369.8 L290.5,370.5 L291.0,371.0 L291.5,369.8 L292.0,371.0 L292.5,370.5 L293.0,370.0 L293.5,369.8 L294.0,370.2 L294.5,370.7 L295.0,369.9 L295.5,370.7 L296.0,370.1 L296.5,369.4 L297.0,370.3 L297.5,370.7 L298.0,369.0 L298.5,370.0 L299.0,370.0 L299.5,371.2 L300.0,371.4 L300.5,369.8 L301.0,371.3 L301.5,371.0 L302.0,369.5 L302.5,370.1 L303.0,369.1 L303.5,371.1 L304.0,370.6 L304.5,371.3 L305.0,371.0 L305.5,370.6 L306.0,370.8 L306.5,370.3 L307.0,369.0 L307.5,370.4 L308.0,368.7 L308.5,369.0 L309.0,370.7 L309.5,368.5 L310.0,368.5 L310.5,368.3 L311.0,370.2 L311.5,367.8 L312.0,367.0 L312.5,368.9 L313.0,366.5 L313.5,368.3 L314.0,367.7 L314.5,368.3 L315.0,368.8 L315.5,368.1 L316.0,369.2 L316.5,367.4 L317.0,369.9 L317.5,369.5 L318.0,370.3 L318.5,368.7 L319.0,370.7 L319.5,371.3 L320.0,368.9 L320.5,369.7 L321.0,370.4 L321.5,371.1 L322.0,369.5 L322.5,369.3 L323.0,369.5 L323.5,370.5 L324.0,370.9 L324.5,369.9 L325.0,369.9 L325.5,369.9 L326.0,369.8 L326.5,370.0 L327.0,369.1 L327.5,370.2 L328.0,371.6 L328.5,370.0 L329.0,370.9 L329.5,369.3 L330.0,370.8 L330.5,371.0 L331.0,370.7 L331.5,370.3 L332.0,370.2 L332.5,370.7 L333.0,371.4 L333.5,369.3 L334.0,369.1 L334.5,370.9 L335.0,371.4 L335.5,370.3 L336.0,370.1 L336.5,370.9 L337.0,369.3 L337.5,369.6 L338.0,369.4 L338.5,370.4 L339.0,369.7 L339.5,369.4 L340.0,370.7 L340.5,371.4 L341.0,369.4 L341.5,370.5 L342.0,369.6 L342.5,370.8 L343.0,369.9 L343.5,368.9 L344.0,368.6 L344.5,367.9 L345.0,369.0 L345.5,368.5 L346.0,367.7 L346.5,367.9 L347.0,367.6 L347.5,368.6 L348.0,366.6 L348.5,368.8 L349.0,367.2 L349.5,367.3 L350.0,366.9 L350.5,367.8 L351.0,367.7 L351.5,367.0 L352.0,366.9 L352.5,367.7 L353.0,368.2 L353.5,367.1 L354.0,368.3 L354.5,369.2 L355.0,368.0 L355.5,367.6 L356.0,367.9 L356.5,369.4 L357.0,369.5 L357.5,370.5 L358.0,370.4 L358.5,368.9 L359.0,368.8 L359.5,369.1 L360.0,369.0 L360.5,370.6 L361.0,371.1 L361.5,371.3 L362.0,369.5 L362.5,371.2 L363.0,369.7 L363.5,370.0 L364.0,370.9 L364.5,369.1 L365.0,369.2 L365.5,371.2 L366.0,369.7 L366.5,369.9 L367.0,370.6 L367.5,370.8 L368.0,368.9 L368.5,369.9 L369.0,370.2 L369.5,370.3 L370.0,369.5 L370.5,370.6 L371.0,371.6 L371.5,370.0 L372.0,370.4 L372.5,369.2 L373.0,369.6 L373.5,370.7 L374.0,369.1 L374.5,371.1 L375.0,371.0 L375.5,368.5 L376.0,370.5 L376.5,368.5 L377.0,369.3 L377.5,368.8 L378.0,367.2 L378.5,368.0 L379.0,367.8 L379.5,368.4 L380.0,367.1 L380.5,368.8 L381.0,369.8 L381.5,369.4 L382.0,369.4 L382.5,368.5 L383.0,369.9 L383.5,369.6 L384.0,370.8 L384.5,370.8 L385.0,370.5 L385.5,369.5 L386.0,370.8 L386.5,370.8 L387.0,369.5 L387.5,371.5 L388.0,370.8 L388.5,369.4 L389.0,371.6 L389.5,369.4 L390.0,370.0 L390.5,371.0 L391.0,370.7 L391.5,370.6 L392.0,370.9 L392.5,370.3 L393.0,369.9 L393.5,369.5 L394.0,369.2 L394.5,371.1 L395.0,371.2 L395.5,370.6 L396.0,371.1 L396.5,370.1 L397.0,369.8 L397.5,370.1 L398.0,371.5 L398.5,369.2 L399.0,370.5 L399.5,369.8 L400.0,371.2 L400.5,370.1 L401.0,370.0 L401.5,370.2 L402.0,370.6 L402.5,371.2 L403.0,370.1 L403.5,371.5 L404.0,369.4 L404.5,369.9 L405.0,369.4 L405.5,369.4 L406.0,371.3 L406.5,371.1 L407.0,369.6 L407.5,369.6 L408.0,370.3 L408.5,371.2 L409.0,371.4 L409.5,371.2 L410.0,370.8 L410.5,369.5 L411.0,370.2 L411.5,369.7 L412.0,370.6 L412.5,370.7 L413.0,369.7 L413.5,369.8 L414.0,371.3 L414.5,369.2 L415.0,371.4 L415.5,371.6 L416.0,371.8 L416.5,370.2 L417.0,370.7 L417.5,370.8 L418.0,370.9 L418.5,371.9 L419.0,371.1 L419.5,370.0 L420.0,371.5 L420.5,370.5 L421.0,370.8 L421.5,371.2 L422.0,369.2 L422.5,371.3 L423.0,371.0 L423.5,370.5 L424.0,370.6 L424.5,370.4 L425.0,369.7 L425.5,370.6 L426.0,369.3 L426.5,370.5 L427.0,371.0 L427.5,370.4 L428.0,370.7 L428.5,371.8 L429.0,371.6 L429.5,369.5 L430.0,371.4 L430.5,370.9 L431.0,369.3 L431.5,370.2 L432.0,369.8 L432.5,369.4 L433.0,370.7 L433.5,371.7 L434.0,370.1 L434.5,371.6 L435.0,371.1 L435.5,369.5 L436.0,371.5 L436.5,370.8 L437.0,371.7 L437.5,371.2 L438.0,371.2 L438.5,370.1 L439.0,371.4 L439.5,371.7 L440.0,371.6 L440.5,370.4 L441.0,371.3 L441.5,370.5 L442.0,369.5 L442.5,369.3 L443.0,369.4 L443.5,369.7 L444.0,369.6 L444.5,370.5 L445.0,371.1 L445.5,370.6 L446.0,370.3 L446.5,370.9 L447.0,370.0 L447.5,370.4 L448.0,371.2 L448.5,370.2 L449.0,369.6 L449.5,371.6 L450.0,371.1 L450.5,370.1 L451.0,370.1 L451.5,370.5 L452.0,370.7 L452.5,369.6 L453.0,369.0 L453.5,369.5 L454.0,371.1 L454.5,369.3 L455.0,370.1 L455.5,369.3 L456.0,369.3 L456.5,369.0 L457.0,369.5 L457.5,368.7 L458.0,368.1 L458.5,367.9 L459.0,367.7 L459.5,368.0 L460.0,366.2 L460.5,365.4 L461.0,365.7 L461.5,364.7 L462.0,364.7 L462.5,362.1 L463.0,362.6 L463.5,362.4 L464.0,361.6 L464.5,364.7 L465.0,363.3 L465.5,363.9 L466.0,365.8 L466.5,365.8 L467.0,367.8 L467.5,367.7 L468.0,367.6 L468.5,367.8 L469.0,370.0 L469.5,369.0 L470.0,370.6 L470.5,369.9 L471.0,371.3 L471.5,369.6 L472.0,369.6 L472.5,369.7 L473.0,371.2 L473.5,370.7 L474.0,370.0 L474.5,369.3 L475.0,371.0 L475.5,371.8 L476.0,370.8 L476.5,369.2 L477.0,369.2 L477.5,369.4 L478.0,369.7 L478.5,369.3 L479.0,369.4 L479.5,371.0 L480.0,371.7 L480.5,369.8 L481.0,371.9 L481.5,370.6 L482.0,371.5 L482.5,371.8 L483.0,371.9 L483.5,369.4 L484.0,370.1 L484.5,371.0 L485.0,371.9 L485.5,369.5 L486.0,370.1 L486.5,371.6 L487.0,369.6 L487.5,370.4 L488.0,370.2 L488.5,371.2 L489.0,371.9 L489.5,369.8 L490.0,371.4 L490.5,371.4 L491.0,371.6 L491.5,370.9 L492.0,371.9 L492.5,370.4 L493.0,370.5 L493.5,370.0 L494.0,371.5 L494.5,370.7 L495.0,370.1 L495.5,369.8 L496.0,371.4 L496.5,371.0 L497.0,371.3 L497.5,370.4 L498.0,370.7 L498.5,369.8 L499.0,371.3 L499.5,369.5 L500.0,370.7 L500.5,371.5 L501.0,371.3 L501.5,369.7 L502.0,370.0 L502.5,371.7 L503.0,371.2 L503.5,371.8 L504.0,371.8 L504.5,370.6 L505.0,371.9 L505.5,371.4 L506.0,370.3 L506.5,370.4 L507.0,369.6 L507.5,370.5 L508.0,372.0 L508.5,369.7 L509.0,371.0 L509.5,369.7 L510.0,369.6 L510.5,371.2 L511.0,370.1 L511.5,369.5 L512.0,369.8 L512.5,371.2 L513.0,371.0 L513.5,369.5 L514.0,370.0 L514.5,372.1 L515.0,370.0 L515.5,371.0 L516.0,370.6 L516.5,371.6 L517.0,371.1 L517.5,371.6 L518.0,370.9 L518.5,369.9 L519.0,369.9 L519.5,369.6 L520.0,371.7 L520.5,369.7 L521.0,369.5 L521.5,372.1 L522.0,370.0 L522.5,371.9 L523.0,369.7 L523.5,370.7 L524.0,370.0 L524.5,371.7 L525.0,371.1 L525.5,371.2 L526.0,371.5 L526.5,371.8 L527.0,370.4 L527.5,371.1 L528.0,370.7 L528.5,369.7 L529.0,371.7 L529.5,371.1 L530.0,371.7 L530.5,370.0 L531.0,370.9 L531.5,370.7 L532.0,371.4 L532.5,369.7 L533.0,370.4 L533.5,370.8 L534.0,369.6 L534.5,371.0 L535.0,371.5 L535.5,370.6 L536.0,371.2 L536.5,371.1 L537.0,370.0 L537.5,370.4 L538.0,372.2 L538.5,370.4 L539.0,370.6 L539.5,369.7 L540.0,370.0 L540.5,369.9 L541.0,372.0 L541.5,371.4 L542.0,371.8 L542.5,372.1 L543.0,371.1 L543.5,372.0 L544.0,370.9 L544.5,370.6 L545.0,372.0 L545.5,371.9 L546.0,372.0 L546.5,370.8 L547.0,371.6 L547.5,370.6 L548.0,372.2 L548.5,372.0 L549.0,370.3 L549.5,372.0 L550.0,370.0 L550.5,369.7 L551.0,371.4 L551.5,370.3 L552.0,370.9 L552.5,371.2 L553.0,369.6 L553.5,371.5 L554.0,370.2 L554.5,370.6 L555.0,370.4 L555.5,371.5 L556.0,371.5 L556.5,370.2 L557.0,369.7 L557.5,370.3 L558.0,370.6 L558.5,369.7 L559.0,369.9 L559.5,371.5 L560.0,371.4 L560.5,372.1 L561.0,372.1 L561.5,371.9 L562.0,370.5 L562.5,369.9 L563.0,370.3 L563.5,370.7 L564.0,370.9 L564.5,370.9 L565.0,370.5 L565.5,371.8 L566.0,370.2 L566.5,370.7 L567.0,371.9 L567.5,371.7 L568.0,370.3 L568.5,370.1 L569.0,371.7 L569.5,369.5 L570.0,369.8 L570.5,370.9 L571.0,370.9 L571.5,369.9 L572.0,369.6 L572.5,370.0 L573.0,371.6 L573.5,370.7 L574.0,372.1 L574.5,371.6 L575.0,372.1 L575.5,369.6 L576.0,370.0 L576.5,369.5 L577.0,370.7 L577.5,370.4 L578.0,369.6 L578.5,371.0 L579.0,369.7 L579.5,370.3 L580.0,370.2 L580.5,371.7 L581.0,370.6 L581.5,370.2 L582.0,369.6 L582.5,370.6 L583.0,371.2 L583.5,371.3 L584.0,372.0 L584.5,371.7 L585.0,370.2 L585.5,369.9 L586.0,371.5 L586.5,371.6 L587.0,370.9 L587.5,371.7 L588.0,371.0 L588.5,370.2 L589.0,369.9 L589.5,369.5 L590.0,371.2 L590.5,371.9 L591.0,371.9 L591.5,370.7 L592.0,371.3 L592.5,372.0 L593.0,371.7 L593.5,371.1 L594.0,370.6 L594.5,370.9 L595.0,369.9 L595.5,370.0 L596.0,371.3 L596.5,372.2 L597.0,371.0 L597.5,370.6 L598.0,370.4 L598.5,370.7 L599.0,371.6 L599.5,370.7 L600.0,372.1 L600.5,369.9 L601.0,370.3 L601.5,370.9 L602.0,370.6 L602.5,371.8 L603.0,371.7 L603.5,372.0 L604.0,371.1 L604.5,369.6 L605.0,371.0 L605.5,371.0 L606.0,370.8 L606.5,370.2 L607.0,371.4 L607.5,371.9 L608.0,369.7 L608.5,371.3 L609.0,370.5 L609.5,370.8 L610.0,371.9 L610.5,372.0 L611.0,371.2 L611.5,370.0 L612.0,371.9 L612.5,369.9 L613.0,370.4 L613.5,371.6 L614.0,370.1 L614.5,369.9 L615.0,371.6 L615.5,371.4 L616.0,369.4 L616.5,369.2 L617.0,368.4 L617.5,367.3 L618.0,367.0 L618.5,368.2 L619.0,365.2 L619.5,365.2 L620.0,365.0 L620.5,364.8 L621.0,366.4 L621.5,367.6 L622.0,368.5 L622.5,368.7 L623.0,369.8 L623.5,368.1 L624.0,369.3 L624.5,371.4 L625.0,369.2 L625.5,369.9 L626.0,370.6 L626.5,370.0 L627.0,370.8 L627.5,369.5 L628.0,370.0 L628.5,371.9 L629.0,369.8 L629.5,371.8 L630.0,369.9 L630.5,372.0 L631.0,371.2 L631.5,371.1 L632.0,369.8 L632.5,369.5 L633.0,371.4 L633.5,369.8 L634.0,369.9 L634.5,371.5 L635.0,371.7 L635.5,369.5 L636.0,371.9 L636.5,370.8 L637.0,370.3 L637.5,369.6 L638.0,370.4 L638.5,371.9 L639.0,370.0 L639.5,369.6 L640.0,369.7 L640.5,369.6 L641.0,370.2 L641.5,371.6 L642.0,369.4 L642.5,369.7 L643.0,371.7 L643.5,371.8 L644.0,371.7 L644.5,369.8 L645.0,370.0 L645.5,371.6 L646.0,370.3 L646.5,370.8 L647.0,369.8 L647.5,369.0 L648.0,369.8 L648.5,370.8 L649.0,370.8 L649.5,370.2 L650.0,369.8 L650.5,369.9 L651.0,369.6 L651.5,369.7 L652.0,370.4 L652.5,368.6 L653.0,369.4 L653.5,370.1 L654.0,369.6 L654.5,367.6 L655.0,369.3 L655.5,368.5 L656.0,366.1 L656.5,365.4 L657.0,363.5 L657.5,360.3 L658.0,357.7 L658.5,348.1 L659.0,336.9 L659.5,317.6 L660.0,295.2 L660.5,272.4 L661.0,247.9 L661.5,230.1 L662.0,222.4 L662.5,228.9 L663.0,247.8 L663.5,270.4 L664.0,296.5 L664.5,318.4 L665.0,335.1 L665.5,348.6 L666.0,356.0 L666.5,361.5 L667.0,364.0 L667.5,365.5 L668.0,366.6 L668.5,367.9 L669.0,369.3 L669.5,369.6 L670.0,369.7 L670.5,369.8 L671.0,368.6 L671.5,370.6 L672.0,368.9 L672.5,368.7 L673.0,369.7 L673.5,370.4 L674.0,369.5 L674.5,370.4 L675.0,369.5 L675.5,371.3 L676.0,370.1 L676.5,370.2 L677.0,370.4 L677.5,371.3 L678.0,371.6 L678.5,370.5 L679.0,370.3 L679.5,370.8 L680.0,369.4 L680.5,370.3 L681.0,371.4 L681.5,371.3 L682.0,369.4 L682.5,371.5 L683.0,370.3 L683.5,371.9 L684.0,370.3 L684.5,369.9 L685.0,370.8 L685.5,371.7 L686.0,370.5 L686.5,371.6 L687.0,371.2 L687.5,370.4 L688.0,370.2 L688.5,370.8 L689.0,370.5 L689.5,370.4 L690.0,371.1 L690.5,371.7 L691.0,371.0 L691.5,369.9 L692.0,370.1 L692.5,370.5 L693.0,371.1 L693.5,369.9 L694.0,369.7 L694.5,370.4 L695.0,370.3 L695.5,369.6 L696.0,370.9 L696.5,371.9 L697.0,370.9 L697.5,371.4 L698.0,371.7 L698.5,371.7 L699.0,371.9 L699.5,370.7 L700.0,371.3 L700.5,369.9 L701.0,371.8 L701.5,370.5 L702.0,370.8 L702.5,371.8 L703.0,370.3 L703.5,370.1 L704.0,371.7 L704.5,371.1 L705.0,369.8 L705.5,369.7 L706.0,370.5 L706.5,369.6 L707.0,371.7 L707.5,370.1 L708.0,370.3 L708.5,370.6 L709.0,370.9 L709.5,370.7 L710.0,371.2 L710.5,371.3 L711.0,370.7 L711.5,369.9 L712.0,372.1 L712.5,371.3 L713.0,369.8 L713.5,370.7 L714.0,371.4 L714.5,372.0 L715.0,369.6 L715.5,369.3 L716.0,370.3 L716.5,369.9 L717.0,370.7 L717.5,370.1 L718.0,368.3 L718.5,367.8 L719.0,367.5 L719.5,367.7 L720.0,365.5 L720.5,365.7 L721.0,365.0 L721.5,366.7 L722.0,365.6 L722.5,368.6 L723.0,368.2 L723.5,369.0 L724.0,368.4 L724.5,369.2 L725.0,370.1 L725.5,371.3 L726.0,370.7 L726.5,370.2 L727.0,372.0 L727.5,371.2 L728.0,370.9 L728.5,370.1 L729.0,370.4 L729.5,371.9 L730.0,370.0 L730.5,371.0 L731.0,371.2 L731.5,370.6 L732.0,371.6 L732.5,371.9 L733.0,371.8 L733.5,371.5 L734.0,370.2 L734.5,369.9 L735.0,370.8 L735.5,370.5 L736.0,370.2 L736.5,371.9 L737.0,370.3 L737.5,371.7 L738.0,372.0 L738.5,370.0 L739.0,372.0 L739.5,370.7 L740.0,370.3 L740.5,370.2 L741.0,369.8 L741.5,371.0 L742.0,370.7 L742.5,371.8 L743.0,371.8 L743.5,369.9 L744.0,370.7 L744.5,370.7 L745.0,370.2 L745.5,370.4 L746.0,370.4 L746.5,371.4 L747.0,370.6 L747.5,370.0 L748.0,370.3 L748.5,370.8 L749.0,371.1 L749.5,370.4 L750.0,371.5 L750.5,370.3 L751.0,371.4 L751.5,371.2 L752.0,370.2 L752.5,371.6 L753.0,370.7 L753.5,371.1 L754.0,371.2 L754.5,371.3 L755.0,370.8 L755.5,369.9 L756.0,371.7 L756.5,371.9 L757.0,371.0 L757.5,371.2 L758.0,370.4 L758.5,372.0 L759.0,371.4 L759.5,370.3 L760.0,371.8 L760.5,372.2 L761.0,370.6 L761.5,372.2 L762.0,371.0 L762.5,370.2 L763.0,371.5 L763.5,370.6 L764.0,371.6 L764.5,371.2 L765.0,370.1 L765.5,371.1 L766.0,371.8 L766.5,370.9 L767.0,371.1 L767.5,371.9 L768.0,370.9 L768.5,371.0 L769.0,371.2 L769.5,371.8 L770.0,370.3 L770.5,370.0 L771.0,371.6 L771.5,371.1 L772.0,370.5 L772.5,371.9 L773.0,371.9 L773.5,371.1 L774.0,372.2 L774.5,371.8 L775.0,371.6 L775.5,370.5 L776.0,369.8 L776.5,371.4 L777.0,371.6 L777.5,370.6 L778.0,371.0 L778.5,371.2 L779.0,370.4 L779.5,371.5 L780.0,371.2 L780.5,370.7 L781.0,370.1 L781.5,371.1 L782.0,370.6 L782.5,371.5 L783.0,370.2 L783.5,370.8 L784.0,370.3 L784.5,370.8 L785.0,371.2 L785.5,370.1 L786.0,369.9 L786.5,371.0 L787.0,370.3 L787.5,371.0 L788.0,370.2 L788.5,370.1 L789.0,371.1 L789.5,372.0 L790.0,371.9 L790.5,371.0 L791.0,370.8 L791.5,370.0 L792.0,370.5 L792.5,370.6 L793.0,372.0 L793.5,370.1 L794.0,372.0 L794.5,370.9 L795.0,370.8 L795.5,370.4 L796.0,372.1 L796.5,370.2 L797.0,371.1 L797.5,371.0 L798.0,370.2 L798.5,370.3 L799.0,372.0 L799.5,371.6 L800.0,371.4 L800.5,371.7 L801.0,369.8 L801.5,371.1 L802.0,371.1 L802.5,369.7 L803.0,370.1 L803.5,371.2 L804.0,369.4 L804.5,370.2 L805.0,368.5 L805.5,369.4 L806.0,368.2 L806.5,368.5 L807.0,367.8 L807.5,368.7 L808.0,368.2 L808.5,367.4 L809.0,367.6 L809.5,366.9 L810.0,367.8 L810.5,366.5 L811.0,367.3 L811.5,367.6 L812.0,367.3 L812.5,366.8 L813.0,367.4 L813.5,368.8 L814.0,368.1 L814.5,369.7 L815.0,369.3 L815.5,370.7 L816.0,370.7 L816.5,370.6 L817.0,369.9 L817.5,369.3 L818.0,370.7 L818.5,371.2 L819.0,371.7 L819.5,370.1 L820.0,370.1 L820.5,372.0 L821.0,371.5 L821.5,370.9 L822.0,371.5 L822.5,370.2 L823.0,371.1 L823.5,371.4 L824.0,371.2 L824.5,370.2 L825.0,370.2 L825.5,371.3 L826.0,371.9 L826.5,370.2 L827.0,369.9 L827.5,370.1 L828.0,371.7 L828.5,370.8 L829.0,370.9 L829.5,372.2 L830.0,371.3 L830.5,370.5 L831.0,371.5 L831.5,369.9 L832.0,370.5 L832.5,371.5 L833.0,370.3 L833.5,370.0 L834.0,371.1 L834.5,370.6 L835.0,372.1 L835.5,370.1 L836.0,371.7 L836.5,370.8 L837.0,371.7 L837.5,370.9 L838.0,371.4 L838.5,370.6 L839.0,370.4 L839.5,370.9 L840.0,371.7 L840.5,370.7 L841.0,370.4 L841.5,370.8 L842.0,370.1 L842.5,370.6 L843.0,371.2 L843.5,371.1 L844.0,371.2 L844.5,370.5 L845.0,369.8 L845.5,369.7 L846.0,370.3 L846.5,369.8 L847.0,370.5 L847.5,369.5 L848.0,370.4 L848.5,369.8 L849.0,369.7 L849.5,369.7 L850.0,369.1 L850.5,369.0 L851.0,368.9 L851.5,368.5 L852.0,370.5 L852.5,370.1 L853.0,369.4 L853.5,371.5 L854.0,370.9 L854.5,371.1 L855.0,370.8 L855.5,370.1 L856.0,372.1 L856.5,370.3 L857.0,370.7 L857.5,372.2 L858.0,370.2 L858.5,371.1 L859.0,371.0 L859.5,370.5 L860.0,372.0 L860.5,370.9 L861.0,370.0 L861.5,371.0 L862.0,370.0 L862.5,371.5 L863.0,371.9 L863.5,372.0 L864.0,370.1 L864.5,371.5 L865.0,370.6 L865.5,371.0 L866.0,370.6 L866.5,370.7 L867.0,370.3 L867.5,371.4 L868.0,370.2 L868.5,372.1 L869.0,370.1 L869.5,372.1 L870.0,370.4 L870.5,370.2 L871.0,371.6 L871.5,371.2 L872.0,371.7 L872.5,371.1 L873.0,371.4 L873.5,370.2 L874.0,371.5 L874.5,371.1 L875.0,372.1 L875.5,370.0 L876.0,370.1 L876.5,371.5 L877.0,372.0 L877.5,370.9 L878.0,371.6 L878.5,371.2 L879.0,370.9 L879.5,371.0 L880.0,371.3 L880.5,370.1 L881.0,370.7 L881.5,371.6 L882.0,370.6 L882.5,371.0 L883.0,370.6 L883.5,370.8 L884.0,371.4 L884.5,371.6 L885.0,372.1 L885.5,371.1 L886.0,370.5 L886.5,370.7 L887.0,370.1 L887.5,370.5 L888.0,371.3 L888.5,371.3 L889.0,370.5 L889.5,370.4 L890.0,370.2 L890.5,370.4 L891.0,371.1 L891.5,370.6 L892.0,371.9 L892.5,371.2 L893.0,370.8 L893.5,371.0 L894.0,370.1 L894.5,371.6 L895.0,371.7 L895.5,370.8 L896.0,371.6 L896.5,370.6 L897.0,370.5 L897.5,370.5 L898.0,370.4 L898.5,371.3 L899.0,371.4 L899.5,371.6 L900.0,370.2 L900.5,371.7 L901.0,371.1 L901.5,370.8 L902.0,371.1 L902.5,371.0 L903.0,370.5 L903.5,370.9 L904.0,371.4 L904.5,371.6 L905.0,372.0 L905.5,370.4 L906.0,371.9 L906.5,371.7 L907.0,371.6 L907.5,372.1 L908.0,370.3 L908.5,371.7 L909.0,371.9 L909.5,370.2 L910.0,371.3 L910.5,372.0 L911.0,370.6 L911.5,371.8 L912.0,371.8 L912.5,370.8 L913.0,370.1 L913.5,370.2 L914.0,371.5 L914.5,370.5 L915.0,370.2 L915.5,370.3 L916.0,371.3 L916.5,369.7 L917.0,369.0 L917.5,370.8 L918.0,369.2 L918.5,369.2 L919.0,370.3 L919.5,368.6 L920.0,367.9 L920.5,369.5 L921.0,367.9 L921.5,367.7 L922.0,369.2 L922.5,367.6 L923.0,369.0 L923.5,367.8 L924.0,367.8 L924.5,367.7 L925.0,368.6 L925.5,368.8 L926.0,368.6 L926.5,369.0 L927.0,368.8 L927.5,370.2 L928.0,370.6 L928.5,370.4 L929.0,370.7 L929.5,369.3 L930.0,369.8 L930.5,369.8 L931.0,369.9 L931.5,371.7 L932.0,371.6 L932.5,371.7 L933.0,371.0 L933.5,370.1 L934.0,370.8 L934.5,370.1 L935.0,371.9 L935.5,370.6 L936.0,370.6 L936.5,372.0 L937.0,370.5 L937.5,372.0 L938.0,370.7 L938.5,371.5 L939.0,370.3 L939.5,372.0 L940.0,370.9 L940.5,370.8 L941.0,371.5 L941.5,371.3 L942.0,370.6 L942.5,370.3 L943.0,371.3 L943.5,370.1 L944.0,371.9 L944.5,370.8 L945.0,370.4 L945.5,370.8 L946.0,370.3 L946.5,370.8 L947.0,371.2 L947.5,371.0 L948.0,370.8 L948.5,370.7 L949.0,371.1 L949.5,371.7 L950.0,371.0 L950.5,371.7 L951.0,371.1 L951.5,370.4 L952.0,370.5 L952.5,371.9 L953.0,371.1 L953.5,370.9 L954.0,371.2 L954.5,371.9 L955.0,370.9 L955.5,370.9 L956.0,370.9 L956.5,370.1 L957.0,371.3 L957.5,371.1 L958.0,371.2 L958.5,371.1 L959.0,371.1 L959.5,371.6 L960.0,370.5 L960.5,372.2 L961.0,370.4 L961.5,371.9 L962.0,370.5 L962.5,371.8 L963.0,370.7 L963.5,370.3 L964.0,371.3 L964.5,371.9 L965.0,371.9 L965.5,372.0 L966.0,372.2 L966.5,370.3 L967.0,370.9 L967.5,370.4 L968.0,371.7 L968.5,371.1 L969.0,371.7 L969.5,371.8 L970.0,372.2 L970.5,371.5 L971.0,371.9 L971.5,371.3 L972.0,370.3 L972.5,372.0 L973.0,370.3 L973.5,370.3 L974.0,371.9 L974.5,370.7 L975.0,371.5 L975.5,370.2 L976.0,370.6 L976.5,371.6 L977.0,370.2 L977.5,371.2 L978.0,372.1 L978.5,370.6 L979.0,371.6 L979.5,371.7 L980.0,371.4 L980.5,371.7 L981.0,371.6 L981.5,370.2 L982.0,370.6 L982.5,371.3 L983.0,372.1 L983.5,370.6 L984.0,371.4 L984.5,370.4 L985.0,371.9 L985.5,371.1 L986.0,371.2 L986.5,371.5 L987.0,370.5 L987.5,371.7 L988.0,371.8 L988.5,371.9 L989.0,370.8 L989.5,370.7 L990.0,370.5 L990.5,372.0 L991.0,371.1 L991.5,371.0 L992.0,371.2 L992.5,371.6 L993.0,370.8 L993.5,370.9 L994.0,371.7 L994.5,371.8 L995.0,370.8 L995.5,370.3 L996.0,372.1 L996.5,371.7 L997.0,371.4 L997.5,371.0 L998.0,372.1 L998.5,371.1 L999.0,370.6 L999.5,370.4 L1000.0,370.9 L1000.5,371.4 L1001.0,370.9 L1001.5,372.1 L1002.0,371.5 L1002.5,371.1 L1003.0,371.5 L1003.5,371.4 L1004.0,371.4 L1004.5,371.2 L1005.0,371.2 L1005.5,371.2 L1006.0,371.9 L1006.5,370.6 L1007.0,371.8 L1007.5,370.8 L1008.0,371.9 L1008.5,370.4 L1009.0,371.2 L1009.5,371.1 L1010.0,371.6 L1010.5,370.6 L1011.0,370.7 L1011.5,370.5 L1012.0,371.3 L1012.5,371.4 L1013.0,370.2 L1013.5,370.6 L1014.0,370.6 L1014.5,372.1 L1015.0,371.1 L1015.5,371.3 L1016.0,370.8 L1016.5,371.5 L1017.0,371.8 L1017.5,371.5 L1018.0,370.2 L1018.5,371.1 L1019.0,371.2 L1019.5,370.3 L1020.0,371.8 L1020.5,370.8 L1021.0,370.8 L1021.5,371.4 L1022.0,371.4 L1022.5,371.2 L1023.0,371.9 L1023.5,371.2 L1024.0,370.9 L1024.5,370.3 L1025.0,371.3 L1025.5,370.9 L1026.0,371.2 L1026.5,370.9 L1027.0,370.2 L1027.5,370.3 L1028.0,370.5 L1028.5,370.4 L1029.0,371.8 L1029.5,371.3 L1030.0,370.6 L1030.5,371.5 L1031.0,371.3 L1031.5,370.2 L1032.0,371.5 L1032.5,370.4 L1033.0,371.9 L1033.5,370.1 L1034.0,370.3 L1034.5,370.1 L1035.0,371.2 L1035.5,370.9 L1036.0,370.3 L1036.5,369.3 L1037.0,369.6 L1037.5,369.9 L1038.0,368.4 L1038.5,369.8 L1039.0,369.3 L1039.5,369.2 L1040.0,368.5 L1040.5,368.1 L1041.0,368.6 L1041.5,367.0 L1042.0,367.0 L1042.5,366.5 L1043.0,366.6 L1043.5,367.8 L1044.0,366.6 L1044.5,368.0 L1045.0,367.5 L1045.5,368.6 L1046.0,368.6 L1046.5,368.8 L1047.0,369.3 L1047.5,368.1 L1048.0,368.8 L1048.5,369.2 L1049.0,369.6 L1049.5,370.3 L1050.0,370.9 L1050.5,370.8 L1051.0,371.3 L1051.5,371.0 L1052.0,370.5 L1052.5,370.8 L1053.0,371.4 L1053.5,371.6 L1054.0,370.8 L1054.5,370.8 L1055.0,371.3 L1055.5,370.6 L1056.0,371.8 L1056.5,370.2 L1057.0,371.4 L1057.5,371.1 L1058.0,370.6 L1058.5,371.3 L1059.0,371.1 L1059.5,372.0 L1060.0,371.9 L1060.5,371.3 L1061.0,371.9 L1061.5,371.9 L1062.0,370.6 L1062.5,371.8 L1063.0,371.8 L1063.5,372.1 L1064.0,371.7 L1064.5,371.0 L1065.0,370.6 L1065.5,371.5 L1066.0,370.7 L1066.5,371.7 L1067.0,371.3 L1067.5,371.8 L1068.0,370.9 L1068.5,370.8 L1069.0,371.9 L1069.5,371.5 L1070.0,371.0 L1070.5,371.3 L1071.0,371.1 L1071.5,371.5 L1072.0,371.2 L1072.5,370.8 L1073.0,372.1 L1073.5,371.9 L1074.0,371.7 L1074.5,370.8 L1075.0,370.6 L1075.5,371.6 L1076.0,371.8 L1076.5,371.4 L1077.0,370.6 L1077.5,371.6 L1078.0,371.2 L1078.5,370.9 L1079.0,371.3 L1079.5,371.0 L1080.0,371.4 L1080.5,371.6 L1081.0,372.0 L1081.5,370.4 L1082.0,371.2 L1082.5,371.9 L1083.0,371.4 L1083.5,371.2 L1084.0,371.7 L1084.5,370.2 L1085.0,371.6 L1085.5,371.2 L1086.0,371.1 L1086.5,370.6 L1087.0,371.2 L1087.5,370.2 L1088.0,370.9 L1088.5,370.4 L1089.0,371.6 L1089.5,371.3 L1090.0,370.7 L1090.5,371.1 L1091.0,370.3 L1091.5,370.5 L1092.0,369.7 L1092.5,370.8 L1093.0,370.3 L1093.5,369.8 L1094.0,367.9 L1094.5,368.2 L1095.0,365.1 L1095.5,364.0 L1096.0,361.0 L1096.5,356.8 L1097.0,353.5 L1097.5,350.2 L1098.0,346.1 L1098.5,342.9 L1099.0,342.9 L1099.5,343.0 L1100.0,346.6 L1100.5,349.4 L1101.0,352.9 L1101.5,358.4 L1102.0,360.3 L1102.5,363.4 L1103.0,366.5 L1103.5,366.9 L1104.0,368.7 L1104.5,370.0 L1105.0,370.0 L1105.5,369.9 L1106.0,370.8 L1106.5,371.1 L1107.0,370.7 L1107.5,370.9 L1108.0,370.4 L1108.5,370.6 L1109.0,371.7 L1109.5,371.7 L1110.0,370.0 L1110.5,370.4 L1111.0,370.5 L1111.5,371.5 L1112.0,370.5 L1112.5,370.5 L1113.0,371.5 L1113.5,370.5 L1114.0,371.9 L1114.5,371.0 L1115.0,371.8 L1115.5,371.7 L1116.0,370.6 L1116.5,371.7 L1117.0,371.0 L1117.5,370.7 L1118.0,370.4 L1118.5,371.6 L1119.0,371.3 L1119.5,370.9 L1120.0,371.8 L1120.5,370.7 L1121.0,371.1 L1121.5,370.5 L1122.0,371.0 L1122.5,371.9 L1123.0,371.2 L1123.5,370.6 L1124.0,370.8 L1124.5,371.5 L1125.0,370.9 L1125.5,371.9 L1126.0,370.5 L1126.5,371.9 L1127.0,371.5 L1127.5,371.8 L1128.0,371.0 L1128.5,370.5 L1129.0,370.7 L1129.5,371.5 L1130.0,370.5 L1130.5,370.6 L1131.0,371.8 L1131.5,372.0 L1132.0,371.9 L1132.5,371.9 L1133.0,371.4 L1133.5,372.0 L1134.0,371.7 L1134.5,371.4 L1135.0,371.2 L1135.5,370.5 L1136.0,370.6 L1136.5,370.9 L1137.0,371.3 L1137.5,370.7 L1138.0,372.1 L1138.5,371.5 L1139.0,371.7 L1139.5,372.0 L1140.0,370.9 L1140.5,372.0 L1141.0,372.1 L1141.5,370.9 L1142.0,370.7 L1142.5,371.9 L1143.0,372.0 L1143.5,371.9 L1144.0,371.2 L1144.5,371.5 L1145.0,370.7 L1145.5,370.9 L1146.0,371.2 L1146.5,371.8 L1147.0,370.6 L1147.5,372.1 L1148.0,370.6 L1148.5,372.2 L1149.0,370.9 L1149.5,371.9 L1150.0,371.9 L1150.5,372.1 L1151.0,371.3 L1151.5,371.7 L1152.0,371.0 L1152.5,371.9 L1153.0,370.7 L1153.5,372.0 L1154.0,371.5 L1154.5,370.6 L1155.0,372.1 L1155.5,371.1 L1156.0,370.6 L1156.5,371.0 L1157.0,370.6 L1157.5,371.0 L1158.0,371.7 L1158.5,372.2 L1159.0,371.6 L1159.5,372.0 L1160.0,371.9 L1160.5,371.7 L1161.0,371.2 L1161.5,371.0 L1162.0,370.8 L1162.5,371.5 L1163.0,370.9 L1163.5,371.8 L1164.0,371.1 L1164.5,371.5 L1165.0,371.5 L1165.5,371.6 L1166.0,370.8 L1166.5,371.0 L1167.0,371.7 L1167.5,370.9 L1168.0,371.7 L1168.5,372.2 L1169.0,371.2 L1169.5,372.2 L1170.0,371.6 L1170.5,372.1 L1171.0,371.4 L1171.5,371.8 L1172.0,371.7 L1172.5,370.9 L1173.0,371.4 L1173.5,371.5 L1174.0,371.3 L1174.5,371.7 L1175.0,372.1 L1175.5,371.9 L1176.0,371.9 L1176.5,370.8 L1177.0,371.7 L1177.5,371.6 L1178.0,372.1 L1178.5,370.6 L1179.0,370.9 L1179.5,372.2 L1180.0,371.2 L1180.5,371.8 L1181.0,371.6 L1181.5,371.3 L1182.0,371.3 L1182.5,371.5 L1183.0,372.2 L1183.5,371.5 L1184.0,371.9 L1184.5,371.1 L1185.0,371.8 L1185.5,371.6 L1186.0,371.8 L1186.5,372.0 L1187.0,370.7 L1187.5,372.2 L1188.0,371.6 L1188.5,371.0 L1189.0,371.4 L1189.5,370.8 L1190.0,371.0 L1190.5,372.0 L1191.0,371.8 L1191.5,372.0 L1192.0,370.9 L1192.5,370.8 L1193.0,371.2 L1193.5,371.4 L1194.0,371.8 L1194.5,371.1 L1195.0,371.8 L1195.5,371.6 L1196.0,371.1 L1196.5,371.9 L1197.0,370.8 L1197.5,371.6 L1198.0,370.9 L1198.5,370.7 L1199.0,371.4 L1199.5,371.5 L1200.0,371.6 L1200.5,371.3 L1201.0,372.1 L1201.5,371.9 L1202.0,370.9 L1202.5,370.7 L1203.0,372.2 L1203.5,371.3 L1204.0,370.8 L1204.5,370.9 L1205.0,371.8 L1205.5,370.9 L1206.0,371.3 L1206.5,371.7 L1207.0,371.2 L1207.5,371.7 L1208.0,372.2 L1208.5,371.9 L1209.0,371.7 L1209.5,371.7 L1210.0,371.2 L1210.5,371.7 L1211.0,371.7 L1211.5,371.6 L1212.0,371.5 L1212.5,371.9 L1213.0,371.0 L1213.5,371.8 L1214.0,372.2 L1214.5,370.7 L1215.0,371.1 L1215.5,372.2 L1216.0,370.8 L1216.5,372.0 L1217.0,371.6 L1217.5,370.8 L1218.0,371.7 L1218.5,370.7 L1219.0,372.0 L1219.5,371.2 L1220.0,372.1 L1220.5,372.1 L1221.0,370.9 L1221.5,371.3 L1222.0,370.9 L1222.5,371.9 L1223.0,370.9 L1223.5,370.8 L1224.0,370.9 L1224.5,372.0 L1225.0,371.1 L1225.5,371.2 L1226.0,371.4 L1226.5,371.6 L1227.0,371.4 L1227.5,372.2 L1228.0,371.3 L1228.5,371.5 L1229.0,372.1 L1229.5,371.1 L1230.0,371.0 L1230.5,372.0 L1231.0,371.2 L1231.5,372.1 L1232.0,372.0 L1232.5,371.3 L1233.0,371.2 L1233.5,370.9 L1234.0,372.1 L1234.5,371.4 L1235.0,371.3 L1235.5,371.0 L1236.0,371.1 L1236.5,372.1 L1237.0,370.9 L1237.5,371.6 L1238.0,371.7 L1238.5,371.5 L1239.0,371.5 L1239.5,371.4 L1240.0,371.0 L1240.5,372.0 L1241.0,372.1 L1241.5,371.6 L1242.0,371.1 L1242.5,372.1 L1243.0,371.1 L1243.5,371.0 L1244.0,371.7 L1244.5,372.0 L1245.0,371.6 L1245.5,370.9 L1246.0,372.2 L1246.5,371.0 L1247.0,371.3 L1247.5,372.3 L1248.0,372.0 L1248.5,371.9 L1249.0,370.9 L1249.5,372.1 L1250.0,371.4 L1251.0,372.0 L1252.0,370.9 L1253.0,372.1 L1254.0,371.2 L1255.0,371.5 L1256.0,372.1 L1257.0,371.9 L1258.0,371.8 L1259.0,371.5 L1260.0,371.3 L1261.0,372.2 L1262.0,371.0 L1263.0,371.6 L1264.0,371.3 L1265.0,371.3 L1266.0,371.2 L1267.0,371.3 L1268.0,371.1 L1269.0,371.0 L1270.0,371.6 L1271.0,371.6 L1272.0,371.3 L1273.0,372.1 L1274.0,371.4 L1275.0,371.7 L1276.0,372.3 L1277.0,371.1 L1278.0,371.5 L1279.0,371.3 L1280.0,372.0 L1281.0,370.9 L1282.0,371.0 L1283.0,371.1 L1284.0,372.1 L1285.0,371.3 L1286.0,371.9 L1287.0,371.2 L1288.0,371.6 L1289.0,371.8 L1290.0,372.2 L1291.0,371.2 L1292.0,371.1 L1293.0,372.1 L1294.0,371.5 L1295.0,372.3 L1296.0,371.2 L1297.0,371.6 L1298.0,371.4 L1299.0,371.2 L1300.0,371.8 L1301.0,371.6 L1302.0,371.9 L1303.0,372.1 L1304.0,371.4 L1305.0,372.0 L1306.0,371.0 L1307.0,371.5 L1308.0,371.1 L1309.0,371.3 L1310.0,371.7 L1311.0,372.1 L1312.0,371.1 L1313.0,371.0 L1314.0,372.2 L1315.0,371.8 L1316.0,371.3 L1317.0,371.5 L1318.0,371.0 L1319.0,371.5 L1320.0,372.1 L1321.0,371.8 L1322.0,371.6 L1323.0,371.0 L1324.0,371.7 L1325.0,371.3 L1326.0,371.4 L1327.0,371.4 L1328.0,371.5 L1329.0,371.4 L1330.0,371.7 L1331.0,371.1 L1332.0,371.4 L1333.0,372.3 L1334.0,371.9 L1335.0,371.1 L1336.0,372.2 L1337.0,371.9 L1338.0,371.7 L1339.0,371.9 L1340.0,372.2 L1341.0,371.3 L1342.0,371.8 L1343.0,372.2 L1344.0,371.9 L1345.0,371.9 L1346.0,372.1 L1347.0,372.2 L1348.0,371.4 L1349.0,371.8 L1350.0,372.0 L1351.0,372.2 L1352.0,371.6 L1353.0,371.8 L1354.0,371.4 L1355.0,371.1 L1356.0,372.1 L1357.0,371.2 L1358.0,371.5 L1359.0,371.8 L1360.0,371.5 L1361.0,371.0 L1362.0,371.5 L1363.0,371.5 L1364.0,371.5 L1365.0,371.5 L1366.0,372.1 L1367.0,372.1 L1368.0,371.4 L1369.0,372.3 L1370.0,371.2 L1371.0,372.3 L1372.0,372.1 L1373.0,372.1 L1374.0,371.7 L1375.0,371.9 L1376.0,371.5 L1377.0,371.2 L1378.0,372.4 L1379.0,372.2 L1380.0,371.3 L1381.0,372.3 L1382.0,372.4 L1383.0,372.0 L1384.0,372.3 L1385.0,371.1 L1386.0,371.1 L1387.0,371.9 L1388.0,371.4 L1389.0,371.6 L1390.0,371.9 L1391.0,371.2 L1392.0,371.2 L1393.0,371.9 L1394.0,372.2 L1395.0,372.3 L1396.0,371.9 L1397.0,372.1 L1398.0,371.5 L1399.0,372.0 L1400.0,371.3 L1401.0,371.9 L1402.0,371.9 L1403.0,371.9 L1404.0,371.5 L1405.0,372.3 L1406.0,371.2 L1407.0,372.1 L1408.0,372.1 L1409.0,371.8 L1410.0,371.9 L1411.0,371.4 L1412.0,372.2 L1413.0,371.6 L1414.0,372.1 L1415.0,372.3 L1416.0,372.1 L1417.0,371.6 L1418.0,371.6 L1419.0,371.2 L1420.0,372.1 L1421.0,371.2 L1422.0,371.4 L1423.0,371.4 L1424.0,371.9 L1425.0,372.2 L1426.0,371.8 L1427.0,371.7 L1428.0,372.3 L1429.0,371.8 L1430.0,371.9 L1431.0,371.3 L1432.0,372.3 L1433.0,372.4 L1434.0,372.4 L1435.0,371.5 L1436.0,372.3 L1437.0,372.2 L1438.0,371.8 L1439.0,372.2 L1440.0,371.5 L1441.0,372.3 L1442.0,371.2 L1443.0,372.0 L1444.0,372.3 L1445.0,372.0 L1446.0,371.8 L1447.0,372.3 L1448.0,371.5 L1449.0,372.3 L1450.0,371.2 L1451.0,372.0 L1452.0,372.0 L1453.0,372.1 L1453.5,371.1 L1454.0,371.9 L1454.5,372.0 L1455.0,371.9 L1455.5,372.1 L1456.0,372.0 L1456.5,371.7 L1457.0,372.0 L1457.5,371.6 L1458.0,371.0 L1458.5,371.2 L1459.0,371.9 L1459.5,371.2 L1460.0,371.3 L1460.5,371.7 L1461.0,371.3 L1461.5,371.3 L1462.0,370.5 L1462.5,369.8 L1463.0,367.9 L1463.5,365.4 L1464.0,361.1 L1464.5,355.4 L1465.0,347.8 L1465.5,339.7 L1466.0,334.9 L1466.5,332.7 L1467.0,335.9 L1467.5,341.4 L1468.0,348.4 L1468.5,352.5 L1469.0,354.3 L1469.5,350.0 L1470.0,342.9 L1470.5,333.0 L1471.0,324.8 L1471.5,322.1 L1472.0,324.7 L1472.5,333.1 L1473.0,342.7 L1473.5,350.9 L1474.0,354.7 L1474.5,354.5 L1475.0,353.0 L1475.5,351.1 L1476.0,350.1 L1476.5,351.3 L1477.0,354.9 L1477.5,359.6 L1478.0,364.3 L1478.5,366.7 L1479.0,369.5 L1479.5,369.9 L1480.0,371.0 L1480.5,371.3 L1481.0,370.9 L1481.5,371.3 L1482.0,371.5 L1482.5,371.2 L1483.0,371.5 L1483.5,371.7 L1484.0,372.1 L1484.5,371.4 L1485.0,371.3 L1485.5,371.7 L1486.0,371.8 L1486.5,371.7 L1487.0,372.2 L1487.5,371.4 L1488.0,371.7 L1488.5,371.7 L1489.0,371.4 L1489.5,371.7 L1490.0,371.7 L1491.0,372.1 L1492.0,372.3 L1493.0,371.7 L1494.0,371.4 L1495.0,371.3 L1496.0,371.9 L1497.0,371.4 L1498.0,372.4 L1499.0,372.3 L1500.0,371.7 L1501.0,371.7 L1502.0,371.7 L1503.0,371.4 L1504.0,372.3 L1505.0,371.7 L1506.0,372.0 L1507.0,371.7 L1508.0,372.0 L1509.0,371.7 L1510.0,371.8 L1511.0,371.6 L1512.0,371.5 L1513.0,372.1 L1514.0,371.9 L1515.0,371.8 L1516.0,372.3 L1517.0,372.2 L1518.0,372.0 L1519.0,372.0 L1520.0,372.2 L1521.0,372.1 L1522.0,371.9 L1523.0,371.7 L1524.0,372.0 L1525.0,371.6 L1526.0,371.5 L1527.0,371.9 L1528.0,372.4 L1529.0,371.7 L1530.0,371.9 L1531.0,371.5 L1532.0,371.7 L1533.0,371.8 L1534.0,371.7 L1535.0,372.0 L1536.0,372.3 L1537.0,372.4 L1538.0,372.2 L1539.0,372.2 L1540.0,371.6 L1541.0,372.2 L1542.0,372.2 L1543.0,372.3 L1544.0,372.5 L1545.0,372.2 L1546.0,371.6 L1547.0,371.7 L1548.0,371.5 L1549.0,372.4 L1550.0,372.3 L1551.0,371.6 L1552.0,372.4 L1553.0,371.8 L1554.0,371.9 L1555.0,371.8 L1556.0,372.2 L1557.0,371.7 L1558.0,372.2 L1559.0,372.2 L1560.0,372.3 L1561.0,372.3 L1562.0,371.9 L1563.0,371.9 L1564.0,372.3 L1565.0,372.1 L1566.0,372.1 L1567.0,372.3 L1568.0,371.6 L1569.0,371.7 L1570.0,372.5 L1571.0,371.8 L1572.0,372.5 L1573.0,372.5 L1574.0,371.9 L1575.0,371.9 L1576.0,372.0 L1577.0,371.9 L1578.0,372.1 L1579.0,372.0 L1580.0,372.1 L1581.0,372.3 L1582.0,371.7 L1583.0,372.0 L1584.0,372.2 L1585.0,372.5 L1586.0,371.9 L1587.0,372.1 L1588.0,372.2 L1589.0,372.0 L1590.0,371.8 L1591.0,372.3 L1592.0,372.5 L1593.0,372.5 L1594.0,372.1 L1595.0,371.6 L1596.0,371.8 L1597.0,372.5 L1598.0,372.2 L1599.0,372.3 L1600.0,371.9 L1601.0,372.3 L1602.0,371.8 L1603.0,371.6 L1604.0,372.3 L1605.0,372.2 L1606.0,371.7 L1607.0,372.4"/>
<path stroke-width="7.6" stroke-opacity="0.42" d="M156.5,191.5 H277"/>
<path stroke-width="3.3" d="M156.5,191.5 H277"/>
</g>
</g>
<text x="291.0" y="74.0" font-size="56" text-anchor="start" textLength="369.0" lengthAdjust="spacing" stroke="#fff" stroke-width="0.35">Fe-Si-Cr matrix</text>
<text x="288.7" y="141.5" font-size="56" text-anchor="start" stroke="#fff" stroke-width="0.35">After coating</text>
<text x="288.7" y="209.0" font-size="56" text-anchor="start" stroke="#fff" stroke-width="0.35">After annealing</text>
<text x="1242.0" y="81.1" font-size="56" text-anchor="start" textLength="267.0" lengthAdjust="spacing" stroke="#fff" stroke-width="0.35">α-Fe(Si,Cr)</text>
<text x="1195" y="147.7" font-size="56" stroke="#fff" stroke-width="0.35">ZnSO<tspan font-size="40" dy="14" dx="3">4</tspan></text>
<text x="1447.5" y="147.7" font-size="56" text-anchor="start" stroke="#fff" stroke-width="0.35">ZnO</text>
<text x="1203.5" y="225.3" font-size="56" stroke="#fff" stroke-width="0.35">SiO<tspan font-size="40" dy="14">2</tspan></text>
<text x="1434.8" y="225.3" font-size="56" stroke="#fff" stroke-width="0.35">Cr<tspan font-size="40" dy="14">2</tspan><tspan dy="-14">O</tspan><tspan font-size="40" dy="14">3</tspan></text>
<text x="345.8" y="1148.5" font-size="75" text-anchor="middle" textLength="72.0" lengthAdjust="spacingAndGlyphs" stroke="#fff" stroke-width="0.7">30</text>
<text x="559.8" y="1148.5" font-size="75" text-anchor="middle" textLength="72.0" lengthAdjust="spacingAndGlyphs" stroke="#fff" stroke-width="0.7">40</text>
<text x="773.8" y="1148.5" font-size="75" text-anchor="middle" textLength="72.0" lengthAdjust="spacingAndGlyphs" stroke="#fff" stroke-width="0.7">50</text>
<text x="987.8" y="1148.5" font-size="75" text-anchor="middle" textLength="72.0" lengthAdjust="spacingAndGlyphs" stroke="#fff" stroke-width="0.7">60</text>
<text x="1201.8" y="1148.5" font-size="75" text-anchor="middle" textLength="72.0" lengthAdjust="spacingAndGlyphs" stroke="#fff" stroke-width="0.7">70</text>
<text x="1415.8" y="1148.5" font-size="75" text-anchor="middle" textLength="72.0" lengthAdjust="spacingAndGlyphs" stroke="#fff" stroke-width="0.7">80</text>
<text x="679" y="1252.5" font-size="91" stroke="#fff" stroke-width="0.5">2 Theta (<tspan font-size="104" dy="7.5">°</tspan><tspan dy="-7.5" dx="-5">)</tspan></text>
<text transform="translate(77.3,816.5) rotate(-90)" font-size="94" textLength="544" lengthAdjust="spacingAndGlyphs" stroke="#fff" stroke-width="0.5">Intensity (a.u.)</text>
<g fill="#000">
<polygon points="277.7,323.0 281.8,332.9 292.5,333.8 284.4,340.8 286.9,351.2 277.7,345.6 268.5,351.2 271.0,340.8 262.9,333.8 273.6,332.9"/>
<polygon points="314.1,323.5 328.9,338.3 314.1,353.1 299.3,338.3"/>
<polygon points="350.9,323.0 355.0,332.9 365.7,333.8 357.6,340.8 360.1,351.2 350.9,345.6 341.7,351.2 344.2,340.8 336.1,333.8 346.8,332.9"/>
<polygon points="462.0,325.5 475.8,354.2 448.2,354.2"/>
<polygon points="720.7,331.7 724.8,341.6 735.5,342.5 727.4,349.5 729.9,359.9 720.7,354.3 711.5,359.9 714.0,349.5 705.9,342.5 716.6,341.6"/>
<polygon points="810.3,331.7 814.4,341.6 825.1,342.5 817.0,349.5 819.5,359.9 810.3,354.3 801.1,359.9 803.6,349.5 795.5,342.5 806.2,341.6"/>
<polygon points="923.2,331.4 927.3,341.3 938.0,342.2 929.9,349.2 932.4,359.6 923.2,354.0 914.0,359.6 916.5,349.2 908.4,342.2 919.1,341.3"/>
<polygon points="1047.4,332.4 1061.2,360.1 1033.6,360.1"/>
<circle cx="661.8" cy="201.2" r="11.2"/>
<circle cx="1097.9" cy="321.3" r="11.2"/>
<circle cx="1470.5" cy="304.2" r="11.2"/>
<rect x="244.7" y="616.5" width="24.0" height="24.0"/>
<circle cx="1097.7" cy="609.2" r="11.2"/>
<circle cx="1468.5" cy="583.0" r="11.2"/>
<circle cx="1098.4" cy="952.1" r="11.2"/>
<circle cx="1477.4" cy="928.0" r="11.2"/>
<circle cx="1210.7" cy="66.1" r="13.0"/>
<rect x="1151.8" y="124.2" width="28.5" height="24.5"/>
<polygon points="1406.0,112.3 1425.5,148.3 1386.5,148.3"/>
<polygon points="1170.4,193.5 1175.3,205.3 1188.0,206.3 1178.3,214.6 1181.3,227.0 1170.4,220.3 1159.5,227.0 1162.5,214.6 1152.8,206.3 1165.5,205.3"/>
<polygon points="1400.7,192.3 1417.7,209.3 1400.7,226.3 1383.7,209.3"/>
</g>
</svg></body></html>
